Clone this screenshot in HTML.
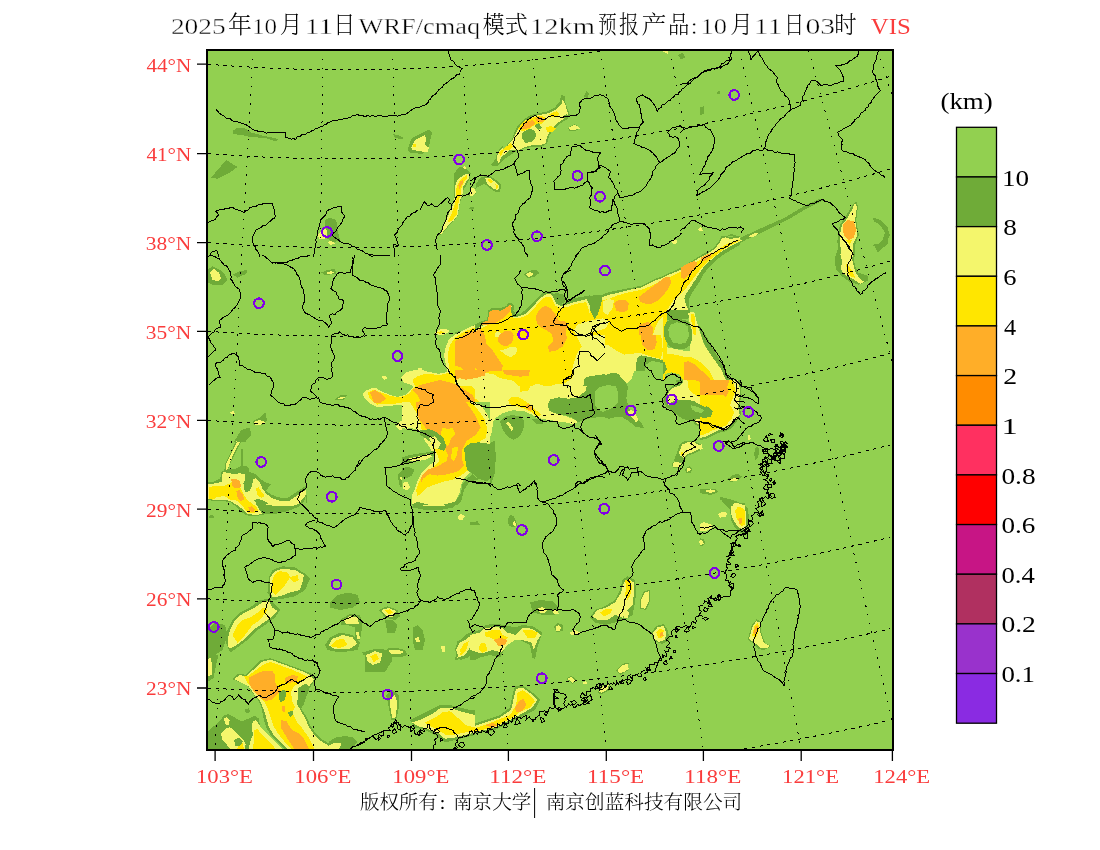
<!DOCTYPE html>
<html><head><meta charset="utf-8"><style>html,body{margin:0;padding:0;background:#fff;overflow:hidden}svg{display:block}</style></head><body>
<svg width="1100" height="850" viewBox="0 0 1100 850">
<rect width="1100" height="850" fill="#fff"/>
<defs><clipPath id="mc"><rect x="207" y="50" width="686" height="700"/></clipPath></defs>
<g clip-path="url(#mc)" shape-rendering="crispEdges"><rect x="207" y="50" width="686" height="700" fill="#92d050"/><path d="M232.5 131.2 L237.5 127.5 L243.8 127.5 L251.2 132.5 L265 136.2 L275 138 L278.8 140 L275 141.2 L265 138 L250 137 L242.5 135 L233.8 134.2Z M211.2 177.5 L217.5 170 L226.2 160 L237.5 167 L230 172.5 L217.5 178.8Z M407.5 150 L411.2 138.8 L420 133.8 L428.8 129.5 L432 132.5 L430 141.2 L428.8 147.5 L422.5 153.8 L410 153Z M392.5 133.8 L397.5 135 L403.8 138 L400 139.5 L395 137.5Z M325 220 L330 217.5 L336.2 220 L337.5 230 L340 240 L332.5 242.5 L326.2 237.5Z M496.2 162.5 L498.8 150 L508.8 140 L517.5 125 L527 117 L535.5 112 L550 108.8 L556.2 105 L561.2 94.5 L566.2 101.2 L570 112.5 L566.2 121.2 L557.5 128.8 L548.8 141.2 L543.8 145 L530 147.5 L520 148.8 L512.5 153.8 L505 158.8 L500 163.8Z M522.5 131.2 L530 128.8 L536.2 131.2 L535 137.5 L526.2 138.8Z M545 124.5 L553.8 122.5 L556.2 127.5 L550 130Z M483.8 181.2 L490 176.2 L496.2 180 L501.2 185 L500 192.5 L493.8 191.2 L487.5 186.2Z M583.8 96.2 L586.2 91.2 L588.8 93.8 L587.5 98.8Z M677.5 55 L682.5 53 L685.5 57 L681.2 59.5Z M700 107.5 L703.8 106.2 L703 113.8 L700 115Z M692.5 257 L707.5 247.5 L722.5 238.8 L731.2 233.8 L737.5 236.2 L735 242.5 L722.5 248.8 L710 255 L705 257Z M840 225 L845 217.5 L852.5 205 L856.2 201.2 L858 206.2 L856.2 220 L858.8 235 L855 245 L855 257 L840 257 L837.5 245 L837.5 235Z M740 238 L762.5 227.5 L785 217.5 L805 205.5 L820 198.8 L823.8 200 L807.5 208 L787.5 220 L765 231.2 L742.5 241.2Z M872.5 217.5 L880 220 L887.5 227.5 L890 235 L885 245 L877.5 252.5 L875 247.5 L882.5 240 L885 232.5 L880 225 L873.8 221.2Z M680 53.8 L683.8 54.5 L685 57.5 L681.2 58.8 L680 58.8Z M701.2 108.8 L704.5 107.5 L703.8 113.8 L700.5 115.5Z M717 92 L719.5 91 L719.5 93.8 L717 94.2Z M207.5 270 L212.5 266.2 L220 270 L225 275 L227.5 280 L222.5 285 L212.5 285 L207.5 282.5Z M232.5 275 L240 271.2 L247.5 270 L246.2 273.8 L237.5 277.5Z M321.2 272.5 L327.5 270 L335 268.8 L336.2 273.8 L325 275Z M335 399.5 L341.2 394.5 L347 395.5 L343 400.5Z M252.5 421.2 L260 417.5 L265.5 412.5 L267 420 L262.5 425 L253.8 425Z M225 467 L230 452.5 L235 440 L241.2 430 L250 427.5 L251.2 435 L242.5 445 L237.5 455 L233.8 467Z M455 332.1 L463.2 330.5 L471.4 326.2 L479.6 322.1 L487.1 319.4 L488.4 310.3 L491.9 307.8 L500 308.5 L506.6 305.8 L508 303 L511.2 302.5 L514.5 306.6 L513.4 310.9 L515.7 313.9 L520.2 313.9 L525.3 309.9 L530.7 304.4 L536.2 298.9 L541.9 293.5 L547.8 290.7 L550.8 291.4 L553.5 293.5 L556.7 296.6 L559.4 303 L562.8 303.7 L566.6 301.7 L570.7 298.9 L577.8 297.6 L586 296.2 L591.5 294.8 L596.9 293.5 L605 293.5 L605 386 L455 386Z M523.9 274.8 L528.7 270.7 L536.9 270 L539.6 272.7 L534.2 276.8 L527.3 278.2Z M720.1 255 L711.9 261.8 L707.8 268.6 L703.7 276.8 L701 285 L698.3 293.2 L695.5 300 L694.2 305.5 L695.5 309.6 L698.3 315.1 L701 323.2 L703.7 331.4 L707.8 339.6 L711.9 347.8 L717.4 358.7 L722.8 371 L600 371 L600 301.4 L605.5 297.6 L612.3 293.5 L617.7 290.8 L627.3 288.6 L634.1 286.7 L639.6 285.8 L647.8 283.7 L654.6 279.6 L661.4 274.1 L668.2 272.1 L676.4 270 L681.9 265.9 L687.3 260.5 L695.5 257 L703.7 255Z M700 252.8 L710.9 247.3 L721.9 242.7 L732.8 240 L745.6 240 L736.5 245.5 L723.7 250.9 L710.9 260.1 L705.5 267.3 L700 274.6Z M855 240 L855 247.3 L853.1 254.6 L855 265.5 L858.6 272.8 L867.7 275.6 L867.7 281 L858.6 284.7 L849.5 281.9 L842.2 276.5 L835.8 269.2 L834.9 258.2 L838.6 247.3 L836.7 240Z M875 243.6 L880.5 244.6 L882.3 240 L887.8 240 L887.8 243.6 L884.1 247.3 L878.7 248.2 L873.2 245.5Z M700 331.2 L707.3 342.1 L716.4 353 L721.9 364 L727.3 374.9 L736.5 384 L741.9 395 L700 395Z M207.5 482.5 L215 477.5 L222.5 470 L227.5 460 L250 460 L247.5 467.5 L250 475 L260 480 L267.5 485 L275 492.5 L287.5 497.5 L297.5 496.2 L302.5 490 L306.2 492.5 L307.5 502.5 L300 507.5 L282.5 507.5 L265 511.2 L257.5 513.8 L247.5 512.5 L237.5 508.8 L227.5 500 L215 497.5 L207.5 497.5Z M412.5 507.5 L415 495 L420 485 L417.5 475 L422.5 465 L432.5 460 L475 460 L475 482.5 L465 490 L460 500 L452.5 507.5 L440 510 L425 510Z M397.5 475 L402.5 470 L407.5 475 L405 485 L400 487.5Z M268.8 577.5 L272.5 570 L282.5 566.2 L295 567.5 L305 573.8 L310 578.8 L305 590 L295 596.2 L282.5 598.8 L272.5 600 L267.5 592.5Z M225 640 L227.5 630 L232.5 620 L240 612.5 L250 607.5 L260 600 L270 598.8 L275 605 L280 610 L275 617.5 L265 625 L257.5 630 L247.5 640 L237.5 647.5 L230 652.5Z M207.5 630 L215 622.5 L225 625 L227.5 635 L222.5 650 L215 655 L207.5 655Z M255 672 L260 660 L270 656.2 L285 657.5 L297.5 663.8 L302.5 672Z M325 645 L330 637.5 L340 632.5 L352.5 635 L360 642.5 L357.5 650 L340 652.5 L327.5 650Z M340 620 L350 613.8 L360 615 L362.5 625 L360 640 L355 640 L355 627.5 L347.5 625 L341.2 625Z M362.5 652.5 L375 648.8 L390 650 L392.5 660 L385 672 L365 672Z M378.8 610 L387.5 606.2 L397.5 610 L400 616.2 L395 620 L385 617.5Z M385 620 L392.5 620 L397.5 625 L395 632.5 L387.5 632.5Z M412.5 627.5 L417.5 625 L422.5 630 L425 640 L422.5 650 L415 650 L412.5 640Z M455 660 L457.5 645 L465 635 L475 630 L475 650 L467.5 657.5Z M386.2 648.8 L395 647.5 L405 650 L407.5 655 L400 657.5 L390 656.2Z M330 602.5 L337.5 595 L347.5 592.5 L357.5 595 L360 602.5 L352.5 607.5 L340 610 L330 607.5Z M470 460 L497.5 460 L495 470 L490 477.5 L482.5 480 L475 477.5 L470 478.8Z M507.5 520 L510 515 L513.8 516.2 L517.5 525 L513.8 527.5 L508.8 525.5Z M470 522.5 L477.5 521.2 L480 524.5 L470 525.5Z M470 632.5 L480 630 L485 625 L495 623.8 L505 625 L515 627.5 L522.5 625 L532.5 626.2 L542.5 632.5 L540 640 L537.5 647.5 L535 660 L532.5 657.5 L530 645 L520 640 L512.5 640 L505 647.5 L500 657.5 L490 655 L480 657.5 L475 660 L470 660Z M530 602.5 L540 600 L552.5 601.2 L558.8 607.5 L555 615 L542.5 615 L532.5 612.5Z M553.8 626.2 L557.5 623 L563 625 L562.5 631.2 L556.2 632Z M590 617.5 L595 610 L605 606.2 L615 600 L620 590 L622.5 580 L627.5 576.2 L635 580 L636.2 592.5 L635 602.5 L632.5 615 L625 620 L615 622.5 L605 625 L595 622.5Z M640 600 L643.8 591.2 L649.5 590 L650.5 600 L646.2 610 L640.5 608.8Z M651.2 632.5 L656.2 626.2 L663.8 623.8 L667.5 630 L670 640 L662.5 643.8 L653.8 641.2Z M720 497.5 L730 500 L737.5 502.5 L745 502.5 L745 535 L740 532.5 L735 527.5 L731.2 520 L730 510 L722.5 502.5Z M700 380 L740.1 380 L741.9 387.3 L736.5 394.6 L734.6 400.1 L740.1 407.3 L738.3 416.5 L732.8 421.9 L725.5 429.2 L714.6 434.7 L707.3 438.3 L700 440.2Z M754.7 449.3 L757.4 446.5 L759.3 449.3 L758.3 456.6 L755.6 460.2 L754.3 454.7Z M727.3 479.4 L732.8 474.8 L738.3 473.9 L741.9 476.6 L738.3 480.3 L731 482.1Z M700 489.4 L707.3 488.5 L716.4 489.4 L718.2 492.1 L710.9 494.9 L703.6 493.9 L700 493Z M731 504 L736.5 501.2 L741.9 504 L747.4 507.6 L749.2 518.6 L747.4 529.5 L740.1 529.5 L736.5 518.6 L732.8 511.3Z M720.1 496.7 L727.3 498.5 L736.5 501.2 L734.6 504 L725.5 502.2 L720.1 499.4Z M233.8 676.2 L245 671.2 L255 662.5 L265 658.8 L277.5 658.8 L290 662.5 L302.5 668.8 L312.5 673.8 L316.2 680 L310 686.2 L302.5 692.5 L295 697.5 L285 700 L275 702.5 L265 702.5 L255 697.5 L247.5 692.5 L240 685Z M260 700 L272.5 700 L282.5 697.5 L295 705 L302.5 715 L312.5 725 L325 735 L340 743.8 L352.5 749 L307.5 749 L297.5 742.5 L287.5 735 L275 727.5 L267.5 717.5 L262.5 710Z M217.5 720 L225 715 L232.5 720 L240 727.5 L250 730 L260 735 L265 742.5 L265 749 L242.5 749 L232.5 745 L225 740 L220 732.5Z M250 721.2 L257.5 717.5 L265 723.8 L271.2 735 L278.8 742.5 L285 749 L262.5 749 L257.5 740 L252.5 732.5Z M207.5 655 L211.2 652.5 L213.8 660 L212.5 675 L207.5 676.2Z M386.2 695 L392.5 690 L398.8 695 L398.8 707.5 L396.2 720 L391.2 720 L388.8 707.5Z M410 720 L420 715 L430 710 L440 705 L450 705 L460 707.5 L470 710 L475 710 L475 735 L465 737.5 L455 740 L445 742.5 L435 735 L425 730 L415 727.5Z M455 650 L457.5 641.2 L465 637.5 L475 635 L475 652.5 L467.5 657.5 L460 660Z M225 749 L230 745 L237.5 749Z M470 725 L485 720 L500 715 L510 707.5 L512.5 695 L515 686.2 L522.5 685 L532.5 692.5 L540 700 L535 710 L525 715 L515 720 L505 725 L495 730 L480 732.5 L470 733.8Z M566.2 678.8 L571.2 675.5 L576.2 679.5 L572.5 683.8Z M597.5 692 L603 685 L610 683.8 L608.8 690.5 L600.5 694.5Z M616.2 670.5 L622 664 L628.8 662.5 L627.5 670.8 L620 675Z M748.3 637.6 L752 624.8 L756.5 619.3 L760.2 621.2 L761.1 632.1 L763.8 639.4 L765.6 643.9 L770.2 644.9 L769.3 647.6 L763.8 650.3 L758.3 648.5 L752.9 643 L748.3 640.3Z M700 538.2 L703.6 539.1 L705.5 543.7 L701.8 546.4 L700 546Z M660.5 360 L727.4 360 L732.8 368.2 L738.3 377.7 L741 387.3 L741 396.9 L739.7 406.4 L741 414.6 L736.9 421.4 L731.5 428.2 L724.7 431.7 L716.5 433 L711 435.7 L705.6 439.2 L701.5 433.7 L700.1 426.9 L694.6 424.1 L691.9 420.1 L687.8 420.1 L682.3 418.7 L676.9 414.6 L671.4 410.5 L666 406.4 L663.2 400.9 L665.3 394.1 L668.7 389.3 L672.8 385.9 L676.9 383.2 L674.2 376.4 L668.7 369.6 L663.2 364.1Z M676.9 452.8 L679.6 444.6 L685.1 440.5 L693.3 440.5 L701.5 444.6 L702.8 448.7 L696 452.8 L687.8 455.5 L683.7 461 L679.6 463.7 L675.5 465.1 L674.2 459.6Z M672.1 463.7 L675.5 460.7 L678.9 462.4 L677.6 467.8 L672.8 468.1Z M685.1 469.2 L689.2 466.2 L692.6 468.9 L690.3 473.3 L685.8 472.6Z M454.1 173.5 L458.8 167.6 L463.5 166.5 L468.2 171.2 L470.6 173.5 L470 178.2 L467.1 184.1 L463.5 190 L462.4 195.9 L460 202.9 L458.8 208.8 L457.6 215.9 L454.1 220.6 L449.4 225.3 L444.7 231.2 L441.2 234.7 L438.8 234.7 L440 231.2 L443.5 225.3 L445.9 218.2 L449.4 211.2 L452.9 204.1 L454.1 197.1 L453.5 187.6 L454.1 180.6Z M468.8 193.8 L471.3 188.8 L475.1 189.4 L476 193.1 L472.6 196.1 L469.4 196.5Z M476.5 182.9 L481.2 177.1 L485.9 175.9 L492.9 178.2 L498.8 182.9 L500 188.8 L496.5 191.8 L491.8 188.8 L487.1 185.3 L483.5 184.1 L478.8 186.5 L475.3 188.8Z M490.6 165.3 L495.3 159.4 L496.5 154.7 L498.8 150 L505.9 150 L504.7 154.7 L501.2 159.4 L500 164.1 L496.5 166.5Z M468.2 208.2 L471.8 206.5 L474.7 208.2 L471.8 210Z" fill="#6fab38"/><path d="M411.2 147.5 L415 140 L425 135 L426.2 138.8 L425 145 L428.8 147.5 L427.5 152.5 L420 151.2 L412.5 150Z M317.5 235 L322 230.5 L326.2 228.8 L327.5 235 L325 238.8 L319.5 238.8Z M327.5 242.5 L331.2 240.5 L335 243.8 L330 245Z M498.8 158.8 L501.2 148.8 L511.2 141.2 L520 126.2 L530 117.5 L537.5 114.5 L550 112 L558.8 108.8 L562.5 100.5 L567.5 108.8 L567.5 115 L561.2 120 L555 128.8 L547.5 137.5 L545 143.8 L533.8 145 L525 145 L516.2 145 L510 150 L502.5 156.2Z M568.8 127.5 L572.5 124.5 L577.5 125.5 L580 128.8 L575 130.5Z M485.5 181.2 L490 178.2 L495 182 L499.5 186.2 L498 190 L493.8 188.8 L488.8 185Z M470 188.8 L473.8 187.5 L476.2 192.5 L472.5 196.2 L470 196.2Z M696.2 257 L710 248.8 L722.5 241.2 L731.2 236.2 L735 238.8 L732.5 243.8 L720 250 L707.5 257Z M672.5 242.5 L676.2 239.5 L680 242.5 L676.2 245Z M698 228.8 L701.2 227 L702.5 230.5 L699.5 231.2Z M662.5 51.2 L668.8 50.5 L667.5 53.8Z M842 225 L847 218.8 L852.5 208.8 L855 203 L857 207 L855 220 L857.5 235 L852.5 245 L852.5 257 L843.8 257 L840 245 L840 235Z M748.8 236.2 L755 233 L758.8 233 L756.2 235.5 L751.2 237.5Z M210 272.5 L213.8 268.8 L218.8 272.5 L221.2 278.8 L218.8 281.2 L212.5 280Z M325 273 L331.2 271.2 L334.5 272.5 L330 274.5Z M435 332.5 L440 329.5 L446.2 329 L450 331.2 L443.8 334.5 L437.5 334.5Z M475 467 L428.8 467 L431.2 461.2 L433.8 453.8 L430 445 L426.2 436.2 L420 430.5 L415 427.5 L408.8 430 L400 430.5 L396.2 426.2 L400 421.2 L411.2 417.5 L415.5 412.5 L415 405 L407.5 405.5 L397.5 405 L387.5 406 L377.5 407 L371.2 404.2 L366.2 400 L362.5 395 L365 391.2 L370 388.8 L375 387.5 L381.2 391.2 L390 395 L397.5 397 L405 395 L413.8 387 L410 384.5 L403.8 382.5 L401.2 377 L406.2 372.5 L412.5 370.5 L420 369.5 L428.8 372 L438.8 373.8 L447.5 372 L445.8 365 L444 355.5 L445.8 347 L448.8 339.5 L457.5 333 L467.5 328 L475 325Z M381.2 377 L385 375.5 L387.5 378 L384.5 380Z M337.5 398.8 L341.5 396.5 L344.5 397.5 L341.2 399.5Z M253.8 422 L260 420 L265.5 422 L261.2 424.5 L255 424.5Z M230 412 L233.8 411.2 L235 413.8 L231.2 414.5Z M226.2 467 L228.8 455 L233.8 445 L237.5 440 L235 452.5 L231.2 467Z M417.5 368.8 L421.2 367.5 L422.5 370 L418.8 370.8Z M455 336.9 L468.6 332.8 L479.6 327.3 L489.1 321.9 L490.5 310.9 L500 310.9 L506.9 308.2 L509.6 305.5 L512.3 305.5 L509.6 312.3 L512.3 317.1 L519.1 316.4 L526 313.7 L532.8 306.9 L539.6 298.7 L545.1 294.6 L550.5 293.9 L553.3 297.3 L556 303.4 L561.5 306.2 L568.3 304.1 L573.7 302.1 L580.6 300.7 L586 299.3 L605 297.3 L605 386 L455 386Z M526 274.1 L529.4 272 L533.5 273 L532.1 276.1 L528 276.8Z M709.2 261.1 L703.7 267.3 L698.3 274.1 L695.5 279.6 L694.2 289.1 L693.5 295.9 L694.2 304.1 L695.5 309.6 L696.9 316.4 L698.3 326 L700.3 334.2 L703.7 342.3 L707.8 350.5 L713.3 361.5 L717.4 371 L600 371 L600 302.8 L605.5 298.7 L612.3 294.6 L617.7 291.9 L627.3 289.8 L634.1 287.8 L639.6 287.1 L647.8 285 L654.6 280.9 L661.4 275.5 L668.2 273.4 L676.4 271.4 L681.9 267.3 L687.3 261.8 L695.5 258.4 L703.7 256.4 L716 255Z M700 256.4 L710.9 250 L723.7 243.6 L736.5 240 L742.8 240 L732.8 244.6 L721.9 249.1 L710.9 256.4 L703.6 261.9 L700 264.6Z M853.1 240 L853.1 247.3 L851.3 256.4 L853.1 263.7 L855 271 L858.6 277.4 L864.1 281.9 L860.4 283.8 L853.1 279.2 L845.9 275.6 L840.4 269.2 L842.2 261.9 L840.4 254.6 L842.2 247.3 L839.5 240Z M700 338.5 L705.5 345.7 L712.8 354.9 L718.2 364 L723.7 374.9 L732.8 385.9 L736.5 395 L700 395Z M210 485 L220 482.5 L225 472.5 L223.8 460 L232.5 460 L230 470 L237.5 475 L240 482.5 L247.5 487.5 L255 485 L260 487.5 L265 495 L275 500 L287.5 502.5 L297.5 501.2 L302.5 495 L305 500 L300 505 L282.5 505 L265 508.8 L257.5 511.2 L247.5 510 L237.5 506.2 L227.5 497.5 L215 495 L210 492.5Z M415 502.5 L417.5 492.5 L422.5 485 L420 475 L425 467.5 L435 460 L475 460 L475 480 L462.5 487.5 L457.5 497.5 L450 505 L437.5 506.2 L425 506.2Z M400 477.5 L403 476.2 L403.8 480 L401.2 480.5Z M457.5 516.2 L461.2 513.8 L465 516.2 L462.5 520 L458.8 519.5Z M270 577.5 L275 571.2 L282.5 568.8 L295 570 L303.8 575 L302.5 582.5 L300 590 L290 592.5 L280 596.2 L272.5 597.5 L270 590Z M227.5 640 L230 630 L235 620 L242.5 613.8 L252.5 608.8 L262.5 602.5 L268.8 601.2 L272.5 607.5 L277.5 611.2 L272.5 616.2 L263.8 622.5 L255 628.8 L245 638.8 L235 646.2 L228.8 648.8Z M257.5 672 L261.2 661.2 L270 658 L283.8 659.2 L296.2 664.5 L301.2 672Z M328.8 645 L332.5 638.8 L342.5 635 L352.5 637.5 L357.5 643.8 L350 648.8 L335 649.5Z M343.8 620 L350 616.2 L357.5 617.5 L358.8 623.8 L352.5 623.8 L346.2 623.8Z M356.2 632.5 L358.8 632 L360 638.8 L357 638.8Z M366.2 655 L375 651.2 L382.5 653.8 L380 662.5 L372.5 665 L367.5 661.2Z M381.2 610 L388.8 608 L396.2 611.2 L392.5 617.5 L386.2 616.2Z M415 638 L418.8 637 L420 642 L416.2 642.5Z M441.2 646.2 L444.5 645.5 L445 652 L442 652.5Z M457.5 657.5 L460 645 L467.5 637.5 L472.5 635 L470 645 L465 655Z M388.8 650.5 L397.5 649.5 L403.8 652 L398.8 654.5 L391.2 654.2Z M512.5 522 L515 521.2 L516.2 525.5 L513.8 526.2Z M470 635 L480 632.5 L485 628 L495 627 L502.5 628 L507.5 632.5 L515 635 L522.5 627.5 L532.5 628.8 L541.2 635 L537.5 640 L533.8 650 L531.2 642.5 L522.5 640 L515 640 L507.5 645 L501.2 652.5 L492.5 650 L485 652.5 L477.5 652.5 L470 650Z M537.5 608.8 L542.5 607 L547.5 610 L545 613 L540 612.5Z M552.5 610 L557.5 609.5 L558.8 613.8 L553.8 614.5Z M555.5 627 L558.8 625 L561.2 627.5 L560 630.5 L556.5 630.5Z M570 632.5 L575 630 L580 632.5 L576.2 635.5 L571.2 635Z M592.5 616.2 L597.5 610 L606.2 607.5 L615 602.5 L621.2 592.5 L623.8 582.5 L628.8 578.8 L633.8 582.5 L633.8 595 L632.5 605 L627.5 610 L622.5 617.5 L615 615 L607.5 620 L597.5 620Z M641.2 600 L645 592.5 L648.8 591.2 L649.5 600 L645 608.8 L641.2 607.5Z M623 612.5 L626.2 610 L629.5 613 L627.5 618 L623.8 617.5Z M653 632.5 L657.5 627.5 L663.8 625.5 L666.2 632.5 L665 640 L658.8 642 L654.5 638.8Z M620 668.8 L623.8 665 L627.5 663.8 L628.8 668.8 L623.8 672Z M672.5 465 L677.5 462 L681.2 463.8 L678.8 467 L673.8 467Z M687 468 L690 467.5 L690.5 471.2 L687.5 471.5Z M731.2 506.2 L737.5 503.8 L745 505 L745 530 L738.8 527.5 L733.8 521.2 L731.2 513.8Z M720 513.8 L723.8 512 L726.2 515 L722.5 517Z M705 525.5 L710 523.8 L713 527 L708.8 529Z M698.8 541.2 L702 539.5 L703.8 543.8 L700.5 545.5Z M706.2 490.5 L711.2 489.5 L715 491.5 L710 493Z M730 479.5 L735 477.5 L738 479.5 L733.8 481.5Z M700 380 L736.5 380 L738.3 387.3 L733.7 394.6 L732.8 401.9 L736.5 409.2 L734.6 416.5 L729.2 421.9 L721.9 428.3 L712.8 432.9 L705.5 436.5 L700 438.3Z M747.4 435.6 L749.6 434.7 L751 439.3 L748.3 440.2Z M729.2 480.3 L733.7 478.5 L737.4 478.5 L736.5 480.6 L731 481.4Z M705.5 490.3 L710.9 489.4 L715.5 490.7 L710.9 492.1 L706.4 491.8Z M732.8 504 L737.4 502.5 L741.9 505.8 L745.6 511.3 L746.5 522.2 L744.7 528.6 L740.1 527.7 L738.3 518.6 L734.6 511.3Z M718.2 514 L722.8 511.6 L727.3 513.1 L725.5 516.7 L720.1 517.6Z M700 524 L703.6 522.2 L709.1 524 L710.9 528.6 L705.5 531.3 L700 531.3Z M700 444.7 L702.2 444.2 L702.7 449.3 L700 449.6Z M237.5 676.2 L246.2 673 L256.2 665 L266.2 660.5 L277.5 660.5 L288.8 664 L301.2 670 L311.2 675 L313.8 680 L307.5 685 L300 691.2 L292.5 695 L282.5 697.5 L275 700 L266.2 700.5 L257.5 696.2 L250 691.2 L242.5 683.8Z M263.8 701.2 L273.8 701.2 L282.5 700 L292.5 707.5 L300 717.5 L310 727.5 L322.5 737.5 L335 745 L342.5 749 L312.5 749 L300 742.5 L290 735 L280 727.5 L271.2 717.5 L266.2 710Z M220 721.2 L225 717.5 L230 722.5 L235 730 L245 732.5 L255 737.5 L260 745 L257.5 749 L242.5 749 L235 742.5 L227.5 737.5 L222.5 730Z M252.5 722.5 L257.5 720 L262.5 725 L267.5 735 L275 742.5 L280 749 L265 749 L260 740 L255 732.5Z M207.5 657.5 L210 656.2 L211.2 665 L210 674.5 L207.5 675Z M390 697.5 L395 695 L397.5 702.5 L395.5 717.5 L392 717.5 L390.5 707.5Z M412.5 722.5 L422.5 718.8 L432.5 713.8 L441.2 707.5 L450 707.5 L460 711.2 L470 713.8 L475 715 L475 732.5 L465 735 L455 737.5 L445 738.8 L437.5 732.5 L427.5 728.8 L417.5 726.2Z M456.2 650 L460 642.5 L467.5 638.8 L472.5 638.8 L470 647.5 L465 655 L458.8 657.5Z M470 727.5 L485 722.5 L500 717.5 L511.2 710 L513.8 697.5 L516.2 688.8 L522.5 687.5 L531.2 693.8 L537.5 700 L532.5 707.5 L523.8 712.5 L515 717.5 L505 722.5 L495 727.5 L480 731.2 L470 732Z M567.5 678.8 L571.2 677 L575 680 L572.5 682.5Z M582.5 682 L586.2 681.2 L587.5 683.8 L583.8 684.5Z M598.8 691.2 L603.8 686.2 L608.8 685 L607.5 689.5 L601.2 693Z M617.5 670 L622.5 665 L627.5 663.8 L626.2 670 L620 673.8Z M749.2 638.5 L752.9 625.7 L756.5 621.2 L759.8 622.6 L760.2 632.1 L762.9 640.3 L763.8 646.7 L760.2 647.6 L755.6 641.2 L750.1 640.3Z M751.1 640 L759.4 640 L765.3 643.5 L770 645.9 L767.7 648.3 L761.7 648.3 L757 644.7Z M455 370 L605 370 L605 375.5 L594.2 378.2 L587.4 382.3 L586 390.5 L577.8 397.3 L568.3 398.7 L558.7 397.3 L550.5 399.3 L547.8 404.1 L549.2 410.9 L556 413.7 L564.2 415.7 L572.4 418.5 L577.8 421.9 L572.4 424.6 L564.2 423.2 L553.3 420.5 L543.7 419.1 L536.9 417.8 L531.4 414.4 L523.2 410.9 L512.3 410.3 L502.8 413 L495.9 417.8 L493.2 421.9 L491.9 431.4 L488.4 443.7 L475.5 444.4 L468.6 449.2 L465.9 457.3 L464.6 468.3 L460.5 476.5 L455 479.2Z M595 360 L637.3 360 L635.9 368.2 L633.2 373.6 L631.9 379.1 L627.8 383.2 L622.3 381.8 L616.8 375 L611.4 373.6 L605.9 375 L600.5 376.4 L595 377.7Z M661.9 360 L726 360 L731.5 368.2 L736.9 377.7 L739.7 387.3 L739.7 396.9 L738.3 406.4 L739.7 414.6 L735.6 420.1 L730.1 426.9 L723.3 429.6 L715.1 431 L709.6 433.7 L705.6 437.1 L702.8 432.3 L701.5 425.5 L696 422.8 L693.3 420.1 L698.7 418.7 L705.6 418.7 L710.3 414.6 L706.9 410.5 L698.7 407.8 L693.3 403.7 L685.1 401.6 L676.9 399.6 L671.4 402.3 L668.7 405 L666 400.9 L667.3 395.5 L669.4 390.7 L674.2 387.3 L679.6 385.9 L683.7 381.8 L679.6 376.4 L672.8 370.9 L666 365.5Z M678.9 452.8 L682.3 444.6 L687.8 441.9 L693.3 441.9 L700.1 445.3 L700.8 448 L694.6 451.4 L687.8 454.2 L683.7 458.3 L680.3 455.5Z M672.8 463.7 L675.5 461.7 L678.3 463 L676.9 466.5 L673.5 467.1Z M686.7 469.2 L689.2 467.8 L691.2 469.2 L689.7 471.2 L687.3 471.1Z M455.3 185.3 L457.6 179.4 L462.4 175.9 L467.1 173.5 L469.4 174.1 L468.8 178.2 L465.9 181.8 L463.5 186.5 L462.4 194.7 L460 200.6 L458.8 208.8 L457.6 215.3 L454.1 220 L449.4 224.1 L444.7 230 L440.6 234.7 L440 232.9 L443.5 226.5 L446.5 219.4 L449.4 212.4 L452.9 205.3 L454.7 197.1 L454.7 190Z M463.3 167.6 L464.7 165.3 L466.1 167.6 L465.3 169.4Z M469.4 193.5 L471.8 189.4 L474.7 190 L475.3 192.9 L472.4 195.3 L470 195.9Z M485.3 178.2 L489.4 177.6 L493.5 180.6 L498.2 184.1 L499.4 187.6 L497.1 190 L494.1 187.1 L490.6 184.1 L486.5 182.4Z M496.5 159.4 L497.6 154.7 L500 150 L505.3 150 L504.1 153.5 L501.2 157.1 L500 161.2 L498.2 162.9Z" fill="#f4f66c"/><path d="M413 144.5 L415.5 144 L416 146.5 L413.5 147Z M705 257 L717.5 249.5 L727.5 243.8 L731.2 245 L720 252.5 L712.5 257Z M437.5 332.5 L441.2 330.8 L443.8 332.5 L440 333.8Z M475 467 L436.2 467 L436.2 450 L432.5 440 L425 430 L415 425 L418.8 417.5 L420 408.8 L415 402.5 L405 403 L390 403.8 L377.5 404.5 L370 398.8 L367.5 393 L372.5 390 L380 392 L390 395.8 L400 397.5 L408.8 393.8 L415 386.2 L412.5 380 L417.5 376.2 L425 373.8 L440 375 L450 372.5 L448.8 365 L447.5 355 L450 345 L455 337.5 L465 331.2 L475 327.5Z M455 338.9 L468.6 334.8 L479.6 329.4 L489.8 323.9 L491.9 313 L500 313 L507.5 309.9 L510.3 308.5 L511 312.3 L513.7 318.5 L520.5 317.8 L527.3 315 L534.2 308.2 L540.3 300.7 L545.8 296.6 L550.5 296.6 L552.6 300 L555.3 305.8 L561.5 308.2 L568.3 306.6 L575.1 304.1 L581.9 302.8 L586 302.1 L589.4 310.9 L590.1 320.5 L586 321.9 L577.8 324.6 L573.7 330.1 L577.8 338.2 L581.9 346.4 L577.8 351.9 L575.1 358.7 L572.4 368.3 L566.9 376.5 L561.5 381.9 L550.5 386 L455 386Z M703.7 265.9 L698.3 274.1 L694.2 280.9 L692.8 289.1 L690.1 295.9 L684.6 300 L676.4 302.1 L668.2 304.1 L664.1 309.6 L665.5 315.1 L662.8 319.1 L660.1 326 L661.4 336.9 L662.8 350.5 L660.1 361.5 L665.5 362.8 L673.7 364.2 L676.4 371 L706.5 371 L701 361.5 L692.8 356 L684.6 353.3 L676.4 353.3 L668.2 358.7 L660.1 358.7 L649.1 356 L640.9 353.3 L635.5 353.3 L624.6 354.6 L616.4 350.5 L608.2 345.1 L600 343.7 L600 339.6 L602.7 336.9 L608.2 331.4 L613.6 320.5 L610.9 315.1 L605.5 313.7 L600 315.1 L600 304.1 L605.5 300.7 L615 295.9 L624.6 293.2 L634.1 290.8 L642.3 289.8 L650.5 287.8 L657.3 283.7 L662.8 278.9 L669.6 276.8 L677.8 275.5 L684.6 272.7 L688.7 267.3 L694.2 263.2 L701 260.5 L709.2 256.4Z M690.1 315.1 L692.8 313 L695.5 316.4 L696.2 323.2 L695.5 328.7 L694.2 331.4 L692.1 326 L690.8 320.5Z M700 258.2 L710.9 252.8 L723.7 246.4 L736.5 240.9 L727.3 245.5 L716.4 251.9 L705.5 258.2 L700 261Z M852.2 240 L849.5 244.6 L845.9 240Z M845.9 263.7 L849.5 267.3 L853.1 272.8 L855.9 278.3 L851.3 276.5 L847.7 272.8 L846.8 269.2Z M700 353 L707.3 358.5 L714.6 367.6 L720.1 378.6 L725.5 389.5 L727.3 395 L700 395Z M227.5 475 L235 475 L242.5 480 L242.5 490 L246.2 495 L250 497.5 L253.8 506.2 L250 511.2 L245 508.8 L238.8 501.2 L232.5 492.5 L228.8 485Z M256.2 487.5 L262.5 490 L268.8 497.5 L262.5 500 L257.5 495Z M210.5 486.2 L217.5 485 L220 490 L215 494.5 L210.5 492Z M420 490 L425 482.5 L425 472.5 L432.5 465 L445 460 L465 460 L467.5 467.5 L460 475 L452.5 480 L447.5 487.5 L440 490 L430 492.5Z M272.5 580 L275 573.8 L280 571.2 L287.5 572.5 L290 577.5 L285 585 L280 590 L275 595 L271.2 590Z M288.8 577.5 L297.5 575 L298.8 580 L293.8 582.5Z M232.5 635 L237.5 625 L242.5 620 L250 617.5 L257.5 612.5 L262.5 607.5 L267.5 610 L260 620 L252.5 625 L245 635 L237.5 642.5Z M260 672 L263.8 663 L271.2 660 L282.5 661.2 L293.8 666.2 L297.5 672Z M330 646.2 L336.2 640 L343.8 638.8 L347.5 645 L340 648Z M370 656.2 L376.2 653.8 L378.8 658.8 L373.8 662Z M385 610.5 L390 609.2 L393 612.5 L388.8 614.5Z M460 655 L462.5 647.5 L467.5 641.2 L466.2 650Z M485 632.5 L492.5 630 L500 630 L502.5 635 L507.5 637.5 L505 640 L500 645 L495 640 L490 637.5 L485 636.2Z M522.5 630 L530 629.5 L537.5 632.5 L535 637.5 L527.5 637.5Z M480 643.8 L485 642.5 L487.5 650 L482.5 652.5 L478.8 650Z M600 612.5 L606.2 608.8 L612.5 608.8 L610 613.8 L603.8 616.2Z M625 580 L630 579.5 L632 587.5 L630 596.2 L627.5 600 L625 595 L626.2 587.5Z M656.2 632.5 L660 628.8 L663.8 630 L662.5 637.5 L658 638Z M735 510 L741.2 507.5 L745 510 L745 525 L740 523.8 L736.2 517.5Z M700 380 L732.8 380 L734.6 387.3 L731 396.4 L729.2 403.7 L732.8 411 L731 416.5 L725.5 421.9 L720.1 427.4 L710.9 431 L703.6 434.7 L700 435.6Z M736.5 507.6 L741 506.7 L743.8 513.1 L744.7 524 L741 526.8 L739.2 518.6 L737.4 513.1Z M243.8 677.5 L250 675 L257.5 667.5 L267.5 663.8 L277.5 664.5 L287.5 667.5 L300 672.5 L307.5 677.5 L302.5 683.8 L295 688.8 L285 692.5 L275 696.2 L266.2 697.5 L258.8 693.8 L252.5 688.8 L247.5 682.5Z M267.5 705 L275 705 L282.5 707.5 L290 715 L297.5 725 L307.5 735 L317.5 742.5 L325 749 L310 749 L300 740 L290 730 L280 722.5 L272.5 715 L268.8 710Z M257.5 735 L262.5 737.5 L267.5 745 L268.8 749 L261.2 749 L258.8 742.5Z M425 722.5 L435 717.5 L442.5 712.5 L450 711.2 L457.5 717.5 L465 725 L475 727.5 L475 731.2 L465 732.5 L455 734.5 L446.2 735 L437.5 730 L430 726.2Z M460 650 L463.8 643.8 L468.8 641.2 L466.2 650 L461.2 655Z M470 729.5 L485 725 L497.5 720 L510 715 L516.2 705 L517.5 692.5 L522.5 690 L530 695 L535 701.2 L530 707.5 L521.2 711.2 L512.5 717.5 L500 723.8 L487.5 728.8 L475 731.2Z M752 635.7 L754.7 625.7 L757.4 623 L759.3 625.7 L758.3 632.1 L755.6 637.6Z M455 370 L573.7 370 L572.4 378.2 L564.2 383.6 L550.5 385 L536.9 380.9 L531.4 383.6 L528.7 390.5 L520.5 391.8 L519.1 383.6 L515.1 378.2 L502.8 375.5 L494.6 372.7 L486.4 375.5 L479.6 380.9 L471.4 385 L468.6 391.8 L475.5 398.7 L485 405.5 L490.5 415 L489.1 427.3 L487.8 435.5 L482.3 441 L474.1 445.7 L468 450.5 L465.2 458.7 L463.2 471 L457.7 476.5 L455 477.8Z M671.4 360 L723.3 360 L728.8 369.6 L732.8 380.5 L735.6 391.4 L732.8 398.2 L730.1 405 L734.2 411.9 L731.5 418.7 L726 425.5 L717.8 428.2 L711 431 L706.9 433.7 L704.2 428.2 L702.8 424.1 L706.9 421.4 L715.1 418.7 L717.8 413.2 L713.7 406.4 L706.9 402.3 L698.7 396.9 L691.9 392.8 L687.8 387.3 L687.8 381.8 L682.3 373.6 L676.9 366.8Z M680.3 454.2 L682.3 451.4 L683.7 454.2 L681.7 455.5Z M456.5 187.6 L458.8 181.8 L463.5 177.1 L467.6 174.7 L467.1 178.2 L464.1 181.8 L461.8 186.5 L460.6 194.7 L458.8 200.6 L457.6 208.8 L456.5 214.7 L452.9 219.4 L448.8 222.9 L448.2 220.6 L451.8 213.5 L454.1 206.5 L455.9 199.4 L455.9 193.5Z M487.6 179.4 L490.6 178.8 L492.9 181.8 L490.6 183.5Z M495.3 184.1 L497.6 185.3 L498.2 187.6 L496.5 188.6Z M498.8 153.5 L501.2 150 L504.1 150 L502.4 153.5 L500.6 155.9Z" fill="#ffe600"/><path d="M494.6 334.1 L497.3 331.4 L500.7 332.8 L500 336.9 L495.9 337.6Z M500 350.5 L505.5 349.2 L511 346.4 L517.1 347.8 L516.4 353.3 L511 357.3 L505.5 354.6Z M455 373.7 L465.9 371.7 L475.5 373.7 L485 375.1 L495.9 375.1 L497.3 386 L455 386Z M577.8 326 L586 323.2 L591.5 321.9 L605 321.9 L605 386 L575.1 386 L573.7 373.7 L577.8 365.5 L577.8 354.6 L583.3 346.4 L579.2 338.2 L575.1 331.4Z M604.1 301.4 L609.6 299.4 L613.6 302.1 L613 309.6 L610.9 313 L605.5 312.3 L604.1 306.9Z M600 343.7 L608.2 345.1 L616.4 350.5 L624.6 354.6 L635.5 353.3 L636.2 358.7 L635.5 371 L600 371Z M463.2 375.5 L472.7 372.7 L482.3 372.7 L493.2 374.1 L500 378.2 L513.7 380.9 L517.8 385 L519.1 393.2 L526 393.2 L531.4 386.4 L536.9 383.6 L550.5 387.7 L564.2 386.4 L572.4 382.3 L575.1 389.1 L577.8 395.9 L568.3 397.3 L558.7 395.9 L550.5 398.7 L545.1 404.1 L536.9 401.4 L530.1 397.3 L519.1 397.3 L509.6 395.9 L495.9 398.7 L486.4 395.9 L478.2 391.8 L471.4 386.4 L465.9 380.9Z" fill="#f4f66c"/><path d="M521.2 125 L527.5 120 L533.8 121.2 L531.2 126.2 L523.8 128.8Z M535.5 117.5 L541.2 115.8 L546.2 118.8 L542.5 122 L536.2 121.2Z M842.5 225 L847.5 220 L853.8 221.2 L856.2 230 L853.8 237.5 L848.8 240 L843.8 235Z M475 375 L472.5 375 L465 372.5 L460 365 L462.5 355 L460 347.5 L460 337.5 L467.5 332.5 L475 330Z M370 392.5 L375 390 L381.2 393.8 L386.2 398.8 L380 403 L373.8 402.5Z M412.5 390 L420 385 L430 382.5 L440 380 L450 382.5 L457.5 385 L465 390 L472.5 395 L475 400 L475 445 L465 445 L457.5 435 L447.5 430 L440 425 L432.5 420 L425 415 L420 415 L417.5 407.5 L420 400 L417.5 395Z M455 341 L463.2 336.9 L470 334.1 L475.5 331.4 L480.9 328.7 L485 335.5 L486.4 343.7 L491.9 349.2 L497.3 357.3 L502.8 365.5 L501.4 371 L490.5 371 L482.3 373.7 L475.5 368.3 L468.6 365.5 L463.2 368.3 L455 365.5Z M489.8 310.9 L495.9 309.6 L500 310.9 L505.5 308.2 L509.6 304.8 L511.6 306.2 L509.6 312.3 L505.5 316.4 L500 320.5 L494.6 323.2 L489.1 324.6 L482.3 324.6 L481.6 323.2 L487.8 320.5Z M498.7 335.5 L504.1 331.4 L511 330.7 L513.7 335.5 L512.3 342.3 L506.9 346.4 L501.4 345.1 L498 341Z M535.5 316.4 L539.6 309.6 L545.1 305.5 L550.5 308.2 L556 315 L558.7 320.5 L564.2 320.5 L568.3 324.6 L565.6 331.4 L566.9 338.2 L562.8 346.4 L556 350.5 L549.2 351.9 L547.8 346.4 L553.3 341 L551.9 334.1 L546.4 330.1 L541 327.3 L536.9 323.2Z M613.6 302.8 L617.7 298.7 L623.9 298.4 L628.7 302.1 L628.9 308.2 L625.9 313 L620.5 314 L615 311Z M623.2 294.6 L628.7 293.2 L634.1 293.9 L633.4 296.6 L627.3 297.6 L623.9 296.6Z M640.9 291.9 L647.8 287.8 L654.6 284.3 L660.1 282.3 L664.1 286.4 L662.8 293.2 L657.3 295.9 L653.2 301.4 L647.8 302.8 L643.7 298.7Z M665.5 278.2 L671 275.5 L676.4 274.1 L681.9 271.4 L684.6 267.3 L690.1 263.2 L694.2 260.5 L692.8 267.3 L688.7 272.7 L686 278.2 L681.9 282.3 L676.4 282.3 L671 280.9Z M640.9 326 L646.4 321.9 L653.2 323.2 L656 331.4 L656.6 342.3 L654.6 349.2 L647.8 350.5 L642.3 345.1 L640.9 336.9Z M681.9 364.2 L686 361.5 L691.4 362.8 L695.5 371 L681.9 371Z M701 365.6 L706.5 364.2 L709.2 371 L702.4 371Z M700 367.6 L707.3 365.8 L714.6 374.9 L720.1 385.9 L721.9 395 L700 395Z M232.5 480 L237.5 481.2 L240 487.5 L243.8 495 L241.2 500 L236.2 495 L232.5 487.5Z M248.8 503.8 L252.5 502.5 L255 508.8 L251.2 511.2Z M422.5 477.5 L430 470 L440 465 L450 462.5 L460 460 L465 462.5 L460 470 L450 473.8 L440 476.2 L432.5 481.2 L425 483.8Z M265 672 L268.8 668 L275 669.5 L276.2 672Z M493.8 640 L500 637.5 L507.5 640 L505 645 L498.8 646.2Z M659.5 633 L662.5 632 L663.8 635.5 L660.5 636.5Z M700 380 L729.2 380 L727.3 387.3 L723.7 394.6 L714.6 392.8 L707.3 390.9 L700 392.8Z M738.3 518.6 L741.6 517.6 L742.3 523.1 L739.2 524Z M248.8 680 L257.5 676.2 L262.5 671.2 L270 670 L275 676.2 L282.5 677.5 L290 675 L295 677.5 L290 685 L282.5 690 L275 695 L267.5 697.5 L260 693.8 L255 687.5Z M272.5 707.5 L280 711.2 L285 720 L290 727.5 L300 737.5 L310 745 L315 749 L302.5 749 L295 742.5 L285 732.5 L277.5 725 L273.8 717.5Z M485 725 L492.5 723 L497.5 725 L492.5 728Z M515 707.5 L520 700 L523.8 698.8 L526.2 705 L522.5 711.2 L516.2 712.5Z M753.2 633 L755.6 626.6 L757.4 625.7 L758 629.4 L755.6 634.8Z M455 397.3 L460.5 395.9 L465.9 402.8 L472.7 404.1 L482.3 409.6 L486.4 415 L483.7 424.6 L480.9 431.4 L474.1 435.5 L471.4 441 L465.9 446.4 L463.2 454.6 L460.5 465.5 L455 471Z M455 370 L486.4 370 L485 375.5 L475.5 378.2 L465.9 379.6 L459.1 378.2 L455 380.9Z M502.8 370 L530.1 370 L528.7 375.5 L520.5 376.8 L512.3 375.5 L504.1 374.1Z M683.7 362.7 L689.2 360 L704.2 362.7 L711 368.2 L717.8 375 L724.7 381.8 L728.8 391.4 L726 396.9 L717.8 391.4 L711 387.3 L702.8 383.2 L696 380.5 L689.2 375 L685.1 369.6Z M458.2 185.3 L460.6 181.2 L463.5 179.4 L462.9 182.9 L460.6 186.5 L459.4 188.8Z" fill="#ffae28"/><path d="M586 298 L591.5 296.6 L596.9 295.9 L602.4 297.3 L605 301.4 L601 305.5 L598.3 310.9 L595.6 319.1 L591.5 318.5 L590.1 310.9 L589.4 304.1Z M551.2 295.2 L556 293.2 L562.8 293.9 L565.6 297.3 L564.2 302.8 L560.1 304.1 L556 302.1 L553.3 297.3Z M584.7 377.8 L591.5 375.8 L599.7 375.1 L605 373.7 L605 386 L583.3 386Z M694.4 295.9 L695.5 289.1 L697.2 280.9 L699.9 274.1 L705.4 267.3 L710.8 261.8 L716 255 L720.1 255 L711.9 261.8 L707.8 268.6 L703.7 276.8 L701 285 L698.3 293.2 L696.2 300 L695.3 305.5Z M695.8 309.6 L698.5 315.1 L701.3 323.2 L704 331.4 L708.1 339.6 L712.2 347.8 L717.6 358.7 L722.8 371 L717.4 371 L713.3 361.5 L707.8 350.5 L704 342.3 L700.6 334.2 L698.5 326 L697.2 316.4Z M664.1 326 L666.9 320.5 L672.3 318.5 L679.2 319.1 L686 320.5 L690.1 323.2 L692.8 331.4 L694.2 339.6 L691.4 347.8 L684.6 350.5 L676.4 349.2 L669.6 345.1 L665.5 338.3 L663.5 331.4Z M636.9 358.7 L640.9 355.3 L651.9 357.4 L662.8 360.1 L673.7 364.2 L676.4 371 L635.5 371Z M700 407.3 L707.3 406.4 L712.8 411 L710.9 416.5 L703.6 418.3 L700 416.5Z M547.8 404.1 L550.5 399.3 L558.7 397.3 L568.3 398.7 L577.8 397.3 L586 390.5 L587.4 382.3 L594.2 378.2 L605 375.5 L605 416.4 L594.2 417.8 L586 420.5 L577.8 421.9 L572.4 417.8 L564.2 415 L556 413.7 L549.2 410.9Z M455 486 L455 479.2 L460.5 476.5 L464.6 468.3 L465.9 457.3 L468.6 450.5 L475.5 444.4 L488.4 443.7 L494.6 441 L495.9 457.3 L494.6 473.7 L490.5 486Z M595 377.7 L600.5 376.4 L605.9 375 L611.4 373 L618.2 373.6 L622.3 379.1 L626.4 383.2 L627.8 387.3 L626.4 398.2 L627.8 403.7 L630.5 411.9 L635.9 417.3 L641.4 422.8 L644.1 428.2 L635.9 426.9 L629.1 421.4 L622.3 417.3 L615.5 417.3 L608.6 418.7 L601.8 417.3 L595 416Z M679.6 400.9 L685.1 399.6 L693.3 400.9 L701.5 405 L709.6 409.1 L712.4 414.6 L709.6 417.3 L702.8 416 L697.4 411.9 L690.5 409.1 L683.7 406.4Z" fill="#6fab38"/><path d="M455 479.2 L459.1 477.1 L463.2 477.8 L462.5 486 L455 486Z" fill="#f4f66c"/><path d="M508.2 400 L512.3 396.6 L519.1 397.3 L526 401.4 L531.4 405.5 L536.9 410.9 L541 415 L536.9 416.4 L531.4 412.3 L523.2 408.2 L515.1 405.5 L509.6 404.1Z" fill="#ffe600"/><path d="M525.3 404.8 L528.7 404.1 L532.1 408.2 L531.4 410.9 L528 409.6Z" fill="#ffae28"/><path d="M668.2 327.3 L671 322.6 L676.4 321.6 L683.3 322.6 L688 326 L689.4 332.8 L688.7 341 L684.6 345.1 L677.8 344.4 L672.3 341 L668.9 335.5Z M646.4 364.2 L651.9 360.8 L661.4 362.8 L671 366.9 L672.3 371 L645 371Z M493.2 428.7 L495.9 419.1 L501.4 415 L512.3 413 L523.2 413.7 L531.4 417.1 L536.9 420.5 L543.7 421.2 L553.3 421.2 L564.2 421.9 L573.7 424.6 L581.9 422.5 L586 419.1 L592.8 417.8 L605 417.1 L605 486 L490.5 486 L494.6 473.7 L495.9 457.3 L494.6 441Z M599.1 387.3 L607.3 385.2 L615.5 385.9 L618.2 392.8 L618.2 402.3 L612.7 407.8 L603.2 411.9 L597.7 409.1 L595 405 L595 391.4Z M690.5 405 L698.7 407.1 L704.2 410.5 L701.5 413.2 L696 411.9 L691.9 409.1Z" fill="#92d050"/><path d="M500 421.9 L504.1 417.1 L512.3 415 L520.5 416.4 L524.6 421.9 L523.2 430.1 L519.1 436.9 L513.7 439.6 L508.2 436.9 L502.8 430.1Z M531.4 419.1 L536.9 419.1 L543.7 421.9 L542.3 424.6 L536.9 423.9Z" fill="#6fab38"/><path d="M506.2 423.2 L508.2 421.9 L513.7 428 L511.6 430.7Z M627.8 411.9 L630.5 409.8 L634.6 411.9 L638.7 420.1 L635.9 422.1 L631.9 417.3Z" fill="#f4f66c"/><clipPath id="ov0"><rect x="590" y="236" width="150" height="99"/></clipPath><g clip-path="url(#ov0)"><rect x="590" y="236" width="150" height="99" fill="#92d050"/><path d="M584.5 296.3 L602.5 294.6 L609.1 292.2 L617.3 290.5 L625.5 288.9 L633.6 287.3 L641.8 285.6 L648.4 282.4 L654.9 279.1 L661.5 276.6 L668 273.4 L674.5 270.9 L681.1 267.6 L687.6 263.5 L694.2 259.5 L700.7 255.4 L707.3 252.1 L713.8 248 L718.7 241.5 L721.2 236.5 L723.6 234.9 L730.2 237.4 L735.1 235.7 L740 234.9 L740 244.7 L731.8 249.6 L723.6 254.5 L717.1 259.5 L712.2 264.4 L707.3 269.3 L702.4 275.8 L699.1 282.4 L695.8 287.3 L692.5 292.2 L689.3 298.7 L689.3 306.9 L690.9 311.8 L695.8 315.1 L699.1 324.9 L704 340 L584.5 340Z" fill="#6fab38"/><path d="M584.5 299.5 L602.5 297.1 L609.1 294.6 L617.3 293 L625.5 290.9 L633.6 288.9 L641.8 287.3 L648.4 284 L654.9 280.7 L661.5 278.3 L668 275 L674.5 272.5 L681.1 269.3 L687.6 265.2 L694.2 261.1 L700.7 257 L707.3 253.7 L713.8 249.6 L719.5 243.1 L722 238.2 L725.3 237.4 L730.2 239 L740 237.4 L740 241.5 L730.2 246.4 L722 251.3 L715.5 256.2 L709.7 261.1 L704 266.8 L699.9 272.5 L695.8 279.1 L692.5 284 L689.3 288.9 L686 293.8 L684.4 298.7 L686 305.3 L689.3 311.8 L694.2 316.7 L695.8 324.9 L699.1 340 L584.5 340Z" fill="#f4f66c"/><path d="M671.3 242.3 L674.5 239.8 L677.8 240.6 L676.2 243.9 L672.9 243.9Z" fill="#f4f66c"/><path d="M584.5 302.8 L602.5 300.4 L609.1 298.7 L617.3 295.5 L625.5 293 L633.6 291.4 L641.8 289.7 L650 286.5 L658.2 282.4 L666.4 278.3 L674.5 275 L681.1 271.7 L687.6 267.6 L694.2 263.5 L700.7 259.5 L707.3 256.2 L713.8 252.9 L720.4 248 L726.9 243.9 L733.5 241.5 L740 239.8 L740 240.6 L731.8 244.7 L723.6 249.6 L717.1 254.5 L710.5 259.5 L704 265.2 L699.1 270.9 L694.2 277.5 L689.3 284 L684.4 290.5 L679.5 295.5 L674.5 298.7 L671.3 303.6 L668 308.5 L664.7 313.5 L661.5 318.4 L658.2 321.6 L654.9 328.2 L651.6 340 L584.5 340Z" fill="#ffe600"/><path d="M602.5 302 L609.1 298.7 L614 300.4 L612.4 308.5 L607.5 315.1 L602.5 311.8Z" fill="#f4f66c"/><path d="M584.5 321.6 L602.5 318.4 L609.1 321.6 L605.8 328.2 L596 331.5 L584.5 331.5Z" fill="#f4f66c"/><path d="M614 303.6 L618.9 299.5 L625.5 299.5 L628.7 303.6 L627.9 310.2 L623 312.6 L616.5 311Z" fill="#ffae28"/><path d="M638.5 297.1 L645.1 292.2 L651.6 287.3 L658.2 282.4 L664.7 277.5 L669.6 276.6 L671.3 282.4 L668 288.9 L663.1 295.5 L658.2 300.4 L651.6 303.6 L645.1 303.6 L640.2 302Z" fill="#ffae28"/><path d="M681.1 267.6 L687.6 263.5 L694.2 261.1 L697.5 262.7 L694.2 269.3 L689.3 274.2 L684.4 279.1 L681.1 277.5Z" fill="#ffae28"/><path d="M700.7 257.8 L707.3 254.5 L712.2 252.9 L710.5 257 L705.6 260.3 L701.5 261.1Z" fill="#ffae28"/><path d="M638.5 324.9 L648.4 321.6 L653.3 328.2 L651.6 340 L638.5 340Z" fill="#ffae28"/><path d="M584.5 298.7 L596 295.5 L602.5 297.1 L600.9 305.3 L597.6 315.1 L594.4 319.2 L591.1 311.8 L586.2 306.9Z" fill="#6fab38"/><path d="M666.4 321.6 L671.3 318.4 L677.8 317.5 L684.4 319.2 L689.3 323.3 L690.9 331.5 L689.3 340 L666.4 340 L664.7 328.2Z" fill="#6fab38"/><path d="M671.3 324.9 L676.2 322.5 L682.7 323.3 L686.8 328.2 L686 340 L671.3 340 L669.6 329.8Z" fill="#92d050"/><path d="M689.3 313.5 L692.5 311.8 L695 316.7 L696.6 328.2 L697.5 340 L692.5 340 L690.9 324.9Z" fill="#f4f66c"/></g><clipPath id="ov1"><rect x="207" y="655" width="158" height="94"/></clipPath><g clip-path="url(#ov1)"><rect x="207" y="655" width="158" height="94" fill="#92d050"/><path d="M232.6 679.3 L238.5 673.5 L245.7 674.9 L255.9 664.7 L260.3 660.4 L270.5 658.2 L280.6 661.8 L292.3 666.2 L303.9 670.5 L311.2 673.5 L315.5 677.8 L312.6 683.6 L309.7 688 L306.8 695.3 L303.9 704 L301 708.4 L306.8 717.1 L309.7 724.4 L315.5 733.1 L321.4 738.9 L328.6 743.3 L335.9 750.5 L286.5 750.5 L277.7 741.8 L270.5 734.5 L266.1 727.3 L263.2 717.1 L261.7 708.4 L258.8 701.1 L253 693.8 L247.2 685.1 L239.9 682.2Z" fill="#6fab38"/><path d="M219.5 721.5 L223.9 715.6 L228.3 714.2 L234.1 717.1 L241.4 721.5 L248.6 718.5 L254.5 715.6 L258.8 718.5 L260.3 727.3 L266.1 733.1 L273.4 741.8 L280.6 750.5 L205 750.5 L205 734.5 L212.3 727.3Z" fill="#6fab38"/><path d="M205 640 L222.5 640 L222.5 648.7 L218.1 656 L215.2 669.1 L213.7 677.8 L205 683.6Z" fill="#6fab38"/><path d="M321.4 640 L365 640 L365 654.5 L350.5 651.6 L335.9 653.1 L327.2 648.7Z" fill="#6fab38"/><path d="M328.6 741.8 L335.9 737.5 L344.6 736 L353.4 737.5 L357.7 741.8 L350.5 750.5 L333 750.5Z" fill="#6fab38"/><path d="M244.3 709.8 L248.6 708.4 L250.8 712 L246.5 713.5Z" fill="#6fab38"/><path d="M234.1 679.3 L239.9 674.9 L245.7 676.4 L257.4 666.2 L261.7 661.8 L270.5 659.6 L280.6 663.3 L292.3 667.6 L303.9 672 L309.7 674.9 L314.1 679.3 L311.2 683.6 L307.5 688 L305.4 695.3 L302.5 702.5 L299.5 708.4 L305.4 718.5 L308.3 725.8 L314.1 734.5 L319.9 740.4 L327.2 744.7 L333 750.5 L289.4 750.5 L280.6 741.8 L273.4 734.5 L269 727.3 L266.1 717.1 L263.2 708.4 L260.3 701.1 L254.5 694.5 L248.6 686.5 L241.4 682.9Z" fill="#f4f66c"/><path d="M221 733.1 L225.4 728.7 L229.7 727.3 L234.1 730.2 L238.5 734.5 L242.8 738.9 L245.7 744.7 L244.3 750.5 L231.2 750.5 L226.8 744.7 L222.5 740.4Z" fill="#f4f66c"/><path d="M223.9 718.5 L226.8 717.1 L229.7 720 L228.3 725.8 L225.4 724.4Z" fill="#f4f66c"/><path d="M253 721.5 L255.9 720 L258.8 724.4 L263.2 730.2 L270.5 737.5 L277.7 744.7 L283.5 750.5 L248.6 750.5 L250.1 741.8 L253 734.5 L251.5 727.3Z" fill="#f4f66c"/><path d="M207.9 658.9 L210.8 657.5 L212.3 666.2 L211.5 674.9 L207.9 676.4Z" fill="#f4f66c"/><path d="M225.4 640 L245.7 640 L242.8 645.8 L234.1 650.2 L226.8 651.6Z" fill="#f4f66c"/><path d="M328.6 640 L362.1 640 L357.7 647.3 L347.5 650.2 L335.9 650.2 L330.1 647.3Z" fill="#f4f66c"/><path d="M328.6 745.5 L335.9 742.5 L341.7 742.5 L338.8 750.5 L331.5 750.5Z" fill="#f4f66c"/><path d="M244.3 676.4 L248.6 675.6 L257.4 669.1 L263.2 664.7 L270.5 661.8 L280.6 665.5 L290.8 669.1 L301 673.5 L306.8 676.4 L303.9 680.7 L298.1 683.6 L293.7 686.5 L290.8 692.4 L292.3 701.1 L295.2 706.9 L292.3 712.7 L296.6 721.5 L302.5 728.7 L309.7 738.9 L315.5 750.5 L292.3 750.5 L283.5 740.4 L277.7 733.1 L273.4 725.8 L270.5 717.1 L267.5 708.4 L264.6 702.5 L258.8 695.3 L253 689.5 L247.2 682.2Z" fill="#ffe600"/><path d="M254.5 730.2 L257.4 728.7 L261.7 734.5 L267.5 740.4 L273.4 746.2 L276.3 750.5 L253 750.5 L253.7 741.8Z" fill="#ffe600"/><path d="M238.5 741.8 L242.8 743.3 L244.3 750.5 L237 750.5Z" fill="#ffe600"/><path d="M228.3 640 L242.8 640 L239.9 644.4 L234.1 647.3 L229.7 647.3Z" fill="#ffe600"/><path d="M333 642.9 L343.2 640 L350.5 640 L349 645.8 L338.8 647.3Z" fill="#ffe600"/><path d="M248.6 677.8 L254.5 674.9 L260.3 672 L266.1 670.5 L271.9 670.5 L274.8 674.9 L274.8 682.2 L277.7 686.5 L280.6 690.9 L276.3 695.3 L271.9 699.6 L266.1 701.1 L260.3 698.2 L255.9 693.8 L251.5 688 L248.6 682.2Z" fill="#ffae28"/><path d="M285 677.8 L292.3 674.9 L298.1 676.4 L296.6 680.7 L292.3 682.2 L287.9 683.6 L285 682.2Z" fill="#ffae28"/><path d="M280.6 720 L286.5 721.5 L292.3 730.2 L298.1 733.1 L303.9 738.9 L309.7 750.5 L295.2 750.5 L289.4 741.8 L285 734.5 L280.6 727.3Z" fill="#ffae28"/><path d="M281.4 706.9 L284.3 705.5 L285.7 711.3 L282.8 712.7Z" fill="#ffae28"/><path d="M279.2 692.4 L283.5 689.5 L286.5 692.4 L285 699.6 L280.6 702.5 L278.5 698.2Z" fill="#6fab38"/><path d="M287.9 712.7 L292.3 710.5 L293.7 714.2 L290.1 717.1Z" fill="#6fab38"/><path d="M298.1 688 L305.4 683.6 L309.7 686.5 L306.8 695.3 L303.9 704 L299.5 708.4 L296.6 704 L298.1 698.2Z" fill="#6fab38"/><path d="M234.1 740.4 L238.5 737.5 L242.8 741.8 L239.9 746.2 L235.5 745.5Z" fill="#6fab38"/></g><clipPath id="ov2"><rect x="663" y="310" width="82" height="70"/></clipPath><g clip-path="url(#ov2)"><rect x="663" y="310" width="82" height="70" fill="#92d050"/><path d="M664.7 315.3 L668.2 308.2 L674.1 302.4 L683.5 300.6 L689.4 300.6 L690 311.8 L688.2 318.8 L681.2 318.8 L671.8 318.8 L667.1 320.6 L664.7 320Z" fill="#6fab38"/><path d="M662.4 311.8 L667.1 310 L667.1 318.8 L664.7 324.7 L664.7 330.6 L667.1 338.8 L664.7 345.9 L662.4 350.6 L660 350.6 L660 315.3Z" fill="#f4f66c"/><path d="M688.2 312.9 L694.1 311.8 L697.6 324.7 L701.2 336.5 L704.7 345.9 L710.6 354.1 L716.5 362.4 L722.4 369.4 L725.9 380 L711.8 380 L704.7 369.4 L695.3 360 L689.4 352.9 L690.6 343.5 L691.8 334.1 L690 324.7Z" fill="#f4f66c"/><path d="M660 345.9 L671.8 348.2 L683.5 350.6 L690.6 350.6 L695.3 355.3 L704.7 362.4 L711.8 369.4 L717.6 380 L660 380Z" fill="#f4f66c"/><path d="M660 310 L667.1 310 L667.1 380 L660 380Z" fill="#ffe600"/><path d="M690.6 314.1 L694.1 313.5 L695.3 321.2 L695.9 335.3 L693.5 334.1 L691.8 324.7Z" fill="#ffe600"/><path d="M660 352.9 L671.8 354.1 L683.5 356.5 L692.9 357.6 L702.4 363.5 L709.4 370.6 L714.1 380 L660 380Z" fill="#ffe600"/><path d="M683.5 362.4 L688.2 361.2 L695.3 364.7 L700 369.4 L704.7 372.9 L709.4 377.6 L710.6 380 L683.5 380Z" fill="#ffae28"/><path d="M663.5 329.4 L665.9 322.4 L671.8 318.8 L680 318.8 L688.2 321.2 L691.8 329.4 L692.4 338.8 L689.4 345.9 L683.5 349.4 L675.3 349.4 L669.4 345.9 L664.7 338.8Z" fill="#6fab38"/><path d="M698.8 325.9 L700.6 327.1 L707.1 337.6 L714.1 350.6 L721.2 362.4 L725.9 371.8 L730.6 380 L725.9 380 L721.2 369.4 L715.3 361.2 L709.4 352.9 L704.7 344.7 L701.2 335.3Z" fill="#6fab38"/><path d="M660 361.2 L664.7 362.4 L667.1 369.4 L663.5 374.1 L660 374.1Z" fill="#6fab38"/><path d="M668.2 329.4 L670.6 324.7 L676.5 322.4 L683.5 322.9 L688.2 327.1 L688.8 336.5 L685.9 342.4 L680 344.1 L672.9 342.4 L669.4 336.5Z" fill="#92d050"/><path d="M664.7 374.1 L671.8 372.4 L678.8 374.1 L683.5 380 L664.7 380Z" fill="#92d050"/></g><clipPath id="ov3"><rect x="503" y="85" width="75" height="65"/></clipPath><g clip-path="url(#ov3)"><rect x="503" y="85" width="75" height="65" fill="#92d050"/><path d="M494.5 165 L498.2 154.1 L505.5 146.8 L511.8 139.5 L514.5 132.3 L518.2 125 L523.6 119.5 L530.9 115 L538.2 113.2 L547.3 111.4 L554.5 107.7 L560 101.4 L560.9 95 L564.5 95.9 L565.5 103.2 L568.2 110.5 L570 115 L567.3 119.5 L563.6 121.4 L558.2 125 L552.7 130.5 L549.1 135.9 L547.3 143.2 L541.8 146.8 L532.7 146.8 L523.6 148.6 L516.4 152.3 L509.1 157.7 L501.8 163.2Z" fill="#6fab38"/><path d="M568.2 127.7 L574.5 124.3 L580.9 127.7 L574.5 131.2 L568.7 130.5Z" fill="#6fab38"/><path d="M583.6 93.2 L586.4 91.4 L588.2 96.8 L585.5 98.6Z" fill="#6fab38"/><path d="M496.4 161.4 L500 152.3 L507.3 145.9 L512.7 139.5 L516.4 132.3 L520 125.9 L525.5 120.5 L531.8 116.8 L539.1 115 L548.2 113.2 L556.4 109.5 L561.8 103.2 L562.7 99.5 L565.5 105 L567.3 111.4 L568.2 115 L565.5 118.6 L560.9 120.5 L556.4 124.1 L550.9 129.5 L547.3 135.9 L545.5 143.2 L540.9 145 L532.7 145 L525.5 146.8 L518.2 150.5 L510.9 155 L503.6 161.4Z" fill="#f4f66c"/><path d="M569.1 127.7 L574.5 125 L580 127.7 L574.5 130.5 L570 130.1Z" fill="#f4f66c"/><path d="M549.1 114.1 L556.4 111.4 L560 114.1 L556.4 116.8 L550.9 116.8Z" fill="#ffe600"/><path d="M545.5 127.7 L550.9 125.9 L556.4 128.6 L552.7 132.3 L547.3 131.9Z" fill="#ffe600"/><path d="M498.2 154.1 L503.6 148.6 L510.9 143.2 L512.7 146.8 L507.3 152.3 L500.9 157.7Z" fill="#ffe600"/><path d="M518.2 128.6 L523.6 121.4 L531.8 117.7 L541.8 115.5 L546.4 118.6 L541.8 123.5 L534.5 125 L529.1 129 L521.8 131.4Z" fill="#ffe600"/><path d="M520.9 127.7 L525.5 122.3 L532.7 119.9 L535.5 123.2 L530 127.7 L523.6 129.5Z" fill="#ffae28"/><path d="M534.9 118.1 L540 116.3 L545.1 119.5 L541.8 122.1 L536.7 121.4Z" fill="#ffae28"/><path d="M522.7 132.3 L529.1 128.6 L534.5 130.5 L536.4 135.9 L532.7 141.4 L525.5 143.2 L521.8 137.7Z" fill="#6fab38"/><path d="M534.5 125 L539.1 123.2 L541.8 127.7 L538.2 130.5Z" fill="#6fab38"/><path d="M563.6 115 L567.3 114.1 L568.2 118.6 L564.5 119.5Z" fill="#6fab38"/></g><clipPath id="ov4"><rect x="207" y="442" width="99" height="76"/></clipPath><g clip-path="url(#ov4)"><rect x="207" y="442" width="99" height="76" fill="#92d050"/><path d="M224.1 471.8 L225.4 462.9 L229.2 455.3 L233 447.6 L236.2 440 L241.9 440 L238.1 447.6 L234.3 455.3 L230.5 462.9 L227.9 469.3Z" fill="#6fab38"/><path d="M241.3 448.9 L243.2 449.5 L243.2 465.5 L241.3 465.5Z" fill="#6fab38"/><path d="M207 482 L212.6 482 L220.3 478.2 L221.5 471.8 L227.9 469.3 L234.3 469.3 L241.9 465.5 L248.3 466.7 L249.5 471.8 L255.9 474.4 L259.7 478.2 L264.8 482 L271.2 484.5 L268.6 487.1 L266.1 490.9 L271.2 494.7 L278.8 497.3 L286.5 498.5 L294.1 493.5 L301.7 488.4 L306.8 485.8 L309.4 488.4 L306.8 493.5 L304.3 501.1 L299.2 506.2 L294.1 508.7 L286.5 511.3 L276.3 513.8 L268.6 513.8 L261 515.1 L253.4 516.4 L245.7 515.1 L240.6 511.3 L235.5 506.2 L230.5 502.4 L224.1 501.1 L215.2 501.1 L207 499.8Z" fill="#6fab38"/><path d="M208.8 515.7 L212.6 515.1 L215.2 518.9 L212.6 522.7 L208.8 522.7Z" fill="#6fab38"/><path d="M225.4 470.5 L226.6 462.9 L230.5 455.3 L234.3 447.6 L236.8 442.5 L239.4 440 L240.6 441.3 L236.8 447.6 L233 455.3 L229.8 462.9 L227.9 469.3Z" fill="#f4f66c"/><path d="M207 484.5 L212.6 483.9 L221.5 482 L222.8 471.8 L229.2 473.1 L234.3 474.4 L239.4 473.1 L244.5 474.4 L245.7 479.5 L243.2 483.3 L247 488.4 L250.8 485.8 L252.1 479.5 L255.9 478.2 L259.7 482 L262.3 488.4 L266.1 493.5 L272.5 498.5 L281.4 501.1 L289 501.1 L296.6 496 L301.7 492.2 L306.8 489.6 L306.2 494.7 L301.7 499.8 L299.2 503.6 L294.1 505.5 L283.9 506.2 L276.3 506.2 L268.6 504.9 L261 503.6 L257.2 502.4 L255.9 503.6 L259.7 510 L262.3 513.8 L255.9 515.1 L247 513.8 L241.9 508.7 L236.8 504.9 L230.5 501.1 L224.1 499.8 L215.2 499.8 L207 498.5Z" fill="#f4f66c"/><path d="M208.8 487.1 L215.2 485.8 L224.1 485.8 L230.5 483.3 L233 479.5 L236.8 482 L240.6 488.4 L243.2 493.5 L247 499.8 L252.1 503.6 L255.9 506.2 L258.5 511.3 L253.4 513.2 L248.3 512.5 L244.5 508.7 L240.6 503.6 L235.5 499.8 L230.5 499.8 L224.1 496 L216.5 497.3 L212.6 499.8 L208.8 498.5Z" fill="#ffe600"/><path d="M255.9 488.4 L258.5 487.1 L261 490.9 L264.8 496 L261 497.9 L257.2 494.7Z" fill="#ffe600"/><path d="M231.1 479.5 L235.5 478.8 L239.4 480.7 L241.3 485.8 L240 488.4 L235.5 488.4 L232.4 485.8Z" fill="#ffae28"/><path d="M236.2 490.9 L239.4 490.3 L243.2 494.7 L243.8 499.8 L240.6 501.1 L237.5 497.3Z" fill="#ffae28"/><path d="M248.3 507.5 L252.1 506.2 L255.3 509.4 L253.4 511.9 L249.5 511.3Z" fill="#ffae28"/><path d="M245.7 475.6 L250.8 474.4 L253.4 478.2 L252.1 485.8 L249.5 490.9 L245.7 492.2 L243.8 488.4 L244.5 482Z" fill="#6fab38"/><path d="M253.4 499.8 L258.5 499.2 L264.8 501.1 L268.6 503.6 L263.5 504.9 L258.5 504.3Z" fill="#6fab38"/></g><clipPath id="ov5"><rect x="402" y="402" width="88" height="103"/></clipPath><g clip-path="url(#ov5)"><rect x="402" y="402" width="88" height="103" fill="#92d050"/><path d="M400 400 L469.8 400 L481.5 405.8 L487.3 414.5 L490.2 423.3 L493.1 433.5 L490.2 443.6 L481.5 448 L472.7 450.9 L466.9 458.2 L469.8 466.9 L469.8 472.7 L464 478.5 L461.1 484.4 L459.6 493.1 L455.3 501.8 L443.6 504.7 L429.1 504.7 L417.5 501.8 L411.6 504.7 L411.6 496 L414.5 490.2 L417.5 481.5 L421.8 472.7 L429.1 465.5 L434.9 461.1 L433.5 453.8 L429.1 446.5 L424.7 440.7 L423.3 434.9 L418.9 432 L416 429.1 L408.7 427.6 L400 427.6Z" fill="#f4f66c"/><path d="M408.7 400 L468.4 400 L477.1 408.7 L484.4 418.9 L487.3 429.1 L485.8 437.8 L478.5 442.2 L469.8 446.5 L465.5 453.8 L466.9 462.5 L468.4 469.8 L461.1 475.6 L452.4 480 L443.6 481.5 L434.9 484.4 L427.6 487.3 L421.8 493.1 L417.5 496 L416 490.2 L418.9 481.5 L424.7 472.7 L433.5 466.9 L439.3 461.1 L437.8 455.3 L434.9 449.5 L430.5 442.2 L426.2 434.9 L421.8 430.5 L420.4 423.3 L417.5 414.5 L413.1 407.3Z" fill="#ffe600"/><path d="M416 400 L464 400 L469.8 407.3 L475.6 416 L480.7 427.6 L475.6 434.9 L466.9 440.7 L462.5 449.5 L461.8 458.2 L464 465.5 L458.2 471.3 L448 474.2 L437.8 475.6 L429.1 474.2 L423.3 478.5 L420.4 484.4 L421.8 475.6 L427.6 469.8 L437.8 466.2 L446.5 461.1 L448 455.3 L445.1 448 L440.7 439.3 L434.9 433.5 L427.6 430.5 L423.3 424.7 L418.9 418.9 L416.7 410.2Z" fill="#ffae28"/><path d="M464 448 L469.8 443.6 L478.5 442.2 L487.3 443.6 L493.1 445.1 L496 455.3 L496 465.5 L493.1 475.6 L487.3 481.5 L478.5 478.5 L471.3 472.7 L466.9 469.8 L465.5 461.1Z" fill="#6fab38"/><path d="M411.6 504.7 L417.5 501.8 L429.1 504.7 L443.6 504.7 L455.3 501.8 L461.1 493.1 L462.5 484.4 L466.9 478.5 L472.7 474.2 L478.5 479.3 L469.8 481.5 L464 490.2 L461.1 501.8 L455.3 507.6 L443.6 510.5 L429.1 510.5 L417.5 509.1Z" fill="#6fab38"/><path d="M442.2 427.6 L448 429.1 L452.4 427.6 L455.3 433.5 L450.9 439.3 L448 446.5 L443.6 442.2 L440.7 434.9Z" fill="#ffe600"/><path d="M452.4 448 L458.2 446.5 L456.7 455.3 L453.8 461.1 L450.9 458.2Z" fill="#ffe600"/><path d="M400 427.6 L408.7 427.6 L416 429.1 L418.9 432 L423.3 434.9 L424.7 440.7 L429.1 446.5 L433.5 453.8 L434.9 461.1 L429.1 465.5 L421.8 472.7 L417.5 481.5 L414.5 490.2 L411.6 496 L411.6 506.2 L400 506.2Z" fill="#92d050"/><path d="M400 458.2 L408.7 455.3 L417.5 453.8 L426.2 452.4 L433.5 450.9 L434.9 455.3 L426.2 458.2 L417.5 459.6 L408.7 462.5 L400 464Z" fill="#6fab38"/><path d="M420.4 430.5 L429.1 429.1 L436.4 432 L443.6 437.8 L446.5 446.5 L443.6 450.9 L436.4 448 L430.5 442.2 L424.7 437.8 L420.4 434.9Z" fill="#6fab38"/><path d="M400 468.4 L408.7 466.9 L414.5 469.8 L411.6 475.6 L405.8 478.5 L400 477.1Z" fill="#6fab38"/><path d="M404.4 417.5 L408.7 416 L411.6 420.4 L410.2 427.6 L405.8 429.1 L402.9 424.7Z" fill="#f4f66c"/><path d="M429.1 437.8 L434.9 436.4 L440.7 443.6 L437.8 449.5 L433.5 448Z" fill="#f4f66c"/><path d="M408.7 458.2 L417.5 456.7 L423.3 455.3 L429.1 453.8 L432 456.7 L426.2 459.6 L417.5 461.1 L410.2 461.1Z" fill="#f4f66c"/><path d="M402.9 482.9 L407.3 481.5 L410.2 487.3 L407.3 490.2 L402.9 488.7Z" fill="#f4f66c"/></g><path d="M216.2 109.5 L217.8 111.2 L219.3 113.1 L221.2 114.6 L223.5 115.6 L225.1 117.2 L227.3 118.9 L230.2 118.7 L232.3 120.7 L234.9 121.6 L237.3 121.9 L239.6 122.5 L241.8 123.2 L244.1 123.9 L246.2 124.9 L248.4 126.3 L250.6 127.6 L252.5 129.4 L254.9 130.4 L257.2 130.8 L259.3 131.9 L261.8 131.4 L264.1 131.9 L266.2 133.2 L268.5 132.2 L270.9 132.1 L273.3 132.6 L275.6 132.5 L278.0 133.0 L280.3 132.4 L282.7 132.1 L285.0 132.0 L285.8 135.1 L285.9 137.5 L288.5 138.1 L291.0 139.1 L293.7 138.8 L296.0 139.4 L297.2 136.9 L299.7 136.9 L301.3 135.1 L303.4 134.2 L305.7 134.0 L307.5 132.5 L309.8 132.0 L311.7 130.8 L313.9 130.1 L315.6 128.3 L317.9 128.0 L320.0 127.0 L322.3 126.5 L324.1 124.9 L326.3 124.2 L328.1 122.6 L330.4 122.0 L332.4 121.0 L334.6 120.2 L336.9 120.6 L339.0 119.5 L341.3 119.9 L343.4 118.9 L345.6 118.5 L347.8 118.1 L350.1 117.7 L352.3 116.0 L355.0 115.4 L357.7 114.2 L360.0 116.1 L362.5 115.6 L365.0 116.7 L367.5 115.6 L370.0 116.2 L372.5 115.6 L375.0 116.3 L377.5 116.0 L380.0 115.2 L382.5 116.1 L385.0 116.2 L387.5 116.1 L390.0 115.6 L392.4 115.7 L394.9 115.4 L397.6 116.1 L400.0 115.3 L402.4 114.4 L405.3 114.9 L407.0 113.4 L408.8 112.1 L410.5 110.6 L412.5 109.4 L414.7 108.3 L416.8 107.2 L419.5 107.5 L421.6 106.1 L423.9 105.4 L426.0 104.3 L427.9 102.9 L428.6 100.5 L430.5 99.0 L431.6 96.9 L433.1 95.2 L435.5 94.3 L436.9 92.2 L438.4 90.2 L440.3 88.5 L442.4 87.1 L443.7 84.8 L445.7 83.6 L447.7 82.3 L449.3 80.4 L451.3 79.2 L453.4 78.0 L455.3 76.7 L456.8 74.5 L459.4 74.3 L460.5 72.5 L461.4 68.5 L459.4 66.8 L456.7 65.9 L454.9 63.9 L453.7 61.4 L451.1 60.0 L450.2 57.4 L449.5 54.9 L448.2 52.5 L448.2 50.0 L447.5 47.5 M207.5 223.0 L209.9 221.6 L212.3 220.6 L214.8 219.9 L216.5 217.2 L218.6 215.1 L217.6 212.7 L215.5 211.3 L218.2 210.2 L220.9 209.3 L223.9 209.4 L226.2 208.1 L228.9 208.3 L231.2 207.0 L233.3 207.9 L235.2 209.2 L237.4 209.8 L239.6 210.4 L241.7 211.1 L244.1 212.5 L245.7 210.7 L248.1 210.2 L249.5 208.0 L251.8 207.3 L253.8 206.2 L256.2 206.2 L258.2 204.6 L260.6 204.7 L262.8 203.9 L265.0 203.3 L267.5 203.2 L270.0 203.7 L272.7 203.0 L272.9 205.2 L273.4 207.4 L274.3 209.5 L274.8 211.7 L274.5 214.2 L275.5 215.8 L274.5 218.1 L272.4 219.1 L270.8 220.8 L269.1 222.2 L267.4 223.6 L265.4 225.3 L262.7 225.7 L260.7 227.6 L258.4 228.6 L256.0 229.9 L254.7 232.8 L253.1 234.9 L252.9 237.5 L252.8 240.0 L253.0 242.6 L253.5 245.2 L255.5 246.6 L255.8 249.1 L257.2 250.9 L258.3 252.6 L259.4 254.8 L260.0 257.0 M207.5 257.0 L209.6 255.9 L210.4 253.5 L212.2 251.9 L216.8 250.3 L217.4 252.5 L218.3 254.7 L218.8 257.0 M313.8 257.0 L313.8 254.5 L314.7 252.2 L314.4 249.6 L315.5 247.4 L315.3 244.8 L316.4 242.5 L315.8 239.9 L316.5 237.5 L317.6 235.1 L317.3 232.5 L317.9 230.2 L318.5 228.0 L319.3 225.9 L319.6 223.6 L320.9 221.7 L321.1 219.3 L322.8 217.8 L324.6 216.0 L326.0 214.1 L326.7 211.5 L328.7 209.8 L331.2 208.8 L333.6 207.6 L336.4 207.3 L338.7 206.6 L341.5 207.0 L341.5 211.4 L342.4 213.5 L344.1 215.2 L344.2 217.3 L342.5 219.7 L341.9 222.7 L339.9 224.9 L338.3 226.9 L336.9 228.9 L336.0 231.3 L333.8 232.9 L332.4 235.1 L334.1 236.9 L336.0 238.4 L338.3 239.5 L339.9 241.5 L342.3 242.6 L344.8 243.6 L347.7 243.6 L350.3 244.4 L351.9 246.2 L354.2 246.6 L356.0 248.1 L357.7 249.6 L360.1 249.9 L362.3 250.9 L364.2 252.3 L366.1 253.7 L368.6 254.2 L370.5 255.7 L372.5 257.0 M395.0 257.0 L394.2 254.7 L394.7 252.2 L394.7 249.8 L393.9 247.4 L393.8 244.8 L396.3 245.1 L398.4 245.1 L397.5 242.6 L396.7 240.1 L395.9 237.5 L394.5 234.7 L396.5 233.3 L397.6 231.3 L398.5 229.2 L399.5 227.1 L401.8 225.7 L402.6 223.2 L404.1 221.2 L405.6 219.2 L407.1 217.0 L409.8 216.5 L411.3 214.2 L413.3 212.8 L415.8 211.9 L417.5 210.0 M470.0 181.2 L472.1 180.1 L473.8 178.3 L476.0 177.4 L478.3 176.7 L480.0 174.8 L482.5 175.7 L485.1 175.2 L487.7 176.5 L489.6 175.3 L491.5 174.1 L493.3 172.7 L495.0 171.0 L497.4 170.0 L500.0 170.0 L502.6 169.8 L504.8 168.4 L506.8 167.3 L509.0 166.3 L511.2 165.3 L513.3 164.2 L514.6 162.2 L515.9 160.2 L517.9 158.5 L519.0 156.1 L518.2 154.0 L517.7 151.8 L516.7 149.6 L514.7 147.2 L512.9 145.1 L513.2 142.5 L514.4 140.1 L514.6 137.3 L516.6 135.8 L517.8 134.0 L519.0 132.0 L519.9 130.0 L521.4 127.9 L522.9 125.9 L524.0 123.6 L526.4 122.3 L527.5 120.0 L529.3 118.6 L531.3 117.6 L533.3 116.5 L535.1 114.9 L536.6 116.6 L538.4 118.0 L540.7 118.6 L542.3 119.5 L544.7 119.3 L546.8 118.6 L548.3 116.6 L550.6 116.3 L552.4 115.4 L554.8 116.4 L557.7 116.2 L559.9 116.9 L562.3 117.9 L564.3 116.3 L566.5 116.1 L568.8 116.3 L571.7 115.7 L574.6 115.7 L577.1 114.8 L579.3 112.8 L579.6 110.0 L580.4 107.5 L579.4 105.0 L580.0 102.5 L582.1 100.1 L585.0 98.5 L587.5 98.1 L590.1 98.2 L592.5 97.4 L594.7 95.7 L597.8 95.7 L599.7 94.3 L601.6 95.5 L603.9 96.0 L605.7 97.4 L607.9 98.7 L608.6 100.8 L609.4 103.0 L609.4 105.3 L610.4 107.1 L612.2 109.0 L613.3 111.3 L614.4 114.3 L615.4 117.3 L616.1 120.1 L617.8 122.4 L618.8 125.0 L620.9 126.7 L622.5 128.8 L625.0 128.7 L627.5 128.2 L630.0 127.7 L632.5 127.9 L635.0 128.0 L637.5 127.1 L639.5 127.3 L640.8 124.8 L643.2 122.4 L642.7 119.9 L641.3 117.6 L641.8 114.9 L640.4 112.6 L640.4 110.0 L640.0 107.5 L639.6 105.1 L637.5 103.4 L636.9 101.1 L636.3 98.9 L638.0 97.0 L640.2 96.0 L642.5 95.0 L644.8 96.7 L647.3 97.9 L649.6 99.1 L651.4 101.1 L653.1 103.1 L654.5 105.2 L655.6 107.2 L656.4 109.3 L657.3 111.0 L658.8 108.8 L661.1 107.3 L662.2 104.6 L664.7 104.2 L666.3 102.6 L668.0 101.1 L670.4 100.5 L671.6 98.1 L673.8 96.9 L675.3 94.9 L678.0 94.3 L679.1 92.3 L681.0 91.0 L682.0 88.9 L684.1 87.8 L686.0 86.1 L688.1 84.3 L690.4 83.0 L692.0 80.8 L694.1 79.1 L696.4 77.7 L698.6 76.2 L700.3 74.0 L702.6 72.7 L704.9 71.3 L707.5 70.9 L710.1 70.4 L712.4 68.8 L715.1 69.1 L717.3 67.5 L720.3 68.1 L722.5 66.2 L724.9 64.9 L727.7 64.0 L729.4 61.3 L731.5 58.8 L730.6 55.9 L731.3 52.9 L731.2 50.0 M640.0 127.5 L638.7 130.0 L636.9 132.2 L636.8 135.2 L635.7 137.2 L634.8 139.4 L634.3 141.6 L634.0 143.3 L635.9 144.8 L638.3 145.3 L640.5 146.2 L642.3 148.0 L645.1 147.9 L647.5 149.1 L649.8 150.2 L651.5 151.9 L653.3 153.4 L654.6 155.2 L656.3 156.8 L657.4 158.8 L658.4 160.9 L660.1 162.7 L662.0 161.4 L663.7 159.9 L665.7 158.8 L667.4 157.4 L669.6 156.5 L671.2 154.9 L673.1 153.7 L675.3 152.7 L676.3 150.6 L677.3 148.6 L679.1 147.1 L679.8 145.1 L679.6 142.3 L678.7 139.9 L677.5 137.6 L675.1 136.8 L672.4 137.3 L669.9 136.3 L669.2 134.1 L667.6 132.6 L669.2 130.9 L671.0 129.3 L672.5 127.7 L675.0 127.2 L677.5 126.5 L680.3 125.8 L682.7 127.9 L685.0 130.0 M555.0 190.0 L554.4 187.8 L554.3 185.6 L554.8 183.3 L553.7 181.1 L555.8 179.1 L557.8 176.9 L560.1 175.0 L560.9 172.6 L561.1 170.1 L560.7 167.5 L560.9 164.8 L562.9 163.2 L563.7 160.9 L565.2 159.0 L567.1 156.4 L570.5 155.1 L570.4 152.7 L571.2 150.6 L571.5 148.3 L572.5 146.1 L575.1 146.3 L577.6 145.9 L580.0 145.0 L581.4 146.9 L583.4 148.3 L585.0 149.8 L587.2 150.7 L589.5 150.8 L591.7 151.6 L593.8 152.8 L596.9 152.9 L600.6 152.7 L598.9 154.9 L597.9 157.4 L597.6 160.0 L598.9 162.3 L598.9 165.1 L600.2 167.8 L597.4 169.2 L595.0 171.4 L592.5 171.4 L590.1 172.4 L587.5 172.5 L587.5 175.4 L587.3 178.3 L587.8 181.5 L584.6 182.6 L582.6 185.3 L580.1 186.1 L577.6 187.0 L575.1 188.1 L572.5 187.9 L570.0 187.8 L567.5 188.2 L565.1 189.2 L562.6 189.6 L560.0 189.6 L557.5 189.3 L555.0 190.0 M587.5 172.5 L590.4 172.1 L593.4 172.2 L596.4 171.3 L597.2 169.2 L598.3 167.2 L598.7 165.3 L600.9 165.6 L603.1 166.4 L605.1 167.4 L607.5 169.3 L610.5 171.3 L609.5 174.4 L608.6 177.6 L610.5 179.1 L611.7 181.0 L612.9 182.9 L614.1 184.9 L614.5 187.8 L616.9 189.7 L617.9 192.7 L616.6 194.6 L615.0 196.3 L614.3 198.5 L612.6 200.0 L612.6 202.6 L612.2 205.0 L611.1 207.4 L611.4 210.4 L609.1 210.7 L607.1 211.8 L605.0 212.6 L602.6 211.7 L599.9 212.3 L597.6 210.9 L595.3 210.8 L592.6 209.2 L589.4 207.5 L590.2 205.0 L590.1 202.5 L590.4 200.0 L589.6 197.4 L591.2 195.2 L591.8 192.6 L591.4 189.9 L592.3 187.7 L590.3 185.8 L589.5 183.0 L587.5 181.2 M515.0 162.5 L514.9 165.1 L515.3 167.6 L516.3 170.0 L516.8 172.5 L517.6 175.2 L519.8 174.1 L522.3 173.6 L524.3 172.1 L526.4 170.8 L528.8 170.0 L529.8 172.4 L529.1 175.0 L529.4 177.5 L530.1 180.0 L530.4 182.7 L531.3 185.1 L532.7 187.6 L532.4 190.1 L531.7 192.6 L531.1 195.1 L530.2 197.7 L528.4 199.2 L526.2 200.4 L525.2 202.7 L522.9 203.8 L521.5 205.7 L519.6 207.3 L518.9 210.1 L518.1 212.8 L515.8 214.9 L515.6 217.6 L514.8 220.2 L513.0 222.4 L512.2 225.1 L513.5 227.4 L514.1 229.9 L513.8 232.6 L515.3 234.8 L516.3 237.2 L518.4 238.7 L519.1 241.3 L521.4 242.7 L522.5 245.0 L524.1 247.1 L524.4 249.8 L525.1 252.4 L527.0 254.4 L527.5 257.0 M575.0 257.0 L576.3 254.9 L578.3 253.4 L579.6 251.4 L580.8 249.2 L582.6 247.7 L584.6 246.6 L586.9 246.3 L588.6 244.7 L591.0 244.5 L593.0 243.5 L595.2 242.8 L596.9 240.9 L599.2 239.8 L601.2 238.2 L602.9 236.4 L604.5 234.6 L607.0 233.4 L608.2 231.2 L609.2 228.8 L611.3 227.2 L612.4 224.7 L615.0 223.7 L617.7 222.9 L620.0 221.1 L622.6 221.7 L625.1 222.6 L627.7 223.1 L630.0 224.1 L632.5 224.1 L635.0 223.8 L637.5 223.5 L640.0 224.0 L642.5 223.5 L644.7 224.0 L646.2 226.2 L648.6 227.7 L649.9 230.0 L650.0 232.5 L650.6 235.0 L650.5 237.5 L649.5 240.0 L650.0 242.5 L649.9 245.4 L652.6 245.0 L655.0 246.4 L657.4 247.4 L660.2 248.0 L661.7 245.9 L664.0 245.5 L665.9 244.3 L668.2 243.8 L669.6 242.0 L671.6 240.8 L673.8 240.0 L675.3 238.2 L677.1 236.7 L679.3 235.9 L680.6 233.7 L682.5 232.5 M612.5 200.0 L614.1 201.7 L614.6 203.9 L615.9 205.8 L617.0 207.7 L617.4 210.0 L617.4 212.4 L618.4 214.5 L618.8 216.8 L619.7 218.9 L620.0 221.2 M617.5 192.5 L618.7 195.0 L620.1 197.8 L622.5 197.1 L625.1 196.9 L627.5 196.1 L629.9 195.1 L632.6 195.1 L634.5 194.0 L636.3 192.6 L638.6 192.1 L640.7 191.4 L642.1 189.7 L644.1 188.0 L645.8 186.2 L646.9 183.9 L648.2 181.8 L649.8 179.9 L650.9 177.9 L651.9 175.9 L652.6 173.8 L652.8 171.5 L654.6 169.7 L655.4 167.9 L656.3 165.4 L658.1 163.9 L660.0 162.5 M680.0 85.0 L682.4 83.7 L685.2 83.8 L687.8 83.0 L689.0 80.7 L691.1 79.8 L692.9 78.4 L695.0 77.5 L697.8 76.8 L699.6 74.6 L701.3 73.0 L703.3 71.7 L705.0 70.0 L707.5 70.0 L710.0 69.3 L712.4 68.6 L714.9 68.6 L717.8 68.1 L720.2 66.5 L721.5 64.0 L724.0 62.9 L726.2 61.0 L729.2 60.1 L729.0 57.7 L730.9 56.1 L730.7 53.7 L731.8 51.3 L732.5 48.8 M747.5 48.8 L748.0 51.1 L749.0 53.3 L750.2 55.4 L750.9 57.6 L751.0 59.8 L752.6 57.1 L754.7 54.8 L756.1 52.8 L758.0 51.2 L759.3 53.3 L760.1 55.7 L761.6 57.7 L763.0 59.6 L763.9 61.7 L764.7 63.9 L766.5 65.4 L767.6 67.4 L769.4 69.4 L771.8 70.7 L773.4 72.8 L775.2 75.3 L777.8 77.6 L776.5 79.9 L776.5 82.3 L777.9 84.3 L778.8 86.7 L779.9 88.9 L781.2 91.2 L783.7 92.6 L784.8 95.2 L786.7 97.0 L788.7 98.8 L789.3 101.2 L789.7 104.1 L790.5 107.1 L790.1 110.6 L792.4 108.9 L794.7 108.3 L797.4 106.7 L800.6 105.2 L800.2 102.7 L802.2 101.1 L802.6 98.8 L802.8 96.4 L804.3 94.6 L804.9 92.5 L805.9 90.0 L807.0 87.6 L807.7 85.2 L809.7 83.8 L810.5 81.3 L812.4 80.4 L815.0 80.5 L817.2 81.5 L819.0 83.5 L821.2 85.7 L824.1 84.7 L827.1 84.9 L830.2 85.6 L832.7 84.8 L834.9 83.2 L837.6 83.1 L840.6 81.7 L843.6 81.2 L843.5 78.0 L842.5 75.0 L841.2 72.5 L839.9 70.1 L838.0 68.2 L836.1 65.7 L838.2 65.0 L840.7 65.3 L842.8 64.5 L845.1 64.0 L847.7 62.9 L849.8 60.9 L852.3 59.7 L854.8 57.9 L857.2 56.2 L858.3 53.8 L858.2 51.2 L858.8 48.8 M790.0 110.0 L788.5 111.8 L786.5 113.2 L785.3 115.3 L783.7 117.1 L781.5 118.1 L779.7 119.7 L778.5 121.9 L776.5 123.2 L775.5 125.4 L773.9 126.9 L772.4 128.7 L771.5 130.8 L770.2 132.6 L768.6 134.9 L767.4 137.4 L766.7 140.1 L765.5 142.5 L766.0 145.1 L764.5 147.9 L767.6 150.1 L770.1 150.6 L772.6 150.9 L774.9 152.4 L777.5 151.8 L780.0 152.6 L782.4 153.6 L784.9 154.0 L787.6 153.1 L790.0 154.2 L792.5 154.7 L794.7 155.0 L795.0 157.5 L794.8 160.0 L795.1 162.6 L794.8 165.1 L793.9 167.5 L794.4 170.1 L794.0 172.5 L793.6 175.0 L793.7 177.6 L793.6 180.1 L792.1 182.4 L792.6 185.0 L792.4 187.6 L791.2 189.9 L791.7 192.6 L790.9 195.1 L789.6 198.0 L791.6 199.2 L793.6 200.2 L795.9 200.8 L797.6 202.3 L799.9 202.8 L802.0 204.0 L804.3 204.7 L806.0 205.7 L808.5 205.4 L810.4 203.8 L812.6 203.0 L815.2 203.0 L817.4 201.4 L819.9 200.6 L822.7 199.5 L824.9 201.2 L827.4 201.9 L830.0 202.5 L831.8 204.5 L834.1 205.9 L835.9 207.9 L837.4 210.1 L838.9 212.3 L840.9 214.1 L843.0 215.8 L845.0 217.5 L843.2 219.2 L840.6 219.1 L839.0 221.2 L836.9 222.2 L834.5 222.5 L832.1 224.0 L833.4 225.9 L835.1 227.5 L836.6 229.1 L838.0 230.9 L838.3 233.4 L839.5 235.4 L841.8 236.8 L842.6 239.3 L844.6 240.9 L846.2 242.8 L847.5 245.0 L849.3 246.6 L850.1 249.0 L851.6 250.8 L852.3 253.2 L853.8 255.0 M878.8 48.8 L878.1 51.9 L877.0 54.8 L876.3 57.0 L876.3 59.4 L875.6 61.5 L874.1 63.4 L873.9 65.7 L873.8 68.0 L873.1 69.8 L872.7 72.5 L874.1 74.5 L875.6 76.4 L875.8 78.9 L876.7 81.1 L877.6 83.3 L877.7 85.8 L878.6 88.0 L880.4 90.3 L879.0 92.1 L877.4 93.7 L875.5 95.2 L874.4 97.2 L872.9 98.9 L871.7 100.8 L870.8 103.0 L868.7 104.3 L868.3 106.8 L866.1 108.0 L865.3 110.3 L863.4 111.7 L861.2 112.9 L860.0 115.0 L858.8 117.1 L856.7 118.4 L854.8 119.8 L853.8 122.1 L851.9 123.6 L850.3 125.6 L847.9 126.2 L845.9 127.6 L843.7 128.7 L841.8 130.2 L839.5 131.1 L837.9 132.2 L838.3 134.7 L839.5 136.6 L841.3 138.1 L842.5 140.0 L841.7 142.4 L842.1 145.0 L841.1 147.4 L841.3 149.7 L843.4 151.1 L845.9 151.4 L848.1 152.6 L850.2 153.9 L852.9 153.6 L854.8 155.4 L857.0 156.1 L859.1 156.8 L861.1 157.8 L863.3 158.5 L865.2 159.8 L866.5 161.8 L868.7 162.9 L869.8 165.2 L871.2 167.1 L872.9 168.8 L874.7 170.4 L876.7 171.8 L879.3 172.6 L880.6 175.0 L883.2 175.7 L885.0 177.5 M680.0 132.5 L682.3 131.0 L683.9 129.3 L686.9 128.3 L690.0 127.5 L692.4 126.8 L695.0 126.9 L697.5 126.2 L699.8 125.7 L704.1 124.6 L705.6 127.0 L707.6 128.8 L710.4 129.8 L711.6 131.7 L712.3 133.9 L713.5 135.8 L714.4 137.8 L714.9 140.0 L714.5 142.5 L713.8 145.0 L713.5 147.6 L712.3 149.9 L711.5 152.0 L710.1 153.8 L708.8 155.7 L707.0 157.3 L707.0 160.1 L705.5 162.4 L705.2 165.1 L703.3 167.3 L702.6 170.1 L701.2 171.9 L700.0 174.3 L702.5 174.0 L705.0 173.2 L707.4 173.3 L710.2 173.8 L713.1 172.8 L711.5 175.1 L709.5 177.1 L709.0 179.8 L707.3 181.6 L705.7 183.4 L704.2 185.5 L701.7 186.7 L699.5 188.2 L697.7 190.1 L697.4 192.6 L696.4 195.4 L698.5 194.6 L700.4 193.4 L702.2 192.1 L704.4 191.3 L706.4 190.2 L708.1 188.7 L710.3 187.9 L712.0 185.7 L714.1 184.2 L715.7 182.2 L717.5 180.4 L719.1 178.5 L720.3 176.4 L721.3 173.8 L723.7 172.2 L724.9 169.9 L726.1 167.4 L728.2 165.7 L730.6 164.5 L732.2 162.1 L734.5 161.4 L736.4 160.3 L738.1 158.8 L740.2 158.0 L742.5 156.2 L745.0 155.0 L747.4 153.5 L750.3 153.1 L752.4 151.0 L755.0 150.3 L757.5 149.7 L760.0 150.3 L762.9 150.0 L765.0 147.5 M680.0 231.2 L681.5 229.1 L684.2 228.6 L685.7 226.7 L687.1 224.6 L689.2 223.3 L690.4 221.2 L692.5 220.1 L695.2 220.9 L697.6 222.4 L700.1 223.5 L702.5 224.9 L704.8 226.1 L707.3 227.1 L710.1 227.3 L712.5 228.2 L715.2 228.1 L717.5 229.2 L720.2 230.6 L722.4 228.9 L725.1 229.3 L727.6 228.3 L730.0 227.2 L732.5 227.9 L735.0 227.2 L737.5 228.1 L740.2 226.9 L744.2 229.1 L742.2 230.4 L741.2 232.5 M210.0 255.0 L212.2 255.9 L214.6 256.4 L216.6 257.9 L219.0 258.6 L220.8 260.9 L222.7 263.2 L224.6 265.4 L227.1 266.2 L228.2 268.4 L229.3 270.1 L230.4 272.2 L230.2 274.5 L231.5 276.5 L230.8 279.1 L232.4 280.9 L233.3 283.2 L234.7 285.3 L236.3 287.4 L238.8 288.7 L239.7 291.2 L240.4 293.7 L240.3 296.3 L240.2 298.9 L239.0 300.8 L238.2 302.9 L237.1 304.5 L235.4 307.4 L232.9 309.0 L231.4 311.4 L229.8 313.4 L227.9 315.0 L225.9 316.3 L223.6 317.2 L221.2 319.2 L219.1 321.1 L220.0 324.2 L220.0 327.5 L217.3 328.3 L214.9 329.9 L213.8 332.1 L211.7 333.4 L210.1 335.1 L207.5 337.5 M207.5 335.0 L208.6 337.6 L209.9 340.1 L210.7 342.8 L212.7 344.9 L214.5 347.4 L216.1 349.9 L213.8 351.2 L211.9 353.1 L210.0 355.0 L207.5 357.5 M208.8 385.0 L210.8 383.6 L212.1 381.7 L214.0 380.6 L215.8 378.9 L217.7 377.8 L220.4 377.4 L218.9 375.1 L218.8 372.3 L217.6 369.9 L216.7 367.9 L215.3 366.1 L215.2 364.2 L217.0 362.3 L219.7 362.5 L221.8 361.4 L223.6 359.8 L225.1 358.0 L227.5 357.0 L228.8 355.0 L231.8 353.9 L235.0 353.8 L237.1 355.4 L238.9 357.5 L239.0 360.0 L239.0 362.6 L239.8 365.4 L242.2 365.6 L244.0 367.0 L246.0 368.0 L247.7 369.6 L250.2 369.5 L252.5 370.8 L254.8 372.2 L257.5 372.4 L260.1 372.6 L262.5 373.4 L265.1 373.6 L267.1 376.1 L270.5 377.2 L271.6 379.8 L273.1 382.2 L273.5 384.9 L273.4 387.6 L272.0 389.9 L271.3 392.4 L270.7 395.4 L273.4 397.3 L275.3 399.4 L277.1 400.9 L278.7 402.6 L280.8 403.3 L283.3 403.4 L285.0 405.3 L287.6 405.3 L290.1 405.1 L292.5 404.4 L295.3 404.2 L297.3 402.9 L299.0 401.1 L300.7 399.7 L302.4 397.8 L305.1 397.4 L307.5 398.2 L310.1 399.5 L312.5 398.4 L315.0 398.0 L317.0 397.9 L319.0 399.2 L319.7 401.8 L322.2 403.0 L325.1 403.6 L327.5 404.8 L330.0 404.5 L332.5 405.6 L335.0 404.6 L337.7 404.3 L339.9 406.2 L342.5 406.4 L344.9 407.1 L347.3 407.8 L349.7 408.2 L351.6 409.5 L353.1 411.2 L355.3 411.9 L357.0 413.5 L358.9 414.8 L360.9 415.7 L362.9 416.6 L365.2 416.9 L367.6 417.8 L369.9 419.3 L372.6 418.9 L375.0 420.0 L377.3 418.8 L380.1 419.3 L382.4 417.7 L385.1 417.4 L387.5 418.8 L389.9 420.3 L391.7 421.5 L393.9 422.3 L396.1 422.8 L398.3 423.5 L399.9 425.3 L402.2 426.8 L405.3 426.9 L407.3 429.1 L410.1 429.5 L412.5 430.2 L415.0 430.6 L417.5 431.1 L419.7 431.8 L422.4 432.7 L425.1 433.6 L427.3 435.3 L429.4 436.2 L431.3 437.4 L433.2 438.6 L435.0 440.0 L434.0 442.6 L432.8 444.9 L433.8 447.3 L434.2 450.0 L435.3 452.5 L434.3 454.9 L434.1 457.3 L434.6 459.8 L434.0 462.2 L433.4 464.5 L433.8 467.0 M262.5 255.0 L264.6 256.3 L266.5 258.1 L268.5 259.4 L270.4 261.2 L272.5 263.1 L275.0 262.0 L277.5 263.2 L280.0 262.7 L282.5 262.9 L285.1 262.7 L287.3 262.3 L289.2 260.8 L291.5 260.6 L293.5 259.3 L295.7 258.9 L297.9 258.5 L299.9 257.1 L302.4 256.3 L305.1 256.6 L307.6 256.0 L310.0 255.0 M272.5 262.5 L275.0 263.1 L277.5 262.9 L280.0 263.7 L282.6 263.2 L284.9 264.6 L287.4 265.1 L289.3 266.4 L291.3 267.4 L293.3 268.4 L294.7 270.1 L296.0 272.0 L296.7 274.2 L298.2 275.9 L299.5 277.7 L299.9 280.0 L300.7 282.6 L301.1 285.2 L302.0 287.6 L303.7 289.8 L303.4 292.6 L304.7 294.9 L304.7 297.4 L304.5 300.0 L304.0 302.6 L303.1 305.0 L302.5 307.5 L303.5 310.1 L304.9 312.7 L307.4 314.0 L310.1 314.9 L311.7 316.5 L313.9 317.3 L315.5 318.9 L317.5 319.9 L320.0 320.9 L322.7 321.0 L325.0 322.5 L327.2 324.8 L328.7 327.4 L329.5 325.3 L331.4 323.8 L331.4 321.5 L330.4 319.4 L329.8 317.3 L330.0 315.2 L332.4 313.9 L335.3 314.3 L336.6 312.1 L338.6 311.1 L340.6 310.0 L342.0 308.7 L342.7 306.2 L343.1 303.7 L343.9 300.9 L341.6 299.4 L338.6 298.9 L338.3 296.5 L336.6 294.8 L336.3 292.4 L333.6 290.7 L330.9 288.7 L332.3 285.7 L332.8 282.7 L333.3 279.8 L334.7 277.4 L336.6 275.2 L337.5 273.2 L340.0 272.7 L342.5 273.0 L345.0 273.2 L347.5 272.8 L350.2 272.6 L350.5 269.9 L351.5 267.4 L352.7 265.0 L353.7 262.7 L353.5 259.9 L354.3 257.5 L355.0 255.0 M352.5 257.5 L353.2 260.0 L352.2 262.5 L352.6 265.0 L352.1 267.5 L352.9 270.0 L352.3 272.5 L352.4 275.2 L354.4 276.2 L356.5 277.1 L358.2 278.6 L359.9 280.3 L362.2 280.4 L364.4 281.1 L366.3 282.5 L368.5 283.0 L370.3 284.6 L372.4 285.4 L374.8 286.4 L377.3 287.1 L379.9 287.7 L382.7 288.3 L384.8 290.4 L387.2 291.3 L388.0 293.4 L388.9 295.5 L389.6 297.4 L389.4 300.1 L388.1 302.4 L387.5 305.0 L387.4 307.5 L387.1 310.0 L387.0 312.6 L386.2 315.0 L386.7 317.5 L387.0 320.0 L386.7 322.6 L387.4 324.8 L384.9 325.6 L382.3 326.0 L380.1 327.9 L377.5 327.8 L375.1 328.7 L372.5 328.6 L370.2 328.2 L367.4 328.7 L364.7 327.2 L362.0 330.2 L363.7 332.5 L364.8 334.6 L362.5 336.3 L360.0 337.7 L357.5 337.2 L354.9 337.3 L352.5 336.8 L349.9 336.5 L347.7 334.9 L344.9 335.2 L342.3 334.1 L339.8 331.9 L337.7 333.8 L334.8 333.5 L332.0 334.9 L331.6 338.1 L331.3 341.2 L331.0 344.4 L330.5 347.3 L331.7 349.8 L332.7 352.4 L333.9 354.9 L334.5 357.2 L333.7 360.0 L331.8 362.4 L331.8 364.9 L332.1 367.6 L331.1 370.0 L332.1 372.4 L332.7 374.9 L332.3 376.9 L330.1 378.4 L327.4 379.2 L324.9 378.7 L322.5 377.3 L320.0 377.6 L318.1 377.8 L316.0 379.9 L315.2 382.7 L312.1 384.9 L311.7 387.1 L310.8 389.1 L310.0 391.1 L312.4 392.7 L314.4 394.2 L315.9 395.9 L317.5 397.5 M370.0 255.0 L372.6 254.7 L375.0 255.6 L377.5 255.5 L379.9 255.6 L382.4 255.5 L385.0 255.2 L387.6 255.9 L390.0 255.0 M440.0 255.0 L440.1 257.6 L440.3 260.1 L441.0 262.3 L440.2 264.5 L438.8 266.3 L437.5 268.2 L436.5 270.1 L435.1 272.5 L433.4 275.1 L435.0 277.4 L435.3 279.9 L435.6 282.5 L436.0 285.0 L436.2 287.5 L436.3 290.0 L437.4 292.5 L437.5 295.0 L437.5 297.5 L437.8 299.9 L437.6 302.6 L437.8 305.1 L438.7 307.6 L440.1 309.9 L440.3 312.5 L439.3 315.0 L438.9 317.4 L439.1 320.0 L439.3 322.5 L439.0 325.1 L437.7 327.4 L436.4 329.8 L436.2 332.6 L435.4 334.9 L436.0 337.4 L436.1 339.9 L435.4 342.6 L436.0 345.1 L436.9 347.8 L439.3 349.7 L440.2 352.5 L440.0 355.1 L440.6 357.5 L441.7 359.7 L442.6 361.8 L443.5 363.9 L444.7 365.8 L446.3 367.5 L448.4 369.7 L449.5 373.0 L451.7 374.1 L453.1 376.0 L455.0 377.5 L456.0 379.9 L456.2 382.4 L456.6 384.6 L458.1 386.2 L459.6 387.8 L461.0 389.6 L462.7 391.0 L464.3 393.2 L465.5 395.7 L468.0 397.1 L469.8 399.7 L471.0 402.9 L473.1 403.8 L475.0 405.0 M415.0 387.5 L417.5 388.0 L420.1 388.4 L422.5 389.4 L425.2 389.7 L426.6 391.7 L428.5 392.9 L430.8 393.5 L433.2 394.9 L432.4 397.6 L433.6 400.0 L433.7 402.3 L431.4 403.3 L429.4 404.6 L427.6 405.7 L425.0 405.8 L422.6 404.9 L420.0 405.0 L419.0 407.6 L417.5 410.0 L417.7 412.2 L417.1 414.4 L417.0 416.7 L418.0 418.9 L418.0 421.1 L417.7 423.3 L417.6 425.6 L416.9 427.8 L417.2 430.6 L420.0 431.2 M385.0 417.5 L384.6 420.1 L385.2 422.5 L385.5 425.0 L386.3 427.5 L386.4 430.0 L387.5 432.3 L387.1 434.7 L386.3 437.2 L385.0 439.4 L383.2 441.2 L381.7 443.1 L379.8 444.8 L378.6 447.4 L376.5 449.0 L374.0 450.2 L372.2 452.1 L370.5 453.6 L368.7 454.9 L367.1 456.6 L364.6 457.1 L363.1 458.9 L361.7 460.8 L360.4 462.7 L359.1 464.9 L357.5 467.0 M435.0 452.5 L432.5 453.3 L430.1 454.0 L427.6 455.0 L425.0 455.1 L422.5 455.9 L420.1 456.9 L417.5 457.7 L415.1 458.4 L412.5 458.9 L410.0 459.2 L407.5 460.0 L405.9 461.6 L403.5 462.2 L401.9 463.7 L400.0 465.0 M520.5 270.0 L519.1 274.1 L516.9 275.9 L514.8 278.4 L516.0 281.1 L517.5 283.9 L519.7 285.8 L521.6 287.7 L522.4 290.1 L521.6 292.5 L522.2 294.9 L522.2 297.4 L522.0 300.1 L521.1 302.8 L521.2 305.7 L519.6 308.1 L518.9 310.7 L516.8 312.7 L515.3 315.5 L512.3 316.2 L509.4 317.4 L507.1 319.7 L504.3 320.9 L501.5 322.1 L498.7 323.3 L496.0 323.7 L493.2 323.1 L490.5 323.4 L488.1 323.2 L485.7 323.5 L483.3 323.5 L481.3 324.0 L480.3 326.3 L480.1 328.4 L477.6 328.9 L475.3 330.2 L472.3 329.7 L470.6 332.0 L468.7 334.4 L465.9 335.6 L463.2 336.9 L460.5 337.5 L457.8 338.6 L455.0 338.9 M521.9 287.7 L524.2 287.4 L526.4 287.5 L528.6 288.1 L531.5 288.3 L534.3 288.5 L536.9 289.7 L539.3 290.1 L541.6 290.5 L543.6 292.5 L546.0 291.7 L548.2 292.3 L550.4 292.3 L552.6 291.2 L555.3 291.7 L557.5 291.1 L560.0 289.7 L562.8 289.7 L567.1 290.5 L567.7 293.1 L567.4 295.9 L566.9 298.6 L567.0 301.7 L571.1 300.2 L572.4 298.1 L574.4 297.0 L576.5 295.9 L578.7 294.8 L580.5 293.1 L584.0 290.5 M571.0 270.0 L569.0 271.1 L566.7 271.6 L565.1 273.7 L563.1 274.2 L562.7 276.4 L561.3 278.5 L561.8 280.6 L564.0 282.5 L565.7 285.0 L566.4 287.8 L567.6 290.5 M566.9 301.4 L565.9 303.5 L563.8 304.8 L563.1 307.2 L561.2 308.5 L560.4 310.8 L558.2 312.1 L557.7 315.2 L555.7 317.6 L554.3 319.6 L553.6 321.8 L554.6 324.0 L556.9 324.7 L559.2 324.6 L561.5 324.6 L564.1 325.7 L566.9 326.0 L568.3 328.3 L569.6 330.5 L571.0 332.8 L573.1 334.4 L575.1 335.7 L577.8 335.7 L580.5 335.4 L583.2 335.2 L585.6 335.4 L587.7 334.0 L589.7 333.9 L591.0 331.8 L591.7 329.5 L592.6 327.0 L594.8 325.8 L596.9 324.6 L599.7 323.9 L602.5 323.4 L605.0 321.9 M592.8 327.3 L593.8 329.4 L595.6 330.9 L596.9 332.8 L599.8 335.4 L602.5 336.5 L605.0 338.2 M591.5 335.5 L593.4 337.8 L596.4 338.7 L598.5 340.7 L600.2 342.5 L602.3 343.8 L604.0 345.6 L605.0 347.8 M579.2 351.9 L583.1 351.1 L586.1 351.1 L588.7 352.0 L590.6 353.4 L591.0 355.8 L593.1 356.8 L594.9 358.6 L597.3 360.5 L599.4 358.5 L601.3 356.5 L603.3 355.0 L605.0 353.3 M579.2 351.9 L579.1 354.2 L578.9 356.6 L577.9 358.7 L578.9 360.8 L578.1 363.4 L579.5 366.1 L576.6 367.1 L574.1 368.4 L573.7 371.2 L572.4 373.7 L571.0 376.0 L568.3 377.0 L566.8 379.0 L563.0 380.6 L563.0 383.4 L564.2 386.0 M844.0 240.0 L845.0 242.2 L846.8 243.8 L847.5 246.1 L848.7 248.2 L850.4 249.9 L852.0 251.6 L852.6 253.5 L851.5 255.7 L851.2 258.3 L850.5 260.7 L848.4 262.6 L847.6 264.9 L847.2 267.2 L847.2 269.9 L848.1 272.4 L847.8 275.1 L849.2 277.5 L849.8 279.8 L851.4 281.5 L852.4 283.6 L853.0 286.0 L855.3 287.2 L856.4 289.2 L857.1 291.4 L859.6 292.5 L860.2 294.5 L862.3 293.2 L863.1 290.7 L865.6 289.6 L867.0 287.7 L867.9 285.2 L869.9 283.8 L871.4 282.0 L873.6 280.8 L875.4 279.1 L877.6 277.9 L879.6 276.4 L881.7 275.2 L883.7 273.7 L886.0 272.8 M690.9 325.0 L693.0 326.2 L695.3 326.8 L697.8 326.7 L699.8 327.6 L701.2 329.6 L702.7 331.6 L703.8 333.8 L704.3 336.4 L706.3 338.1 L707.2 340.4 L708.3 342.5 L710.4 343.8 L711.3 346.0 L713.6 347.2 L714.3 349.6 L715.6 351.5 L717.0 353.3 L718.2 355.3 L719.8 356.8 L720.4 359.2 L722.2 361.1 L722.8 363.5 L724.1 365.7 L724.9 367.9 L725.1 370.3 L725.4 372.7 L726.2 375.2 L728.9 375.5 L730.4 377.9 L733.0 378.3 L735.7 380.2 L738.0 382.5 L739.7 384.4 L741.8 386.2 L744.2 386.1 L746.5 386.7 L748.6 387.7 L751.2 387.6 L752.0 389.8 L753.4 391.6 L755.2 393.1 L756.5 395.0 M360.0 460.0 L358.5 461.8 L358.1 464.1 L356.7 465.8 L355.8 467.9 L355.2 470.2 L353.3 471.6 L351.6 473.2 L350.0 475.0 L348.7 477.1 L346.2 477.8 L345.2 479.4 L342.3 479.9 L340.2 477.9 L337.5 477.7 L334.8 477.5 L332.4 475.8 L330.0 476.7 L327.4 476.8 L325.3 477.1 L323.2 476.2 L320.9 475.5 L319.6 473.4 L317.6 472.2 L314.5 471.3 L311.4 471.4 L309.3 472.8 L307.7 474.7 L306.7 477.0 L305.1 478.8 L305.6 481.7 L306.5 484.5 L306.4 487.8 L304.3 489.4 L302.4 491.3 L299.6 492.4 L299.3 495.0 L298.2 497.5 L297.7 499.8 L299.3 501.5 L300.6 503.6 L302.5 505.0 L304.3 507.0 L306.3 508.7 L308.1 510.7 L309.6 512.9 L311.9 513.9 L313.3 515.9 L314.8 517.7 L317.1 518.8 L317.9 521.3 L320.0 522.5 L322.6 523.0 L324.9 524.5 L327.4 525.4 L329.9 526.0 L332.3 527.2 L334.6 527.1 L336.7 525.9 L338.6 524.4 L340.3 523.0 L342.0 521.4 L343.8 520.1 L345.5 518.6 L347.5 517.6 L350.0 516.3 L352.8 515.5 L355.4 514.1 L356.9 511.9 L358.8 510.0 L360.1 506.9 L362.4 508.5 L365.0 508.7 L367.4 509.7 L370.1 509.7 L372.5 510.6 L374.9 511.7 L377.7 511.2 L379.9 512.2 L382.5 511.2 L384.6 510.2 L386.3 511.9 L386.6 514.2 L388.3 515.8 L389.2 517.9 L389.9 520.0 L391.3 522.1 L392.6 524.3 L394.1 526.3 L396.3 527.8 L397.3 530.3 L399.3 531.4 L401.3 532.4 L402.9 534.1 L405.4 535.4 L406.6 533.3 L408.7 532.1 L409.5 529.8 L410.4 527.4 L412.0 525.1 L412.2 522.5 L412.6 520.0 L412.5 517.5 L412.0 515.0 L412.9 512.4 L412.4 509.9 L411.1 507.6 L410.9 505.1 L411.0 502.4 L410.3 499.5 L407.7 498.3 L405.0 497.5 L402.4 496.4 L400.0 495.1 L397.9 494.1 L396.2 492.5 L394.2 491.6 L392.2 490.4 L390.3 488.5 L387.9 487.1 L386.2 485.0 L386.3 482.5 L386.1 480.0 L386.3 477.5 L386.1 475.0 L385.5 472.5 L385.7 470.0 L385.0 467.4 L387.5 467.9 L389.9 467.2 L392.5 466.9 L395.2 466.9 L397.5 465.8 L400.0 465.0 L402.6 464.9 L404.9 463.7 L407.6 464.0 L409.9 462.3 L412.4 462.2 L414.9 461.2 L417.4 460.5 L420.0 460.0 M412.5 512.5 L412.2 515.1 L413.8 517.4 L413.8 520.0 L413.7 522.5 L413.8 525.0 L413.9 527.5 L414.7 530.0 L415.1 532.5 L414.5 535.1 L416.1 537.4 L416.8 539.9 L417.2 542.4 L417.5 545.0 L417.7 547.7 L418.9 550.1 L419.9 552.5 L418.7 554.4 L417.3 556.1 L416.1 558.0 L415.1 560.2 L413.3 561.5 L411.2 562.4 L408.8 562.6 L406.9 563.8 L404.7 564.7 L403.8 567.1 L401.3 567.9 L400.0 569.8 L402.5 570.6 L405.0 570.1 L407.5 570.1 L410.1 570.4 L412.6 569.3 L415.1 568.6 L418.0 567.3 L418.2 570.0 L419.4 572.4 L420.6 575.1 L419.9 577.6 L418.8 580.0 L418.4 582.6 L417.1 585.0 L418.0 587.5 L418.2 590.0 L416.8 592.5 L417.7 594.9 L418.7 597.5 L420.4 600.2 L419.1 602.7 L417.6 605.1 L415.4 605.9 L414.1 608.0 L411.6 608.4 L409.8 609.3 L407.5 610.5 L405.0 611.4 L402.6 612.2 L400.1 612.9 L397.6 613.6 L394.8 613.7 L392.7 615.7 L389.9 615.5 L387.4 616.4 L385.3 618.1 L383.3 619.0 L380.9 619.2 L378.9 620.3 L377.1 621.7 L374.7 622.1 L372.7 624.7 L369.9 626.3 L367.7 625.4 L366.1 623.5 L363.7 623.0 L361.8 621.6 L360.3 619.7 L358.3 618.3 L356.8 616.5 L354.9 614.7 L352.4 616.1 L350.1 617.9 L347.4 618.1 L345.2 619.7 L342.7 620.3 L340.7 621.3 L339.0 622.9 L337.2 624.2 L334.9 624.8 L332.8 625.7 L331.1 627.2 L329.1 628.1 L327.2 629.4 L325.0 630.0 L323.1 631.2 L320.9 632.0 L319.7 634.3 L317.3 634.5 L314.8 635.2 L312.6 636.9 L310.1 637.2 L307.6 636.4 L305.1 636.0 L302.4 635.9 L300.0 634.8 L297.6 633.9 L294.9 634.3 L292.5 633.2 L290.0 633.2 L287.5 632.0 L285.0 632.1 L282.3 633.1 L280.1 631.3 L277.6 630.6 L274.5 630.2 L273.8 627.5 L272.7 624.9 L271.0 622.6 L270.0 620.0 L269.3 617.8 L267.7 616.1 L266.3 614.4 L264.4 612.4 L264.9 609.9 L266.3 607.6 L266.5 605.2 L267.9 602.7 L268.8 600.0 L270.1 597.5 L270.4 595.0 L271.1 592.6 L271.0 590.0 L271.8 586.9 L272.5 583.8 L270.1 582.9 L267.4 582.9 L264.8 582.3 L262.3 581.4 L260.1 580.4 L257.3 580.4 L254.9 581.4 L252.7 582.3 L250.8 580.9 L248.8 579.6 L247.5 577.5 L247.4 574.9 L246.3 572.5 L245.8 570.0 L244.9 567.4 L246.6 565.8 L248.8 565.1 L250.6 563.7 L252.4 562.3 L254.8 560.4 L257.5 559.1 L260.0 558.1 L262.5 558.0 L265.1 557.2 L267.4 558.7 L270.1 559.0 L272.5 560.0 L274.8 561.4 L277.4 562.0 L280.1 562.8 L282.4 561.5 L285.2 561.3 L287.4 559.9 L289.8 559.3 L291.6 558.0 L293.2 556.4 L295.5 555.0 L295.1 551.9 L295.0 549.1 L297.5 548.3 L300.0 549.5 L302.5 549.2 L304.9 548.3 L307.5 548.2 L310.0 548.4 L312.5 548.4 L314.9 547.3 L317.6 548.1 L320.0 546.9 L322.6 547.3 L325.3 546.1 L324.1 544.1 L323.2 542.1 L322.0 540.3 L320.7 537.8 L320.1 534.9 L318.6 533.1 L317.1 531.3 L314.9 530.2 L312.7 528.6 L309.9 528.6 L307.9 527.1 L305.4 525.5 L307.2 522.7 L310.1 521.7 L312.6 520.9 L315.0 520.0 M420.0 600.0 L422.4 600.9 L424.9 601.7 L427.5 601.9 L430.0 602.5 L431.8 601.1 L434.0 600.4 L435.9 599.2 L437.7 597.0 L439.9 598.7 L442.6 598.9 L444.8 599.6 L446.8 598.6 L449.0 598.1 L450.9 596.7 L452.8 595.7 L454.7 594.5 L456.9 593.8 L459.2 593.3 L460.7 591.4 L463.0 591.0 L465.0 590.1 L467.5 589.4 L470.0 589.7 L472.5 590.6 L475.0 590.0 M207.5 590.0 L210.2 589.8 L212.7 588.8 L215.0 587.0 L217.5 587.9 L220.0 587.4 L222.1 587.4 L223.3 585.0 L224.7 582.7 L225.5 579.9 L224.5 577.5 L223.6 575.1 L224.4 572.4 L224.2 569.9 L223.3 567.5 L222.6 565.0 L222.8 562.5 L222.7 560.2 L224.1 558.3 L225.7 556.5 L227.3 554.7 L229.2 553.5 L230.9 552.0 L232.9 551.0 L235.5 550.4 L235.7 547.7 L237.8 546.4 L239.1 544.6 L239.9 542.5 L241.0 540.0 L241.3 537.4 L242.6 535.2 L245.1 534.0 L247.7 532.7 L249.2 530.8 L251.3 529.6 L253.0 527.5 L252.6 525.0 L252.5 522.8 L255.0 522.2 L257.5 523.1 L259.9 522.7 L262.3 523.9 L265.1 523.9 L266.8 525.0 L268.1 527.5 L267.5 530.0 L268.0 532.5 L267.9 535.0 L267.1 537.5 L268.0 539.6 L269.3 542.0 L271.2 543.9 L272.7 546.7 L274.8 544.7 L277.4 544.1 L280.2 543.9 L282.6 542.7 L285.1 541.5 L287.1 540.6 L289.7 540.7 L291.1 542.7 L292.9 544.0 L294.7 545.0 L295.0 548.8 M275.0 630.0 L274.1 632.4 L274.3 635.1 L273.7 637.6 L272.5 639.6 L270.0 639.8 L267.8 639.9 L269.0 642.3 L269.1 645.0 L270.1 646.9 L272.4 648.3 L275.0 648.3 L277.4 649.4 L280.1 648.9 L282.5 650.0 L285.2 650.3 L287.4 652.0 L290.0 652.6 L292.1 653.4 L293.4 655.5 L295.5 656.5 L297.6 657.3 L299.8 658.8 L302.6 659.0 L305.0 660.6 L307.5 659.7 L310.0 660.7 L312.9 659.6 L313.9 661.9 L316.0 663.1 L317.6 665.0 L318.2 667.4 L319.8 669.5 L320.0 672.0 M467.5 620.0 L468.7 622.4 L469.7 624.8 L469.7 627.7 L471.6 629.8 L472.5 632.5 L475.0 630.0 M470.0 481.2 L472.5 481.3 L475.0 481.5 L477.4 482.8 L480.0 482.5 L482.5 483.0 L485.0 483.4 L487.4 483.9 L490.2 483.5 L492.3 484.9 L493.8 486.9 L495.9 488.1 L497.3 489.3 L500.1 489.9 L502.5 488.9 L505.0 488.0 L507.4 487.0 L510.1 487.2 L512.5 486.3 L514.9 485.2 L516.9 485.2 L517.7 487.7 L518.6 490.2 L520.3 492.9 L521.9 491.3 L523.6 489.8 L525.7 488.9 L527.2 487.1 L529.5 486.1 L530.9 483.9 L532.7 482.3 L534.7 481.3 L536.0 483.2 L536.4 485.5 L537.1 487.5 L537.0 490.0 L537.3 492.5 L537.0 495.0 L537.3 497.7 L538.7 499.6 L540.4 501.2 L542.3 501.9 L544.9 501.4 L547.5 500.7 L549.9 499.7 L552.4 498.7 L555.2 498.8 L557.2 496.9 L559.8 495.9 L562.7 495.4 L564.8 493.5 L567.3 491.6 L570.3 490.6 L572.7 489.1 L575.0 487.4 L577.2 485.2 L579.9 483.5 L582.8 483.1 L585.2 481.6 L587.3 479.4 L590.1 479.4 L592.4 478.2 L595.1 477.8 L597.4 476.3 L599.8 475.2 L602.3 474.1 L604.8 473.6 L606.7 472.2 L608.0 469.8 L606.5 467.4 L605.2 464.8 L603.0 463.6 L601.5 461.8 L600.0 460.0 M607.5 470.0 L609.8 471.4 L612.3 472.3 L614.9 472.5 L617.0 470.6 L618.8 468.7 L619.8 466.9 L622.6 466.6 L624.8 467.4 L624.3 470.0 L623.4 472.5 L622.5 475.0 L624.4 476.4 L626.3 477.9 L627.8 480.2 L629.0 478.3 L630.4 476.5 L630.8 474.1 L632.4 472.1 L635.0 472.2 L637.6 472.2 L640.0 471.2 L642.8 472.8 L645.0 475.1 L647.3 476.2 L649.9 476.7 L652.4 477.4 L655.0 477.4 L657.6 477.6 L659.9 478.9 L662.6 479.2 L665.1 478.9 L667.5 477.8 L669.8 477.3 L671.7 475.9 L674.0 475.4 L676.0 474.2 L677.4 472.4 L679.5 471.2 L680.7 469.0 L682.4 467.5 L683.4 465.0 L683.8 462.4 L685.0 460.0 M542.5 502.5 L545.1 502.8 L547.8 503.6 L549.4 505.7 L550.8 507.9 L553.0 509.8 L553.4 512.7 L555.4 514.8 L556.3 517.5 L556.0 520.0 L556.7 522.5 L556.3 525.1 L554.9 527.5 L553.7 530.0 L552.3 532.0 L549.8 533.4 L547.9 535.3 L545.9 536.6 L544.9 538.7 L543.5 540.5 L543.0 542.4 L542.9 545.0 L542.9 547.5 L543.1 550.1 L543.5 552.8 L546.0 554.8 L547.1 557.6 L548.2 560.0 L548.9 562.6 L549.5 565.1 L550.8 567.5 L550.7 570.1 L551.4 572.6 L552.2 575.3 L554.3 576.5 L555.8 578.4 L557.9 579.9 L558.0 582.6 L558.6 585.2 L560.3 587.1 L561.7 589.0 L563.6 589.8 L562.1 592.2 L559.2 592.9 L557.5 595.0 L558.3 597.4 L559.0 599.9 L558.4 602.4 L558.6 605.0 L557.9 607.5 L557.5 610.4 L555.0 609.9 L552.5 610.1 L550.0 609.6 L547.5 609.8 L545.0 609.7 L542.5 610.3 L540.0 610.6 L537.3 609.5 L534.7 610.7 L532.4 612.4 L530.4 613.7 L529.0 615.6 L527.4 617.5 L527.0 620.0 L526.2 622.7 L523.3 622.5 L520.4 622.9 L517.5 622.6 L515.0 622.5 L512.5 623.2 L510.0 622.6 L507.8 622.6 L506.1 624.9 L505.1 627.1 L502.5 626.7 L500.1 626.0 L497.5 625.5 L495.2 625.2 L493.5 626.8 L491.3 628.0 L490.2 629.4 L487.4 629.6 L484.8 629.0 L482.7 626.9 L480.2 626.2 L477.5 625.7 L474.8 624.6 L472.4 626.1 L470.0 627.5 M470.0 587.5 L471.3 589.6 L473.6 590.6 L475.1 592.5 L475.6 595.1 L477.0 597.4 L477.2 600.1 L479.0 602.4 L479.7 604.9 L478.4 607.3 L477.6 610.0 L475.6 612.2 L474.9 614.9 L473.1 616.4 L472.1 618.8 L470.0 620.0 M557.5 610.0 L560.0 609.5 L562.5 610.3 L565.0 610.6 L567.5 610.2 L570.0 610.6 L572.5 609.4 L574.7 610.4 L577.2 612.3 L579.8 613.8 L580.1 616.9 L579.8 619.8 L578.8 622.2 L576.8 623.9 L575.3 625.8 L574.0 628.0 L572.8 629.8 L574.4 632.2 L574.9 634.6 L577.6 634.6 L579.9 633.0 L582.3 631.9 L584.5 631.3 L586.7 630.9 L588.8 630.1 L591.0 629.7 L593.1 628.8 L595.2 628.1 L597.6 627.4 L600.0 626.2 L602.4 625.1 L604.7 625.6 L607.2 625.7 L608.9 627.2 L611.1 627.7 L612.8 629.4 L614.6 629.9 L615.5 627.5 L615.9 624.9 L617.4 622.6 L617.6 620.1 L618.7 618.1 L619.3 615.9 L620.1 613.8 L621.9 612.2 L622.9 610.1 L623.4 607.6 L624.4 605.2 L624.5 602.5 L624.6 599.8 L626.1 598.1 L626.7 595.9 L628.0 594.0 L628.9 592.0 L630.1 590.0 L630.6 587.5 L630.4 585.0 L629.9 582.6 L627.8 580.3 L629.5 578.7 L631.1 576.9 L632.6 575.0 L633.1 572.5 L632.5 570.0 L631.9 567.5 L632.2 564.9 L633.9 562.6 L634.9 559.9 L636.6 558.3 L638.2 556.6 L639.6 554.8 L640.8 552.8 L642.0 550.9 L644.0 549.5 L644.8 547.6 L644.3 545.0 L644.3 542.4 L643.3 540.0 L642.9 537.7 L644.1 535.2 L645.4 532.9 L646.2 530.4 L648.2 529.1 L650.3 528.1 L652.5 526.2 L655.3 525.6 L657.3 523.4 L659.8 521.9 L662.7 522.2 L665.0 520.7 L667.5 520.0 L669.7 519.3 L671.0 517.2 L673.5 516.8 L675.0 514.9 L677.4 513.8 L679.9 513.0 L682.5 512.5 L685.0 512.5 L687.5 513.0 L690.6 512.4 L691.0 514.9 L691.3 517.4 L691.1 520.1 L692.1 522.7 L693.8 525.0 L694.9 527.6 L695.6 529.7 L697.3 531.5 L697.5 533.4 L700.1 534.2 L702.5 532.9 L705.1 533.4 L707.5 532.5 L709.2 530.9 L710.9 529.4 L712.9 528.4 L715.1 527.3 L717.5 528.7 L720.1 529.9 L721.6 531.7 L723.4 533.3 L725.3 534.4 L727.6 536.0 L730.4 538.0 L732.1 535.1 L735.2 534.1 L737.5 531.9 L740.1 530.3 L742.4 528.5 L745.0 527.5 M665.0 477.5 L665.2 480.0 L665.0 482.5 L664.5 485.3 L666.4 486.7 L668.0 488.4 L669.3 490.3 L669.7 492.9 L672.0 493.5 L674.0 494.6 L675.6 496.4 L677.0 497.6 L678.0 500.0 L679.2 502.4 L679.5 505.0 L680.3 507.4 L681.9 509.7 L682.5 512.5 M617.5 620.0 L620.0 620.7 L622.5 619.9 L625.2 619.5 L627.3 621.3 L629.8 622.3 L632.4 622.9 L635.1 623.0 L637.6 623.8 L640.0 625.0 L641.8 626.3 L643.5 627.9 L645.3 629.3 L647.1 630.4 L649.3 631.5 L650.7 633.4 L653.0 634.8 L653.3 637.5 L654.7 639.8 L655.5 642.3 L656.3 644.8 L656.9 647.4 L657.8 649.9 L658.1 652.6 L659.7 654.8 L660.5 657.7 L659.0 659.9 L658.1 662.4 L657.2 664.9 L656.4 667.2 L655.6 669.6 L655.0 672.0 M700.0 421.9 L702.4 422.3 L704.8 422.8 L707.5 422.3 L709.9 423.4 L712.0 425.0 L714.7 425.2 L717.0 426.5 L719.6 427.1 L721.9 428.2 L724.1 429.2 L726.5 429.4 L728.7 427.3 L730.7 425.4 L733.2 423.1 L734.7 420.3 L738.3 418.3 M740.1 380.0 L741.1 382.7 L741.7 386.0 L744.2 386.9 L746.5 388.5 L749.1 389.3 L750.7 390.8 L752.8 391.6 L754.5 393.0 L756.1 395.8 L758.9 398.2 L758.3 400.9 L758.4 403.6 L755.3 402.4 L753.0 399.7 L750.2 398.9 L747.6 397.6 L744.6 397.5 L741.9 396.4 L739.4 395.0 L736.6 394.6 L735.1 397.2 L734.7 400.0 L736.2 401.8 L737.6 403.5 L739.0 405.3 L740.1 407.2 L742.9 406.8 L745.4 407.7 L748.1 408.9 L751.3 408.7 L754.1 410.5 L757.0 412.3 L757.9 415.1 L760.6 416.0 L761.8 418.1 L760.3 420.3 L758.5 422.3 L756.0 423.5 L753.3 424.1 L751.4 426.2 L748.0 427.0 L745.5 429.1 L744.0 431.3 L742.3 433.1 L739.9 436.3 L738.2 438.2 L736.6 440.4 L733.8 441.3 L731.0 442.1 L728.2 441.9 L725.5 442.9 L727.1 444.6 L729.1 445.8 L730.9 447.1 L732.8 448.4 L735.6 448.2 L738.3 447.5 L740.9 446.5 L743.0 444.6 L745.5 443.6 L748.2 443.7 L750.4 442.5 L752.6 442.4 L755.3 444.3 L758.3 445.7 L760.9 446.0 L763.0 447.8 L765.5 448.6 L769.3 449.3 M700.0 527.7 L702.3 527.4 L704.5 528.2 L706.8 527.7 L708.9 527.1 L711.7 526.2 L714.9 525.6 L716.3 527.8 L718.1 529.9 L720.6 529.4 L722.9 529.7 L725.0 531.0 L727.3 531.2 L729.6 530.8 L732.0 530.8 L734.3 530.5 L736.3 530.1 L739.5 530.8 L742.8 531.3 M350.0 749.0 L351.8 747.3 L353.9 746.4 L356.3 745.9 L358.6 745.2 L360.1 743.1 L362.5 742.5 L364.5 741.1 L366.6 739.9 L368.6 738.5 L370.7 737.2 L372.7 735.9 L374.8 734.5 L377.0 734.1 L379.0 732.9 L381.1 732.3 L383.1 731.2 L385.0 730.0 M450.0 710.0 L452.3 709.6 L453.9 707.8 L456.2 707.5 L457.9 705.9 L460.1 705.2 L462.1 704.1 L463.7 702.4 L465.6 701.2 L467.6 700.2 L469.8 698.6 L472.5 698.4 L475.0 697.5 M310.0 660.0 L312.7 660.3 L315.1 661.3 L317.3 662.6 L317.7 665.2 L318.5 667.7 L320.3 670.1 L319.6 672.7 L318.3 675.0 L317.5 677.6 L313.8 677.5 M470.0 697.5 L471.9 696.3 L474.2 695.8 L476.1 694.8 L478.0 693.6 L480.1 692.6 L481.3 690.7 L482.7 688.9 L484.2 687.2 L485.6 685.2 L486.3 682.7 L486.7 680.1 L486.3 677.4 L487.4 675.0 L489.1 673.3 L489.8 671.1 L491.4 669.5 L491.9 667.3 L492.9 664.9 L494.0 662.5 L494.5 659.7 L496.2 658.1 L497.2 656.0 L499.2 654.7 L499.8 652.4 L500.7 649.9 L502.1 647.6 L502.5 645.0 M555.0 692.5 L554.5 695.0 L554.8 697.6 L554.2 699.9 L554.0 702.5 L555.0 704.9 L555.2 707.2 L557.4 708.9 L560.0 710.0 L562.4 708.5 L565.0 707.5 M786.6 587.4 L788.8 588.0 L790.9 588.7 L793.3 588.5 L795.4 589.3 L797.8 590.2 L797.4 592.6 L798.9 594.8 L798.9 597.2 L799.5 599.5 L799.2 602.0 L799.5 604.3 L800.9 606.7 L799.3 608.8 L799.1 611.1 L799.3 613.5 L797.9 615.6 L798.3 618.0 L797.1 620.2 L797.6 622.6 L796.7 624.8 L796.1 627.2 L795.2 629.6 L794.8 632.0 L794.7 634.5 L795.0 637.1 L794.0 639.4 L793.9 641.8 L792.9 644.2 L793.2 646.7 L793.4 649.1 L793.3 651.6 L792.7 653.8 L792.4 656.4 L790.4 658.2 L789.5 660.4 L788.7 662.8 L787.2 664.8 L786.7 667.4 L786.2 669.9 L784.9 672.2 L785.3 674.6 L785.1 676.9 L784.5 679.2 L783.8 681.4 L784.5 683.8 L784.0 686.1 L782.6 683.3 L780.5 680.9 L778.7 679.5 L776.7 678.4 L774.8 677.1 L773.0 675.8 L770.7 674.4 L768.3 673.2 L766.0 671.9 L763.5 670.6 L762.1 668.6 L761.2 666.2 L760.5 663.8 L759.0 661.8 L757.3 660.0 L756.9 657.5 L755.3 655.6 L756.0 653.1 L755.1 651.0 L754.4 648.9 L753.7 646.7 L754.5 644.5 L753.6 642.1 L753.8 639.8 L754.7 637.6 L755.4 635.4 L756.4 633.3 L757.5 631.2 L757.8 628.8 L759.9 627.2 L760.4 624.9 L760.6 622.4 L762.3 620.7 L762.9 618.4 L764.0 616.4 L765.0 614.3 L766.2 612.3 L766.2 609.8 L768.3 608.4 L768.7 606.2 L769.4 604.0 L770.7 602.2 L771.7 600.3 L773.2 598.8 L774.9 596.9 L776.4 594.8 L779.0 593.9 L780.7 592.1 L783.0 590.9 L784.2 588.5 L786.6 587.4 M455.0 375.5 L455.0 378.3 L455.4 381.0 L457.0 383.2 L457.8 385.4 L459.6 387.0 L460.5 389.1 L462.8 391.0 L463.7 394.0 L466.2 395.6 L467.6 397.9 L469.4 399.7 L471.5 401.2 L474.3 402.4 L476.5 404.6 L479.8 404.9 L482.4 406.6 L485.1 407.1 L487.7 407.9 L490.5 408.0 L493.1 407.2 L496.0 407.4 L498.7 407.2 L501.5 407.0 L504.2 406.4 L506.9 405.9 L509.5 405.2 L512.3 405.5 L515.1 405.3 L517.8 404.7 L520.3 406.4 L523.2 406.5 L527.6 407.3 L530.0 405.1 L532.2 405.6 L533.0 409.9 L534.8 411.5 L535.0 414.0 L537.0 416.3 L539.5 419.3 L541.4 420.7 L543.7 421.3 L546.0 421.3 L548.2 420.6 L550.5 421.3 L552.8 421.1 L555.1 421.5 L557.6 421.8 L558.4 426.6 L561.4 427.5 L564.3 429.0 L566.8 427.6 L569.4 427.1 L571.9 426.4 L574.2 424.4 L574.8 427.9 L577.9 428.6 L580.7 430.0 L582.6 432.1 L584.7 434.0 L586.8 435.5 L588.8 436.8 L591.4 437.8 L594.3 437.9 L597.2 439.2 L599.8 441.0 L601.3 444.2 L599.0 445.1 L596.9 446.4 L595.2 449.0 L594.7 451.8 L595.0 454.6 L595.3 457.5 L597.1 459.0 L598.0 461.2 L599.5 463.1 L602.1 463.6 L603.8 465.5 M572.4 370.0 L573.8 374.2 L572.0 375.9 L571.0 378.2 L568.7 378.4 L566.3 378.5 L564.0 379.5 L562.7 382.3 L564.1 385.5 L566.9 385.6 L570.3 386.2 L570.6 389.0 L570.9 391.9 L571.8 394.2 L573.7 396.0 L576.1 396.1 L578.2 397.5 L580.6 397.2 L583.3 396.9 L586.0 397.4 L587.9 395.8 L590.6 394.5 L590.5 397.4 L591.2 400.0 L591.3 402.4 L592.9 404.5 L592.2 407.0 L592.9 409.3 L594.1 411.4 L594.2 413.7 L591.5 416.2 L588.8 417.4 L586.4 418.2 L583.6 419.5 L582.4 422.0 L581.3 424.6 L580.7 427.3 L581.5 429.7 L583.3 431.4 M455.0 477.8 L457.7 478.3 L460.5 478.6 L463.0 479.8 L466.0 479.9 L468.6 481.3 L471.5 481.5 L474.1 482.7 L476.8 483.2 L479.6 483.8 L482.3 483.3 L485.1 482.9 L487.7 483.4 L490.5 486.0 M513.7 486.0 L516.1 485.1 L518.0 483.1 L520.5 486.0 M531.4 486.0 L532.2 483.0 L534.6 480.4 L535.0 483.6 L536.9 486.0 M575.1 486.0 L575.9 483.6 L577.9 481.3 L580.2 481.8 L582.3 483.4 L584.6 483.2 L586.7 481.7 L588.5 479.8 L590.1 477.7 L592.4 477.7 L594.6 476.9 L596.9 476.6 L599.6 476.7 L602.4 476.7 L605.0 477.8 M645.5 360.0 L644.7 362.7 L644.3 365.3 L647.1 367.9 L648.7 370.0 L651.2 370.8 L652.7 374.6 L654.2 377.2 L656.4 379.2 L660.7 379.9 L663.0 381.1 L664.7 379.5 L665.8 377.5 L668.9 375.6 L672.6 374.0 L675.5 375.0 L677.2 376.8 L680.2 377.5 L681.2 382.1 L678.6 382.7 L676.9 384.6 L674.1 385.1 L671.4 384.5 L668.7 384.3 L665.9 384.5 L665.1 387.0 L666.5 389.0 L667.4 391.5 L666.5 393.8 L665.1 395.8 L663.1 398.1 L662.0 400.9 L663.1 403.5 L662.9 406.8 L665.4 407.6 L667.1 409.6 L671.3 410.6 L674.1 413.3 L675.6 415.2 L676.7 417.2 L675.8 421.2 L676.9 423.8 L679.6 424.6 L682.1 423.7 L685.0 422.6 L687.9 421.7 L690.5 420.5 L693.3 419.9 L695.9 421.3 L698.8 421.0 L701.5 421.7 L704.0 423.3 L708.5 423.8 L710.5 425.3 L712.4 427.4 L715.1 426.6 L717.5 427.5 L720.4 428.7 L723.6 430.0 L725.1 427.9 L727.1 426.6 L729.7 425.1 L731.8 423.1 L733.9 419.8 L737.2 417.0 L740.0 419.8 L742.6 422.3 L745.0 424.1 M698.7 421.4 L699.3 423.6 L699.6 425.9 L699.9 428.2 L700.2 430.6 L699.6 432.9 L699.1 435.4 L697.6 437.3 L696.3 439.5 L693.0 441.4 L690.6 443.2 L693.5 445.5 L695.9 447.1 L692.9 448.1 L690.4 449.7 L687.8 450.5 L685.2 451.5 L683.8 453.5 L682.5 455.3 L684.7 458.2 L683.4 462.1 L681.7 464.5 L679.1 466.3 L678.1 470.5 L677.3 473.2 L676.9 476.0 M719.2 360.0 L720.8 361.6 L722.2 363.5 L723.6 365.3 L724.1 368.5 L725.6 371.0 L726.2 373.8 L727.2 376.8 L729.2 378.1 L731.6 379.0 L733.3 381.4 L736.0 383.1 L736.7 387.2 L736.9 390.2 L735.1 393.3 L738.3 395.5 M735.6 394.1 L737.4 395.9 L739.5 396.5 L742.5 395.8 L745.0 394.1 M736.9 400.9 L739.5 401.8 L742.4 401.2 L745.0 402.3 M734.2 407.8 L736.9 408.5 L739.6 409.0 L742.4 407.9 L745.0 406.4 M723.3 441.9 L726.2 441.7 L728.6 440.7 L731.8 443.1 L732.8 445.3 L734.2 447.4 L736.6 445.3 L739.5 444.1 L742.3 443.1 L745.0 441.9 M595.0 435.1 L596.7 436.9 L598.0 438.9 L600.3 441.8 L598.5 444.3 L597.7 447.3 L595.0 450.1 M595.0 452.8 L596.2 454.8 L597.4 456.7 L598.9 458.4 L600.3 460.2 L602.4 461.5 L602.8 464.0 L604.9 465.2 L606.3 467.1 L607.3 469.2 L608.5 472.0 L610.0 474.6 M619.6 476.0 L620.8 473.9 L621.1 471.4 L622.6 469.8 L625.1 468.0 L627.4 466.7 L629.1 469.2 L633.0 468.6 L638.0 467.7 L637.6 470.6 L638.3 473.2 L638.7 476.0 M420.0 210.0 L421.1 207.9 L422.1 205.8 L423.1 203.6 L424.7 201.8 L427.0 205.0 L429.6 205.2 L432.0 203.7 L433.9 205.9 L436.8 206.9 L439.9 204.0 L442.0 202.6 L443.6 200.7 L445.8 198.8 L447.8 197.3 L449.6 200.3 L448.3 202.5 L451.2 204.0 L451.8 206.6 L451.2 209.2 L448.9 211.2 L447.4 213.5 L446.8 215.9 L446.3 218.2 L445.9 220.6 L444.2 223.3 L443.0 226.2 L442.2 229.5 L440.8 232.6 L438.4 234.0 L436.9 236.0 L436.0 238.9 L435.0 241.9 L436.7 244.3 L436.5 247.4 L437.6 250.0 M451.8 204.1 L453.8 201.9 L455.2 199.3 L456.1 197.2 L457.6 195.4 L460.0 195.3 L462.5 196.3 L464.8 195.4 L467.0 194.5 L469.8 193.6 L470.1 191.2 L470.1 188.6 L471.6 186.4 L472.9 184.1 L474.7 181.4 L475.5 178.3 L474.1 180.6 M738.4 239.8 L736.2 241.0 L733.7 241.4 L731.9 243.2 L729.5 243.9 L728.0 246.0 L725.7 246.9 L723.8 248.4 L720.7 248.6 L718.2 250.1 L715.7 251.6 L713.7 253.0 L711.5 253.8 L709.6 255.5 L707.3 256.2 L704.7 257.6 L702.6 259.6 L701.0 263.0 L699.2 264.5 L697.8 266.3 L695.5 267.3 L694.6 269.6 L692.3 270.6 L691.1 272.6 L689.8 274.9 L689.0 277.2 L688.0 279.5 L685.7 280.5 L683.8 282.8 L682.6 285.6 L681.7 288.0 L681.3 290.6 L679.8 293.3 L677.5 295.3 L675.8 297.7 L674.9 300.5 L674.2 303.0 L673.1 305.4 L671.1 307.7 L669.7 310.4 L665.9 312.3 L667.7 313.7 L669.2 315.5 L671.2 316.8 L672.8 318.7 L674.7 319.8 L677.2 319.4 L679.0 320.9 L681.2 321.2 L683.4 322.8 L686.1 322.9 L688.3 324.4 L690.9 324.9 M578.0 252.9 L577.1 255.2 L575.6 257.2 L574.5 259.4 L573.0 261.2 L571.8 263.3 L571.1 265.6 L569.6 267.4 L568.5 269.5 L566.9 271.3 L564.6 272.4 L563.3 274.4 L562.4 276.7 L561.6 279.1 L562.0 281.3 L562.4 283.5 L563.2 285.7 L565.0 287.1 L566.0 288.8 L566.1 291.1 L564.9 293.2 L564.5 295.6 L565.3 298.1 L566.5 300.4 M566.5 300.4 L568.9 299.7 L571.2 298.8 L573.4 297.7 L575.3 296.0 L577.4 294.7 L579.8 294.1 L582.4 292.7 L584.5 290.5 M560.0 324.9 L562.1 325.6 L564.5 325.3 L566.8 325.9 L568.7 327.6 L570.7 329.1 L572.8 330.2 L575.4 331.3 L577.4 333.1 L579.6 334.7 L581.9 334.7 L584.2 335.2 L586.2 336.4 L588.4 335.3 L590.8 334.7 L592.3 332.9 L594.2 331.1 L594.6 328.6 L596.0 326.5 L598.3 325.7 L600.1 323.9 L602.7 323.9 L604.9 323.4 L607.1 322.8 L609.6 321.1 L610.6 323.4 L612.2 325.1 L613.6 326.9 L615.8 327.8 L618.0 328.8 L619.8 330.8 L622.0 331.2 L624.1 329.9 L626.3 328.8 L628.7 328.4 L632.0 328.3 L635.4 328.5 L637.6 328.0 L639.5 326.4 L641.9 327.1 L644.1 326.5 L646.3 326.0 L648.6 325.2 L650.8 323.1 L653.1 321.4 L655.3 320.4 L656.5 318.3 L658.2 316.7 L660.0 315.3 L661.6 313.7 L664.0 312.9 L666.4 311.8 M592.7 333.1 L592.5 335.4 L592.7 337.7 L592.7 340.0 M205.0 696.7 L206.7 698.5 L209.0 699.5 L210.9 700.8 L212.8 702.4 L215.0 703.0 L217.2 703.6 L219.2 703.7 L221.0 701.6 L223.8 700.6 L225.7 698.7 L227.4 696.5 L229.6 695.4 L232.4 697.0 L234.0 699.5 L236.5 697.7 L238.6 695.1 L240.4 697.1 L242.4 698.6 L245.1 699.8 L246.5 702.3 L248.5 703.9 L249.7 701.8 L251.4 700.0 L253.0 698.2 L256.1 697.2 L258.6 695.6 L261.4 696.2 L262.9 697.6 L266.4 697.4 L269.0 695.4 L272.0 694.0 L274.6 692.3 L276.7 689.7 L277.7 686.6 L279.9 685.9 L281.9 684.8 L285.2 684.0 L287.7 681.9 L289.8 680.3 L292.2 679.4 L294.0 681.1 L296.3 681.9 L297.9 683.4 L299.7 681.8 L302.1 680.8 L304.1 679.6 L306.6 677.4 L309.7 676.4 L312.6 674.9 L316.0 677.9 L314.8 680.7 L314.4 683.5 L315.2 686.5 L315.3 690.2 L318.6 689.6 L321.5 690.7 L324.2 692.5 L327.2 693.7 L330.3 693.9 L332.9 695.8 L336.0 695.6 L338.9 696.8 L336.8 699.3 L335.3 702.2 L333.9 705.2 L333.1 708.4 L333.2 710.9 L333.5 713.3 L334.9 715.5 L334.6 718.7 L336.1 721.0 L338.3 722.7 L340.9 723.1 L343.3 724.0 L345.8 724.9 L347.8 726.9 L350.7 726.8 L353.1 729.3 L356.4 729.7 L358.5 730.3 L360.7 730.5 L362.7 731.9 L365.0 731.6 M350.5 748.9 L352.6 747.0 L355.6 746.5 L357.6 744.4 L360.4 744.3 L362.7 743.1 L365.0 741.8 M433.9 731.5 L435.8 730.0 L438.0 729.2 L440.0 727.5 L442.3 727.9 L444.7 727.3 L446.9 728.2 L448.9 729.1 L451.1 729.7 L453.5 730.5 L454.2 733.3 L456.8 734.4 L458.1 736.7" fill="none" stroke="#000" stroke-width="1" shape-rendering="crispEdges"/><path d="M745.0 528.8 L744.8 530.8 L745.2 533.2 L742.7 533.8 L741.0 535.5 L739.4 534.2 L738.4 534.1 L738.3 535.6 L735.2 536.3 L737.4 538.5 L736.7 539.8 L735.5 541.1 L735.8 543.3 L732.9 542.9 L734.0 546.5 L732.1 546.0 L731.9 547.7 L733.1 549.1 L730.4 551.3 L733.0 553.0 L731.6 554.0 L730.1 555.1 L727.1 556.5 L730.5 557.5 L727.7 559.7 L727.4 561.4 L730.9 563.4 L730.0 565.0 L726.4 563.9 L726.9 566.9 L726.3 567.0 L727.7 568.3 L725.7 570.9 L724.8 573.1 L725.6 573.1 L726.4 575.5 L726.4 577.3 L725.7 580.5 L728.1 580.6 L728.3 582.9 L730.3 582.1 L729.5 583.7 L728.7 585.4 L730.4 586.3 L730.8 588.0 L732.5 588.7 L729.8 592.6 L731.2 590.3 L730.6 593.0 L730.3 595.9 L728.8 597.0 L726.1 596.5 L724.5 596.5 L722.8 597.2 L721.1 597.4 L719.5 594.5 L717.7 595.2 L719.1 599.1 L717.0 599.5 L714.5 600.9 L713.4 599.0 L711.9 597.8 L710.4 597.7 L707.6 598.4 L709.3 600.9 L709.1 602.6 L707.8 602.5 L706.3 601.6 L704.7 601.0 L704.1 603.0 L703.5 604.5 L701.7 605.6 L698.7 606.2 L699.9 608.3 L699.4 610.3 L701.6 611.3 L699.4 614.5 L703.2 616.5 L700.7 615.6 L698.8 615.9 L696.1 616.8 L695.2 618.4 L696.4 621.1 L695.5 623.6 L692.2 621.1 L691.5 623.9 L690.5 626.0 L689.2 627.5 L686.0 625.3 L685.2 625.7 L683.4 627.0 L681.6 627.8 L679.4 626.5 L676.8 626.9 L677.3 629.6 L675.2 629.5 L673.3 629.9 L671.3 631.9 L671.7 634.2 L672.3 636.6 L669.1 637.0 L667.6 638.4 L666.2 639.8 L669.3 642.2 L669.7 643.7 L667.3 645.6 L666.6 647.3 L670.7 648.1 L668.3 649.6 L668.8 652.0 L664.8 650.9 L666.5 654.2 L666.3 656.7 L662.9 654.8 L663.1 657.7 L661.5 658.2 L661.1 660.3 L659.3 660.4 L658.6 662.2 L657.0 662.6 L654.7 662.2 L654.5 664.5 L651.9 664.4 L649.8 664.8 L649.7 667.2 L650.4 670.4 L645.9 668.0 L647.3 672.0 L645.0 672.0 M750.2 531.4 L747.1 531.2 L748.8 528.5Z M747.5 538.3 L744.4 538.8 L743.4 534.5 L747.7 533.5Z M739.9 546.7 L738.4 546.6 L738.7 544.9 L740.8 545.2Z M736.8 545.3 L731.7 547.7 L730.9 543.7 L733.9 542.4Z M733.8 552.0 L730.8 553.1 L731.4 548.4Z M734.1 555.1 L728.9 555.3 L730.3 550.8Z M738.6 566.3 L735.9 567.2 L735.0 565.1 L737.0 564.1Z M735.3 576.0 L733.5 577.7 L730.8 576.5 L732.3 573.9 L734.9 573.5Z M733.6 588.0 L728.4 585.6 L733.0 582.8Z M720.8 599.0 L719.1 600.4 L716.6 598.7 L717.9 595.8 L720.9 596.7Z M716.7 600.2 L713.8 599.8 L715.4 597.6Z M712.1 598.6 L709.6 598.0 L711.2 596.1Z M712.2 606.1 L710.2 606.9 L708.4 606.0 L709.5 603.8 L711.5 604.2Z M710.7 603.0 L707.3 603.3 L708.4 601.1Z M707.1 611.0 L704.9 611.9 L703.7 609.9 L704.8 607.7 L708.1 608.6Z M708.0 618.7 L705.6 620.2 L703.2 618.6 L705.8 617.1Z M695.3 627.5 L692.7 628.5 L692.3 626.0Z M689.3 631.0 L684.5 631.1 L687.4 626.6Z M679.1 629.7 L676.1 632.4 L675.6 628.0Z M677.3 637.4 L675.0 637.7 L676.0 635.1Z M675.1 652.1 L673.2 652.4 L673.2 650.2 L675.3 650.6Z M672.1 658.2 L669.8 659.0 L670.8 656.2Z M667.3 663.8 L664.9 664.5 L663.3 662.4 L666.5 660.4Z M650.6 670.3 L646.6 670.8 L648.1 667.0Z M769.3 449.3 L771.1 448.4 L773.6 449.4 L775.5 449.1 L776.0 444.6 L778.1 445.9 L779.0 447.5 L782.1 446.8 L781.9 449.2 L781.5 451.5 L779.7 451.7 L778.5 452.8 L775.4 451.7 L776.3 455.1 L774.0 455.2 L773.1 456.2 L770.7 456.4 L767.7 453.1 L768.7 456.6 L767.5 457.8 L764.9 457.7 L764.4 459.6 L762.4 460.0 L762.8 463.6 L761.0 464.6 L757.9 465.1 L760.3 463.9 L761.4 466.9 L764.4 464.5 L766.2 465.4 L766.2 466.2 L766.8 469.2 L766.5 471.4 L764.5 472.5 L761.4 470.8 L760.6 471.8 L761.9 473.9 L763.2 475.9 L765.3 475.3 L766.9 476.9 L768.2 474.4 L767.9 478.5 L763.9 479.4 L766.3 480.4 L768.6 483.2 L767.6 484.7 L765.7 485.1 L765.5 484.9 L763.4 488.2 L765.4 489.6 L768.5 488.9 L766.7 493.2 L768.8 492.8 L769.0 494.9 L769.9 497.2 L767.5 498.7 L765.7 496.3 L763.8 498.1 L762.1 498.6 L760.4 499.3 L759.3 500.8 L757.7 501.9 L758.8 504.7 L758.3 505.4 L759.4 507.0 L756.0 508.4 L758.6 512.2 L756.6 512.6 L754.3 512.9 L753.8 514.9 L751.4 515.2 L752.7 519.0 L751.9 520.6 L750.8 521.2 L748.3 522.2 L748.4 524.3 L747.0 525.9 L745.3 527.4 L746.4 529.9 L744.1 530.5 L746.4 533.4 L743.3 533.5 L742.8 535.0 M787.8 447.7 L784.8 447.9 L785.8 444.5Z M784.8 451.0 L782.5 452.1 L782.6 449.4 L784.3 449.4Z M778.3 455.8 L776.5 455.3 L777.6 453.4Z M775.6 459.3 L772.8 459.8 L772.5 457.3 L774.9 456.0Z M774.7 457.9 L771.6 459.7 L771.4 456.0Z M772.1 463.9 L768.0 463.9 L766.9 461.8 L768.2 458.6 L771.7 460.0Z M767.3 464.8 L763.0 467.0 L761.6 463.5 L765.0 461.0Z M763.1 469.9 L759.4 468.8 L762.2 466.5Z M769.2 465.7 L767.7 466.7 L766.6 466.0 L766.8 464.3 L768.1 464.2Z M767.3 474.5 L764.8 475.6 L764.8 473.6Z M771.9 480.1 L770.5 481.1 L769.2 479.8 L770.2 478.7 L771.5 478.9Z M775.3 483.2 L773.9 484.7 L773.0 482.7 L774.5 481.1Z M771.4 487.5 L767.1 487.5 L767.7 484.8 L771.1 484.7Z M770.8 497.4 L768.5 497.3 L769.3 495.6 L771.4 496.0Z M775.0 497.2 L771.2 498.5 L769.0 495.7 L771.1 493.2 L774.6 494.3Z M763.4 500.5 L760.7 501.8 L759.7 498.9 L761.8 497.1Z M765.8 504.3 L762.0 506.5 L761.5 502.4 L764.0 501.8Z M763.7 515.9 L758.7 515.3 L762.4 511.1Z M762.5 514.9 L759.6 516.6 L757.4 514.2 L760.4 512.8Z M753.1 524.0 L749.9 526.8 L748.7 523.4 L748.8 520.0 L752.9 521.6Z M748.9 531.2 L746.4 533.1 L745.7 529.2 L748.3 527.5Z M365.0 741.0 L365.8 738.0 L367.7 738.0 L369.7 738.4 L371.1 737.1 L372.6 735.9 L375.9 739.4 L377.8 738.6 L378.9 737.3 L379.1 734.2 L381.8 736.3 L383.2 735.5 L383.3 732.5 L384.0 730.8 L385.3 730.0 L387.4 730.3 L390.4 730.8 L388.0 727.3 L390.4 727.0 L391.0 725.5 L393.1 726.5 L393.6 722.3 L396.2 724.2 L398.0 722.1 L398.6 724.3 L399.6 725.8 L401.0 726.5 L402.3 727.3 L405.1 725.5 L406.4 726.3 L408.2 726.5 L409.1 727.9 L410.8 728.2 L410.2 731.9 L413.6 729.6 L414.5 731.1 L415.3 734.8 L417.0 734.2 L419.0 734.8 L419.9 731.4 L420.1 729.8 L424.2 731.4 L423.6 728.2 L426.7 728.7 L428.1 724.2 L429.8 725.1 L430.0 728.5 L430.9 729.9 L432.5 730.6 L433.7 731.6 L434.0 733.4 L436.9 734.4 L437.8 737.2 L435.9 738.6 L434.5 740.1 L435.6 742.2 L435.5 744.0 L433.7 745.4 L433.5 747.2 L433.8 749.1 L432.2 750.5 M380.5 738.8 L378.6 740.6 L378.7 736.6Z M389.2 736.8 L387.7 737.7 L387.2 735.6 L389.0 735.1Z M396.5 732.3 L393.4 733.9 L392.4 731.1 L394.6 728.7Z M393.9 726.1 L392.7 727.5 L390.4 726.3 L391.5 724.0 L393.0 724.8Z M397.1 722.9 L393.5 722.8 L395.8 719.6Z M400.7 730.3 L397.2 728.7 L397.4 725.2 L400.3 724.3Z M414.7 728.6 L410.5 727.8 L413.1 725.0Z M422.2 733.3 L418.9 735.9 L417.1 732.9 L419.2 731.2Z M439.4 731.7 L435.8 733.2 L434.1 730.3 L436.8 728.3Z M442.0 740.8 L440.7 741.2 L440.1 739.8 L440.8 738.8 L442.2 739.0Z M434.1 755.1 L430.0 753.7 L433.7 751.1Z M454.6 750.5 L455.5 748.9 L457.8 747.6 L455.4 745.2 L455.8 743.4 L457.5 742.0 L456.8 740.0 L458.7 738.7 L458.1 736.9 L460.2 737.9 L462.1 737.6 L463.4 735.7 L465.7 736.8 L466.9 735.6 L468.6 735.7 L469.9 731.2 L471.6 731.0 L473.7 734.0 L475.2 732.1 L477.5 734.5 L478.7 731.7 L480.8 733.1 L481.8 730.3 L484.0 731.6 L485.9 732.3 L487.3 731.6 L487.8 728.6 L489.4 728.6 L491.0 728.3 L491.9 726.7 L493.6 726.6 L496.1 728.2 L497.3 727.1 L497.6 723.7 L499.8 725.1 L501.8 726.0 L502.8 722.6 L505.5 724.5 L506.8 723.6 L508.4 723.3 L507.9 718.9 L511.2 722.1 L512.7 721.6 L512.4 717.5 L514.7 718.7 L514.8 715.4 L517.4 717.2 L518.2 717.1 L519.9 717.7 L521.5 718.7 L523.9 716.2 L526.3 715.9 L526.0 719.9 L529.3 716.9 L530.2 718.6 L531.5 719.3 L533.5 722.0 L532.9 719.7 L535.5 719.6 L535.6 717.8 L536.9 717.4 L538.1 716.1 L539.7 715.5 L539.2 712.0 L540.9 711.2 L542.8 711.5 L544.5 710.9 L546.4 711.5 L548.2 711.4 L549.4 708.4 L549.8 707.8 L553.5 708.6 L554.5 707.0 L553.9 704.7 L553.2 702.8 L553.4 701.1 L554.9 700.2 L554.8 698.7 L554.2 697.2 L553.2 695.9 L553.5 694.3 L555.0 691.7 L556.5 690.4 L558.0 691.0 L559.5 692.2 L561.0 694.3 L560.8 693.4 L563.8 693.9 L565.9 695.0 L566.2 697.5 L564.1 699.0 L565.5 700.5 L564.6 702.0 L563.8 703.5 L564.8 705.8 L566.2 707.2 L568.9 703.7 L570.3 705.2 L572.3 704.3 L573.3 707.2 L575.1 708.1 L576.4 705.8 L577.8 704.4 L580.0 706.1 L581.2 704.2 L582.9 703.9 L584.4 705.0 L587.3 703.5 L584.3 702.0 L586.1 700.5 L584.3 699.0 L584.8 697.9 L582.5 698.3 L580.9 697.3 L580.4 696.3 L581.4 694.2 L582.6 692.9 L585.3 695.9 L586.6 694.9 L586.8 691.5 L588.6 691.4 L590.2 691.1 L590.3 688.6 L592.3 688.9 L593.1 687.4 L595.4 689.1 L596.2 685.0 L599.0 689.1 L599.7 684.9 L601.5 685.0 L602.8 683.3 L605.3 687.1 L606.8 686.4 L607.6 682.3 L609.5 684.4 L610.9 683.5 L612.6 684.3 L613.9 682.7 L615.9 685.6 L616.7 681.6 L618.8 684.4 L619.5 681.4 L621.8 682.5 L622.7 680.7 L624.3 680.5 L625.8 679.7 L627.4 679.5 L627.6 676.2 L629.4 675.3 L632.3 679.5 L633.0 675.4 L634.8 675.5 L636.3 674.5 L638.5 676.2 L641.8 676.8 L640.9 673.4 L641.8 671.8 L643.2 670.7 L645.0 670.0 M457.1 749.0 L455.1 751.1 L453.9 748.6 L455.6 747.3Z M464.9 745.1 L462.1 748.2 L458.4 745.0 L460.0 742.7 L463.4 742.8Z M478.5 731.3 L474.2 731.5 L476.2 728.5Z M494.6 732.3 L491.2 735.6 L487.8 733.1 L489.1 729.8 L492.0 729.0Z M507.5 727.0 L503.6 727.7 L504.7 722.5Z M520.6 723.6 L514.9 724.5 L517.0 718.2Z M544.2 721.2 L541.4 722.8 L540.6 717.7 L543.8 718.4Z M546.8 715.3 L544.7 714.8 L545.3 711.7 L547.2 712.7Z M560.6 710.4 L558.5 711.3 L557.7 709.0 L558.9 707.2 L561.2 708.6Z M558.0 698.3 L553.1 699.4 L554.1 695.7Z M558.3 692.8 L555.2 692.8 L553.9 689.7 L557.9 689.8Z M576.7 702.8 L573.3 704.9 L570.7 701.5 L574.6 700.5Z M589.1 703.2 L583.2 704.7 L584.1 700.1Z M586.1 701.0 L580.9 699.9 L583.9 697.4Z M592.2 699.2 L588.9 702.3 L586.4 697.8 L590.4 695.0Z M601.6 687.0 L599.0 688.9 L595.4 687.8 L597.0 684.4 L600.2 683.4Z M603.1 689.0 L599.2 690.1 L599.7 685.4 L602.1 683.8 L605.7 685.8Z M612.7 689.6 L608.8 689.4 L610.3 686.4Z M623.7 683.4 L620.3 683.0 L622.2 679.5Z M630.1 683.8 L627.8 684.3 L626.7 681.7 L628.2 679.0 L631.7 680.8Z M646.1 679.7 L644.2 680.7 L643.2 678.7 L645.3 677.3Z M766.2 451.7 L762.7 451.9 L764.3 449.3Z M767.4 453.2 L763.6 453.7 L762.1 450.0 L767.4 449.3Z M780.4 463.4 L777.3 461.8 L780.1 459.4Z M784.1 450.6 L781.8 450.4 L780.7 447.6 L782.6 445.3 L785.6 447.6Z M783.9 436.8 L782.0 437.1 L782.6 434.8Z M779.4 453.6 L775.6 453.8 L775.5 450.8 L778.2 449.0 L780.8 451.4Z M778.3 446.8 L775.3 446.5 L777.5 444.8Z M771.8 434.6 L768.8 435.4 L769.1 432.9Z M780.5 460.2 L774.3 460.6 L777.0 454.8Z M776.7 456.4 L774.0 457.6 L773.7 453.7 L775.2 452.6 L777.8 453.1Z M766.9 457.8 L764.6 458.9 L765.3 456.7Z M783.5 443.0 L782.7 445.0 L780.8 443.4 L780.9 441.9 L782.8 441.7Z M774.2 442.4 L771.9 442.4 L770.7 439.8 L772.8 439.0 L774.6 440.0Z M785.1 447.9 L780.1 447.2 L783.7 443.5Z M784.8 458.0 L781.6 458.5 L779.2 456.6 L782.4 452.9 L784.6 455.2Z M766.0 462.0 L764.6 461.6 L765.8 460.2Z M785.7 452.1 L784.1 453.8 L780.8 452.6 L782.3 449.9 L785.2 448.3Z M787.5 443.4 L785.5 444.4 L783.8 443.3 L785.8 441.9Z M782.6 435.8 L779.6 436.1 L780.7 433.3Z M781.4 453.1 L777.3 453.9 L775.1 448.9 L779.9 447.5Z M768.5 441.9 L763.1 440.7 L766.4 435.7Z M783.3 435.9 L781.8 438.0 L780.1 436.1 L780.3 433.5 L783.0 433.7Z" fill="none" stroke="#000" stroke-width="1" shape-rendering="crispEdges"/><path d="M183.5 50L117.4 750 M253.0 50L215.1 750 M323.0 50L313.5 750 M392.7 50L411.5 750 M461.6 50L508.4 750 M531.3 50L606.3 750 M600.3 50L703.4 750 M669.9 50L801.2 750 M739.3 50L898.7 750 M808.6 50L996.2 750 M878.0 50L1093.7 750 M947.4 50L1191.2 750 M1016.7 50L1288.7 750" fill="none" stroke="#000" stroke-width="1" stroke-dasharray="1.5 7.4" shape-rendering="crispEdges"/><path d="M200 -25.7 L215 -24.4 L230 -23.3 L245 -22.3 L260 -21.5 L275 -20.8 L290 -20.2 L305 -19.7 L320 -19.4 L335 -19.3 L350 -19.2 L365 -19.3 L380 -19.6 L395 -19.9 L410 -20.5 L425 -21.1 L440 -21.9 L455 -22.8 L470 -23.9 L485 -25.0 L500 -26.4 L515 -27.8 L530 -29.5 L545 -31.2 L560 -33.1 L575 -35.1 L590 -37.3 L605 -39.6 L620 -42.0 L635 -44.6 L650 -47.3 L665 -50.2 L680 -53.2 L695 -56.4 L710 -59.7 L725 -63.1 L740 -66.7 L755 -70.4 L770 -74.3 L785 -78.4 L800 -82.6 L815 -86.9 L830 -91.4 L845 -96.1 L860 -100.9 L875 -105.9 L890 -111.0 M200 63.6 L215 64.8 L230 65.9 L245 66.8 L260 67.6 L275 68.3 L290 68.9 L305 69.3 L320 69.6 L335 69.7 L350 69.8 L365 69.7 L380 69.4 L395 69.1 L410 68.6 L425 68.0 L440 67.3 L455 66.4 L470 65.4 L485 64.2 L500 63.0 L515 61.6 L530 60.1 L545 58.4 L560 56.6 L575 54.7 L590 52.7 L605 50.5 L620 48.2 L635 45.7 L650 43.1 L665 40.4 L680 37.6 L695 34.6 L710 31.5 L725 28.2 L740 24.8 L755 21.2 L770 17.6 L785 13.7 L800 9.8 L815 5.7 L830 1.4 L845 -3.0 L860 -7.5 L875 -12.2 L890 -17.1 M200 153.1 L215 154.2 L230 155.2 L245 156.1 L260 156.9 L275 157.5 L290 158.0 L305 158.4 L320 158.7 L335 158.9 L350 158.9 L365 158.8 L380 158.6 L395 158.2 L410 157.8 L425 157.2 L440 156.5 L455 155.7 L470 154.7 L485 153.6 L500 152.4 L515 151.1 L530 149.7 L545 148.1 L560 146.4 L575 144.6 L590 142.6 L605 140.6 L620 138.4 L635 136.0 L650 133.6 L665 131.0 L680 128.3 L695 125.5 L710 122.5 L725 119.4 L740 116.2 L755 112.8 L770 109.3 L785 105.7 L800 101.9 L815 98.0 L830 94.0 L845 89.8 L860 85.5 L875 81.1 L890 76.5 M200 242.1 L215 243.2 L230 244.1 L245 245.0 L260 245.7 L275 246.3 L290 246.8 L305 247.2 L320 247.5 L335 247.6 L350 247.6 L365 247.6 L380 247.4 L395 247.0 L410 246.6 L425 246.0 L440 245.4 L455 244.6 L470 243.7 L485 242.6 L500 241.5 L515 240.2 L530 238.9 L545 237.4 L560 235.7 L575 234.0 L590 232.1 L605 230.2 L620 228.1 L635 225.9 L650 223.5 L665 221.1 L680 218.5 L695 215.8 L710 212.9 L725 210.0 L740 206.9 L755 203.7 L770 200.4 L785 196.9 L800 193.4 L815 189.7 L830 185.8 L845 181.9 L860 177.8 L875 173.6 L890 169.2 M200 330.8 L215 331.8 L230 332.8 L245 333.6 L260 334.3 L275 334.9 L290 335.3 L305 335.7 L320 336.0 L335 336.1 L350 336.1 L365 336.0 L380 335.8 L395 335.5 L410 335.1 L425 334.6 L440 333.9 L455 333.2 L470 332.3 L485 331.3 L500 330.2 L515 329.0 L530 327.7 L545 326.3 L560 324.7 L575 323.1 L590 321.3 L605 319.4 L620 317.4 L635 315.3 L650 313.1 L665 310.7 L680 308.3 L695 305.7 L710 303.0 L725 300.2 L740 297.2 L755 294.2 L770 291.0 L785 287.7 L800 284.3 L815 280.8 L830 277.1 L845 273.3 L860 269.4 L875 265.4 L890 261.3 M200 419.9 L215 420.9 L230 421.8 L245 422.6 L260 423.3 L275 423.8 L290 424.3 L305 424.6 L320 424.9 L335 425.0 L350 425.0 L365 424.9 L380 424.8 L395 424.5 L410 424.1 L425 423.5 L440 422.9 L455 422.2 L470 421.4 L485 420.4 L500 419.4 L515 418.2 L530 417.0 L545 415.6 L560 414.1 L575 412.5 L590 410.8 L605 409.0 L620 407.1 L635 405.1 L650 403.0 L665 400.7 L680 398.3 L695 395.9 L710 393.3 L725 390.6 L740 387.8 L755 384.9 L770 381.8 L785 378.7 L800 375.4 L815 372.1 L830 368.6 L845 365.0 L860 361.2 L875 357.4 L890 353.4 M200 508.7 L215 509.7 L230 510.5 L245 511.3 L260 511.9 L275 512.5 L290 512.9 L305 513.2 L320 513.5 L335 513.6 L350 513.6 L365 513.6 L380 513.4 L395 513.1 L410 512.7 L425 512.2 L440 511.6 L455 510.9 L470 510.1 L485 509.2 L500 508.2 L515 507.1 L530 505.9 L545 504.6 L560 503.2 L575 501.7 L590 500.0 L605 498.3 L620 496.5 L635 494.5 L650 492.5 L665 490.3 L680 488.1 L695 485.7 L710 483.2 L725 480.6 L740 477.9 L755 475.1 L770 472.2 L785 469.2 L800 466.1 L815 462.9 L830 459.5 L845 456.1 L860 452.5 L875 448.8 L890 445.0 M200 598.4 L215 599.3 L230 600.1 L245 600.8 L260 601.4 L275 601.9 L290 602.4 L305 602.7 L320 602.9 L335 603.0 L350 603.1 L365 603.0 L380 602.8 L395 602.5 L410 602.2 L425 601.7 L440 601.1 L455 600.5 L470 599.7 L485 598.8 L500 597.9 L515 596.8 L530 595.6 L545 594.4 L560 593.0 L575 591.6 L590 590.0 L605 588.3 L620 586.6 L635 584.7 L650 582.7 L665 580.7 L680 578.5 L695 576.2 L710 573.8 L725 571.4 L740 568.8 L755 566.1 L770 563.3 L785 560.4 L800 557.4 L815 554.3 L830 551.1 L845 547.8 L860 544.4 L875 540.9 L890 537.2 M200 687.6 L215 688.5 L230 689.2 L245 689.9 L260 690.5 L275 691.0 L290 691.4 L305 691.7 L320 692.0 L335 692.1 L350 692.1 L365 692.0 L380 691.9 L395 691.6 L410 691.2 L425 690.8 L440 690.2 L455 689.6 L470 688.9 L485 688.0 L500 687.1 L515 686.1 L530 685.0 L545 683.7 L560 682.4 L575 681.0 L590 679.5 L605 677.9 L620 676.2 L635 674.4 L650 672.5 L665 670.6 L680 668.5 L695 666.3 L710 664.0 L725 661.6 L740 659.1 L755 656.6 L770 653.9 L785 651.1 L800 648.2 L815 645.2 L830 642.2 L845 639.0 L860 635.7 L875 632.3 L890 628.8 M200 776.9 L215 777.7 L230 778.5 L245 779.2 L260 779.7 L275 780.2 L290 780.6 L305 780.9 L320 781.1 L335 781.2 L350 781.2 L365 781.2 L380 781.0 L395 780.8 L410 780.4 L425 780.0 L440 779.5 L455 778.8 L470 778.1 L485 777.3 L500 776.4 L515 775.5 L530 774.4 L545 773.2 L560 771.9 L575 770.6 L590 769.1 L605 767.6 L620 766.0 L635 764.2 L650 762.4 L665 760.5 L680 758.5 L695 756.4 L710 754.2 L725 751.9 L740 749.5 L755 747.0 L770 744.4 L785 741.8 L800 739.0 L815 736.1 L830 733.2 L845 730.1 L860 726.9 L875 723.7 L890 720.3" fill="none" stroke="#000" stroke-width="1" stroke-dasharray="3.2 4.6" shape-rendering="crispEdges"/><circle cx="459.2" cy="159.5" r="4.8" fill="none" stroke="#8200e6" stroke-width="2.2"/><circle cx="327.0" cy="232.0" r="4.8" fill="none" stroke="#8200e6" stroke-width="2.2"/><circle cx="734.2" cy="95.0" r="4.8" fill="none" stroke="#8200e6" stroke-width="2.2"/><circle cx="577.5" cy="175.8" r="4.8" fill="none" stroke="#8200e6" stroke-width="2.2"/><circle cx="600.0" cy="196.8" r="4.8" fill="none" stroke="#8200e6" stroke-width="2.2"/><circle cx="537.0" cy="236.2" r="4.8" fill="none" stroke="#8200e6" stroke-width="2.2"/><circle cx="487.0" cy="245.0" r="4.8" fill="none" stroke="#8200e6" stroke-width="2.2"/><circle cx="259.0" cy="303.2" r="4.8" fill="none" stroke="#8200e6" stroke-width="2.2"/><circle cx="397.5" cy="356.0" r="4.8" fill="none" stroke="#8200e6" stroke-width="2.2"/><circle cx="261.2" cy="462.0" r="4.8" fill="none" stroke="#8200e6" stroke-width="2.2"/><circle cx="523.2" cy="334.6" r="4.8" fill="none" stroke="#8200e6" stroke-width="2.2"/><circle cx="331.8" cy="496.8" r="4.8" fill="none" stroke="#8200e6" stroke-width="2.2"/><circle cx="336.5" cy="584.5" r="4.8" fill="none" stroke="#8200e6" stroke-width="2.2"/><circle cx="213.8" cy="627.0" r="4.8" fill="none" stroke="#8200e6" stroke-width="2.2"/><circle cx="553.8" cy="460.0" r="4.8" fill="none" stroke="#8200e6" stroke-width="2.2"/><circle cx="522.0" cy="530.0" r="4.8" fill="none" stroke="#8200e6" stroke-width="2.2"/><circle cx="604.2" cy="508.8" r="4.8" fill="none" stroke="#8200e6" stroke-width="2.2"/><circle cx="714.5" cy="573.0" r="4.8" fill="none" stroke="#8200e6" stroke-width="2.2"/><circle cx="748.3" cy="411.9" r="4.8" fill="none" stroke="#8200e6" stroke-width="2.2"/><circle cx="718.8" cy="446.0" r="4.8" fill="none" stroke="#8200e6" stroke-width="2.2"/><circle cx="387.5" cy="694.5" r="4.8" fill="none" stroke="#8200e6" stroke-width="2.2"/><circle cx="541.8" cy="678.2" r="4.8" fill="none" stroke="#8200e6" stroke-width="2.2"/><circle cx="630.8" cy="410.5" r="4.8" fill="none" stroke="#8200e6" stroke-width="2.2"/><circle cx="671.7" cy="399.6" r="4.8" fill="none" stroke="#8200e6" stroke-width="2.2"/><circle cx="605.0" cy="270.6" r="4.8" fill="none" stroke="#8200e6" stroke-width="2.2"/></g>
<rect x="207" y="50" width="686" height="700" fill="none" stroke="#000" stroke-width="2"/>
<path d="M197 64.2H207 M215.1 750V761 M197 153.6H207 M313.5 750V761 M197 242.6H207 M411.5 750V761 M197 331.3H207 M508.4 750V761 M197 420.4H207 M606.3 750V761 M197 509.2H207 M703.4 750V761 M197 598.8H207 M801.2 750V761 M197 688.0H207 M892.4 750V761" stroke="#000" stroke-width="1.3"/>
<text transform="translate(170.90,33.60) scale(1.1986,1)" font-size="22.9" fill="#000" font-family='"Liberation Serif", "Noto Serif CJK SC", serif' stroke="#fff" stroke-width="0.4">2025</text>
<text transform="translate(228.04,33.40) scale(1.0219,1)" font-size="23.4" fill="#000" font-family='"Liberation Serif", "Noto Serif CJK SC", serif' font-weight="300">年</text>
<text transform="translate(251.94,33.60) scale(1.0942,1)" font-size="22.9" fill="#000" font-family='"Liberation Serif", "Noto Serif CJK SC", serif' stroke="#fff" stroke-width="0.4">10</text>
<text transform="translate(279.86,33.40) scale(0.9713,1)" font-size="23.4" fill="#000" font-family='"Liberation Serif", "Noto Serif CJK SC", serif' font-weight="300">月</text>
<text transform="translate(304.63,33.60) scale(1.2939,1)" font-size="22.9" fill="#000" font-family='"Liberation Serif", "Noto Serif CJK SC", serif' stroke="#fff" stroke-width="0.4">11</text>
<text transform="translate(333.36,33.40) scale(0.9482,1)" font-size="23.4" fill="#000" font-family='"Liberation Serif", "Noto Serif CJK SC", serif' font-weight="300">日</text>
<text transform="translate(358.50,33.60) scale(1.1531,1)" font-size="22.9" fill="#000" font-family='"Liberation Serif", "Noto Serif CJK SC", serif' stroke="#fff" stroke-width="0.4">WRF/cmaq</text>
<text transform="translate(482.65,33.40) scale(0.9312,1)" font-size="23.4" fill="#000" font-family='"Liberation Serif", "Noto Serif CJK SC", serif' font-weight="300">模</text>
<text transform="translate(504.85,33.40) scale(0.9862,1)" font-size="23.4" fill="#000" font-family='"Liberation Serif", "Noto Serif CJK SC", serif' font-weight="300">式</text>
<text transform="translate(529.82,33.60) scale(1.2517,1)" font-size="22.9" fill="#000" font-family='"Liberation Serif", "Noto Serif CJK SC", serif' stroke="#fff" stroke-width="0.4">12km</text>
<text transform="translate(598.26,33.40) scale(0.7897,1)" font-size="23.4" fill="#000" font-family='"Liberation Serif", "Noto Serif CJK SC", serif' font-weight="300">预</text>
<text transform="translate(619.00,33.40) scale(0.8547,1)" font-size="23.4" fill="#000" font-family='"Liberation Serif", "Noto Serif CJK SC", serif' font-weight="300">报</text>
<text transform="translate(641.60,33.40) scale(1.0637,1)" font-size="23.4" fill="#000" font-family='"Liberation Serif", "Noto Serif CJK SC", serif' font-weight="300">产</text>
<text transform="translate(668.07,33.40) scale(0.9143,1)" font-size="23.4" fill="#000" font-family='"Liberation Serif", "Noto Serif CJK SC", serif' font-weight="300">品</text>
<text transform="translate(691.04,33.60) scale(1.0000,1)" font-size="22.9" fill="#000" font-family='"Liberation Serif", "Noto Serif CJK SC", serif' stroke="#fff" stroke-width="0.4">:</text>
<text transform="translate(700.62,33.60) scale(1.1544,1)" font-size="22.9" fill="#000" font-family='"Liberation Serif", "Noto Serif CJK SC", serif' stroke="#fff" stroke-width="0.4">10</text>
<text transform="translate(730.36,33.40) scale(0.9713,1)" font-size="23.4" fill="#000" font-family='"Liberation Serif", "Noto Serif CJK SC", serif' font-weight="300">月</text>
<text transform="translate(753.83,33.60) scale(1.2939,1)" font-size="22.9" fill="#000" font-family='"Liberation Serif", "Noto Serif CJK SC", serif' stroke="#fff" stroke-width="0.4">11</text>
<text transform="translate(783.94,33.40) scale(0.8681,1)" font-size="23.4" fill="#000" font-family='"Liberation Serif", "Noto Serif CJK SC", serif' font-weight="300">日</text>
<text transform="translate(805.51,33.60) scale(1.2958,1)" font-size="22.9" fill="#000" font-family='"Liberation Serif", "Noto Serif CJK SC", serif' stroke="#fff" stroke-width="0.4">03</text>
<text transform="translate(834.20,33.40) scale(0.9603,1)" font-size="23.4" fill="#000" font-family='"Liberation Serif", "Noto Serif CJK SC", serif' font-weight="300">时</text>
<text transform="translate(870.75,33.60) scale(1.0860,1)" font-size="22.9" fill="#fa3c3c" font-family='"Liberation Serif", "Noto Serif CJK SC", serif'>VIS</text>
<text transform="translate(146.48,71.50) scale(1.1193,1)" font-size="18.9" fill="#fa3c3c" font-family='"Liberation Serif", "Noto Serif CJK SC", serif'>44°N</text>
<text transform="translate(146.48,160.90) scale(1.1193,1)" font-size="18.9" fill="#fa3c3c" font-family='"Liberation Serif", "Noto Serif CJK SC", serif'>41°N</text>
<text transform="translate(145.83,249.90) scale(1.1356,1)" font-size="18.9" fill="#fa3c3c" font-family='"Liberation Serif", "Noto Serif CJK SC", serif'>38°N</text>
<text transform="translate(145.83,338.60) scale(1.1356,1)" font-size="18.9" fill="#fa3c3c" font-family='"Liberation Serif", "Noto Serif CJK SC", serif'>35°N</text>
<text transform="translate(145.83,427.70) scale(1.1356,1)" font-size="18.9" fill="#fa3c3c" font-family='"Liberation Serif", "Noto Serif CJK SC", serif'>32°N</text>
<text transform="translate(146.05,516.50) scale(1.1301,1)" font-size="18.9" fill="#fa3c3c" font-family='"Liberation Serif", "Noto Serif CJK SC", serif'>29°N</text>
<text transform="translate(146.05,606.10) scale(1.1301,1)" font-size="18.9" fill="#fa3c3c" font-family='"Liberation Serif", "Noto Serif CJK SC", serif'>26°N</text>
<text transform="translate(146.05,695.30) scale(1.1301,1)" font-size="18.9" fill="#fa3c3c" font-family='"Liberation Serif", "Noto Serif CJK SC", serif'>23°N</text>
<text transform="translate(195.96,782.90) scale(1.1582,1)" font-size="19.6" fill="#fa3c3c" font-family='"Liberation Serif", "Noto Serif CJK SC", serif'>103°E</text>
<text transform="translate(294.36,782.90) scale(1.1582,1)" font-size="19.6" fill="#fa3c3c" font-family='"Liberation Serif", "Noto Serif CJK SC", serif'>106°E</text>
<text transform="translate(392.36,782.90) scale(1.1582,1)" font-size="19.6" fill="#fa3c3c" font-family='"Liberation Serif", "Noto Serif CJK SC", serif'>109°E</text>
<text transform="translate(489.22,782.90) scale(1.1781,1)" font-size="19.6" fill="#fa3c3c" font-family='"Liberation Serif", "Noto Serif CJK SC", serif'>112°E</text>
<text transform="translate(587.12,782.90) scale(1.1781,1)" font-size="19.6" fill="#fa3c3c" font-family='"Liberation Serif", "Noto Serif CJK SC", serif'>115°E</text>
<text transform="translate(684.22,782.90) scale(1.1781,1)" font-size="19.6" fill="#fa3c3c" font-family='"Liberation Serif", "Noto Serif CJK SC", serif'>118°E</text>
<text transform="translate(782.06,782.90) scale(1.1582,1)" font-size="19.6" fill="#fa3c3c" font-family='"Liberation Serif", "Noto Serif CJK SC", serif'>121°E</text>
<text transform="translate(873.26,782.90) scale(1.1582,1)" font-size="19.6" fill="#fa3c3c" font-family='"Liberation Serif", "Noto Serif CJK SC", serif'>124°E</text>
<text transform="translate(1001.96,185.56) scale(1.2164,1)" font-size="22.3" fill="#000" font-family='"Liberation Serif", "Noto Serif CJK SC", serif'>10</text>
<text transform="translate(1003.31,235.22) scale(1.2172,1)" font-size="22.3" fill="#000" font-family='"Liberation Serif", "Noto Serif CJK SC", serif'>8</text>
<text transform="translate(1003.34,284.88) scale(1.1889,1)" font-size="22.3" fill="#000" font-family='"Liberation Serif", "Noto Serif CJK SC", serif'>6</text>
<text transform="translate(1003.91,334.53) scale(1.0877,1)" font-size="22.3" fill="#000" font-family='"Liberation Serif", "Noto Serif CJK SC", serif'>4</text>
<text transform="translate(1003.29,384.19) scale(1.2469,1)" font-size="22.3" fill="#000" font-family='"Liberation Serif", "Noto Serif CJK SC", serif'>2</text>
<text transform="translate(1001.47,433.85) scale(1.4606,1)" font-size="22.3" fill="#000" font-family='"Liberation Serif", "Noto Serif CJK SC", serif'>1</text>
<text transform="translate(1001.41,483.51) scale(1.2265,1)" font-size="22.3" fill="#000" font-family='"Liberation Serif", "Noto Serif CJK SC", serif'>0.8</text>
<text transform="translate(1001.42,533.17) scale(1.2161,1)" font-size="22.3" fill="#000" font-family='"Liberation Serif", "Noto Serif CJK SC", serif'>0.6</text>
<text transform="translate(1001.43,582.83) scale(1.1958,1)" font-size="22.3" fill="#000" font-family='"Liberation Serif", "Noto Serif CJK SC", serif'>0.4</text>
<text transform="translate(1001.40,632.48) scale(1.2370,1)" font-size="22.3" fill="#000" font-family='"Liberation Serif", "Noto Serif CJK SC", serif'>0.2</text>
<text transform="translate(1001.43,682.14) scale(1.2049,1)" font-size="22.3" fill="#000" font-family='"Liberation Serif", "Noto Serif CJK SC", serif'>0.1</text>
<text transform="translate(940.42,108.50) scale(1.2079,1)" font-size="22.3" fill="#000" font-family='"Liberation Serif", "Noto Serif CJK SC", serif'>(km)</text>
<text transform="translate(359.92,809.40) scale(0.9831,1)" font-size="19.8" fill="#000" font-family='"Liberation Serif", "Noto Serif CJK SC", serif' font-weight="300">版权所有</text>
<text transform="translate(439.73,809.40) scale(1.0000,1)" font-size="19.8" fill="#000" font-family='"Liberation Serif", "Noto Serif CJK SC", serif'>:</text>
<text transform="translate(453.02,809.40) scale(0.9881,1)" font-size="19.8" fill="#000" font-family='"Liberation Serif", "Noto Serif CJK SC", serif' font-weight="300">南京大学</text>
<text transform="translate(545.72,809.40) scale(0.9927,1)" font-size="19.8" fill="#000" font-family='"Liberation Serif", "Noto Serif CJK SC", serif' font-weight="300">南京创蓝科技有限公司</text>
<path d="M534.6 788V818" stroke="#000" stroke-width="1"/>
<rect x="956.5" y="127.30" width="40" height="49.66" fill="#92d050" stroke="#000" stroke-width="1.3"/>
<rect x="956.5" y="176.96" width="40" height="49.66" fill="#6fab38" stroke="#000" stroke-width="1.3"/>
<rect x="956.5" y="226.62" width="40" height="49.66" fill="#f4f66c" stroke="#000" stroke-width="1.3"/>
<rect x="956.5" y="276.28" width="40" height="49.66" fill="#ffe600" stroke="#000" stroke-width="1.3"/>
<rect x="956.5" y="325.93" width="40" height="49.66" fill="#ffae28" stroke="#000" stroke-width="1.3"/>
<rect x="956.5" y="375.59" width="40" height="49.66" fill="#ff8c00" stroke="#000" stroke-width="1.3"/>
<rect x="956.5" y="425.25" width="40" height="49.66" fill="#ff3060" stroke="#000" stroke-width="1.3"/>
<rect x="956.5" y="474.91" width="40" height="49.66" fill="#ff0000" stroke="#000" stroke-width="1.3"/>
<rect x="956.5" y="524.57" width="40" height="49.66" fill="#c71585" stroke="#000" stroke-width="1.3"/>
<rect x="956.5" y="574.23" width="40" height="49.66" fill="#b03060" stroke="#000" stroke-width="1.3"/>
<rect x="956.5" y="623.88" width="40" height="49.66" fill="#9932cc" stroke="#000" stroke-width="1.3"/>
<rect x="956.5" y="673.54" width="40" height="49.66" fill="#8a2be2" stroke="#000" stroke-width="1.3"/>
</svg>
</body></html>
